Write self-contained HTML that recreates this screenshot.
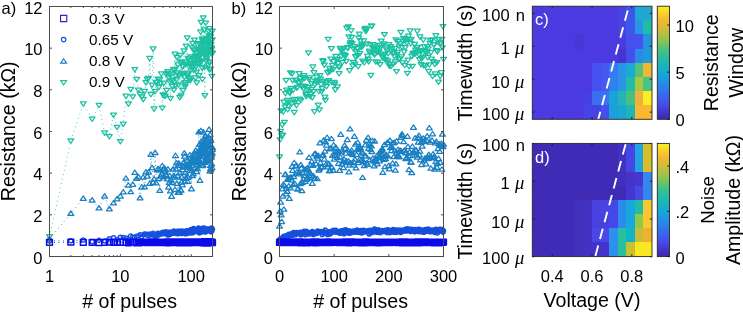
<!DOCTYPE html>
<html><head><meta charset="utf-8"><style>
html,body{margin:0;padding:0;background:#fff;width:743px;height:312px;overflow:hidden}
svg{display:block}
#w{will-change:transform;width:743px;height:312px}
</style></head><body><div id="w">
<svg width="743" height="312" viewBox="0 0 743 312">
<rect width="743" height="312" fill="#fff"/>
<defs><clipPath id="ca"><rect x="40" y="0" width="180" height="260"/></clipPath><clipPath id="cb"><rect x="272" y="0" width="180" height="260"/></clipPath></defs>
<g clip-path="url(#ca)">
<polyline points="49.50,236.71 70.82,140.88 83.30,103.79 92.15,119.00 99.01,105.25 104.62,132.96 109.36,136.50 113.47,115.04 117.10,127.33 120.34,141.50 123.27,124.21 125.95,96.18 128.41,103.90 130.69,89.27 132.81,96.76 134.80,69.52 136.66,79.28 138.42,90.17 140.08,94.28 141.66,96.80 143.16,99.39 144.59,91.43 145.96,82.66 147.27,79.42 148.53,78.36 149.73,58.40 150.89,94.44 152.01,85.01 153.09,48.92 154.14,108.98 155.14,91.45 156.12,82.38 157.07,82.44 157.99,79.03 158.88,87.25 159.75,79.31 160.59,83.23 161.41,73.83 162.21,108.12 162.99,94.95 163.75,83.21 164.49,96.18 165.21,96.03 165.92,74.12 166.61,90.32 167.29,73.42 167.95,71.70 168.60,77.09 169.23,74.20 169.85,81.84 170.46,98.42 171.06,80.35 171.64,73.83 172.22,86.28 172.78,80.48 173.34,69.27 173.88,90.05 174.42,70.21 174.94,54.19 175.46,85.18 175.97,75.90 176.47,79.51 176.96,57.46 177.45,72.80 177.92,64.80 178.39,84.82 178.86,75.64 179.31,75.09 179.76,97.44 180.20,55.43 180.64,61.98 181.07,95.75 181.49,63.10 181.91,73.98 182.33,66.07 182.73,66.71 183.13,90.39 183.53,73.36 183.92,50.94 184.31,77.24 184.69,82.63 185.07,86.60 185.44,84.42 185.81,63.94 186.18,46.03 186.54,61.98 186.89,63.99 187.24,37.95 187.59,73.15 187.93,74.79 188.27,58.91 188.61,58.31 188.94,78.15 189.27,79.82 189.60,60.62 189.92,60.85 190.24,80.59 190.55,66.00 190.87,70.08 191.18,56.81 191.48,63.96 191.78,63.26 192.09,66.42 192.38,47.96 192.68,43.31 192.97,65.73 193.26,49.78 193.54,70.21 193.83,59.22 194.11,50.19 194.39,40.04 194.66,64.27 194.94,60.02 195.21,56.26 195.48,77.89 195.74,58.07 196.01,66.74 196.27,52.96 196.53,72.10 196.78,82.79 197.04,56.51 197.29,53.39 197.54,63.60 197.79,44.78 198.04,59.55 198.29,63.60 198.53,49.37 198.77,75.56 199.01,63.82 199.25,55.11 199.48,43.64 199.72,56.48 199.95,50.16 200.18,62.39 200.41,49.80 200.64,31.99 200.86,62.12 201.08,22.47 201.31,61.13 201.53,52.38 201.75,50.15 201.96,39.04 202.18,68.17 202.39,79.25 202.61,44.21 202.82,41.69 203.03,43.83 203.24,17.83 203.44,49.08 203.65,48.37 203.85,39.58 204.06,46.74 204.26,29.94 204.46,67.35 204.66,56.13 204.86,95.70 205.05,40.64 205.25,55.88 205.44,39.06 205.64,23.10 205.83,50.93 206.02,54.07 206.21,57.17 206.39,61.47 206.58,58.72 206.77,42.25 206.95,49.96 207.14,49.52 207.32,52.54 207.50,38.43 207.68,43.79 207.86,51.94 208.04,41.45 208.22,51.94 208.39,64.80 208.57,31.05 208.74,43.77 208.91,62.08 209.09,35.72 209.26,45.14 209.43,69.74 209.60,28.67 209.77,45.10 209.93,37.83 210.10,46.73 210.27,51.15 210.43,69.16 210.60,36.55 210.76,48.65 210.92,52.68 211.08,44.39 211.24,47.85 211.40,40.08 211.56,53.54 211.72,49.16 211.88,76.26 212.04,54.04 212.19,39.79 212.35,31.19 212.50,53.10" fill="none" stroke="#1CC0A2" stroke-width="1" stroke-dasharray="0.9 3.6" opacity="0.9"/><path d="M49.50,239.11L52.45,234.71L46.55,234.71ZM70.82,143.28L73.77,138.88L67.87,138.88ZM83.30,106.19L86.25,101.79L80.35,101.79ZM92.15,121.40L95.10,117.00L89.20,117.00ZM99.01,107.65L101.96,103.25L96.06,103.25ZM104.62,135.36L107.57,130.96L101.67,130.96ZM109.36,138.90L112.31,134.50L106.41,134.50ZM113.47,117.44L116.42,113.04L110.52,113.04ZM117.10,129.73L120.05,125.33L114.15,125.33ZM120.34,143.90L123.29,139.50L117.39,139.50ZM123.27,126.61L126.22,122.21L120.32,122.21ZM125.95,98.58L128.90,94.18L123.00,94.18ZM128.41,106.30L131.36,101.90L125.46,101.90ZM130.69,91.67L133.64,87.27L127.74,87.27ZM132.81,99.16L135.76,94.76L129.86,94.76ZM134.80,71.92L137.75,67.52L131.85,67.52ZM136.66,81.68L139.61,77.28L133.71,77.28ZM138.42,92.57L141.37,88.17L135.47,88.17ZM140.08,96.68L143.03,92.28L137.13,92.28ZM141.66,99.20L144.61,94.80L138.71,94.80ZM143.16,101.79L146.11,97.39L140.21,97.39ZM144.59,93.83L147.54,89.43L141.64,89.43ZM145.96,85.06L148.91,80.66L143.01,80.66ZM147.27,81.82L150.22,77.42L144.32,77.42ZM148.53,80.76L151.48,76.36L145.58,76.36ZM149.73,60.80L152.68,56.40L146.78,56.40ZM150.89,96.84L153.84,92.44L147.94,92.44ZM152.01,87.41L154.96,83.01L149.06,83.01ZM153.09,51.32L156.04,46.92L150.14,46.92ZM154.14,111.38L157.09,106.98L151.19,106.98ZM155.14,93.85L158.09,89.45L152.19,89.45ZM156.12,84.78L159.07,80.38L153.17,80.38ZM157.07,84.84L160.02,80.44L154.12,80.44ZM157.99,81.43L160.94,77.03L155.04,77.03ZM158.88,89.65L161.83,85.25L155.93,85.25ZM159.75,81.71L162.70,77.31L156.80,77.31ZM160.59,85.63L163.54,81.23L157.64,81.23ZM161.41,76.23L164.36,71.83L158.46,71.83ZM162.21,110.52L165.16,106.12L159.26,106.12ZM162.99,97.35L165.94,92.95L160.04,92.95ZM163.75,85.61L166.70,81.21L160.80,81.21ZM164.49,98.58L167.44,94.18L161.54,94.18ZM165.21,98.43L168.16,94.03L162.26,94.03ZM165.92,76.52L168.87,72.12L162.97,72.12ZM166.61,92.72L169.56,88.32L163.66,88.32ZM167.29,75.82L170.24,71.42L164.34,71.42ZM167.95,74.10L170.90,69.70L165.00,69.70ZM168.60,79.49L171.55,75.09L165.65,75.09ZM169.23,76.60L172.18,72.20L166.28,72.20ZM169.85,84.24L172.80,79.84L166.90,79.84ZM170.46,100.82L173.41,96.42L167.51,96.42ZM171.06,82.75L174.01,78.35L168.11,78.35ZM171.64,76.23L174.59,71.83L168.69,71.83ZM172.22,88.68L175.17,84.28L169.27,84.28ZM172.78,82.88L175.73,78.48L169.83,78.48ZM173.34,71.67L176.29,67.27L170.39,67.27ZM173.88,92.45L176.83,88.05L170.93,88.05ZM174.42,72.61L177.37,68.21L171.47,68.21ZM174.94,56.59L177.89,52.19L171.99,52.19ZM175.46,87.58L178.41,83.18L172.51,83.18ZM175.97,78.30L178.92,73.90L173.02,73.90ZM176.47,81.91L179.42,77.51L173.52,77.51ZM176.96,59.86L179.91,55.46L174.01,55.46ZM177.45,75.20L180.40,70.80L174.50,70.80ZM177.92,67.20L180.87,62.80L174.97,62.80ZM178.39,87.22L181.34,82.82L175.44,82.82ZM178.86,78.04L181.81,73.64L175.91,73.64ZM179.31,77.49L182.26,73.09L176.36,73.09ZM179.76,99.84L182.71,95.44L176.81,95.44ZM180.20,57.83L183.15,53.43L177.25,53.43ZM180.64,64.38L183.59,59.98L177.69,59.98ZM181.07,98.15L184.02,93.75L178.12,93.75ZM181.49,65.50L184.44,61.10L178.54,61.10ZM181.91,76.38L184.86,71.98L178.96,71.98ZM182.33,68.47L185.28,64.07L179.38,64.07ZM182.73,69.11L185.68,64.71L179.78,64.71ZM183.13,92.79L186.08,88.39L180.18,88.39ZM183.53,75.76L186.48,71.36L180.58,71.36ZM183.92,53.34L186.87,48.94L180.97,48.94ZM184.31,79.64L187.26,75.24L181.36,75.24ZM184.69,85.03L187.64,80.63L181.74,80.63ZM185.07,89.00L188.02,84.60L182.12,84.60ZM185.44,86.82L188.39,82.42L182.49,82.42ZM185.81,66.34L188.76,61.94L182.86,61.94ZM186.18,48.43L189.13,44.03L183.23,44.03ZM186.54,64.38L189.49,59.98L183.59,59.98ZM186.89,66.39L189.84,61.99L183.94,61.99ZM187.24,40.35L190.19,35.95L184.29,35.95ZM187.59,75.55L190.54,71.15L184.64,71.15ZM187.93,77.19L190.88,72.79L184.98,72.79ZM188.27,61.31L191.22,56.91L185.32,56.91ZM188.61,60.71L191.56,56.31L185.66,56.31ZM188.94,80.55L191.89,76.15L185.99,76.15ZM189.27,82.22L192.22,77.82L186.32,77.82ZM189.60,63.02L192.55,58.62L186.65,58.62ZM189.92,63.25L192.87,58.85L186.97,58.85ZM190.24,82.99L193.19,78.59L187.29,78.59ZM190.55,68.40L193.50,64.00L187.60,64.00ZM190.87,72.48L193.82,68.08L187.92,68.08ZM191.18,59.21L194.13,54.81L188.23,54.81ZM191.48,66.36L194.43,61.96L188.53,61.96ZM191.78,65.66L194.73,61.26L188.83,61.26ZM192.09,68.82L195.04,64.42L189.14,64.42ZM192.38,50.36L195.33,45.96L189.43,45.96ZM192.68,45.71L195.63,41.31L189.73,41.31ZM192.97,68.13L195.92,63.73L190.02,63.73ZM193.26,52.18L196.21,47.78L190.31,47.78ZM193.54,72.61L196.49,68.21L190.59,68.21ZM193.83,61.62L196.78,57.22L190.88,57.22ZM194.11,52.59L197.06,48.19L191.16,48.19ZM194.39,42.44L197.34,38.04L191.44,38.04ZM194.66,66.67L197.61,62.27L191.71,62.27ZM194.94,62.42L197.89,58.02L191.99,58.02ZM195.21,58.66L198.16,54.26L192.26,54.26ZM195.48,80.29L198.43,75.89L192.53,75.89ZM195.74,60.47L198.69,56.07L192.79,56.07ZM196.01,69.14L198.96,64.74L193.06,64.74ZM196.27,55.36L199.22,50.96L193.32,50.96ZM196.53,74.50L199.48,70.10L193.58,70.10ZM196.78,85.19L199.73,80.79L193.83,80.79ZM197.04,58.91L199.99,54.51L194.09,54.51ZM197.29,55.79L200.24,51.39L194.34,51.39ZM197.54,66.00L200.49,61.60L194.59,61.60ZM197.79,47.18L200.74,42.78L194.84,42.78ZM198.04,61.95L200.99,57.55L195.09,57.55ZM198.29,66.00L201.24,61.60L195.34,61.60ZM198.53,51.77L201.48,47.37L195.58,47.37ZM198.77,77.96L201.72,73.56L195.82,73.56ZM199.01,66.22L201.96,61.82L196.06,61.82ZM199.25,57.51L202.20,53.11L196.30,53.11ZM199.48,46.04L202.43,41.64L196.53,41.64ZM199.72,58.88L202.67,54.48L196.77,54.48ZM199.95,52.56L202.90,48.16L197.00,48.16ZM200.18,64.79L203.13,60.39L197.23,60.39ZM200.41,52.20L203.36,47.80L197.46,47.80ZM200.64,34.39L203.59,29.99L197.69,29.99ZM200.86,64.52L203.81,60.12L197.91,60.12ZM201.08,24.87L204.03,20.47L198.13,20.47ZM201.31,63.53L204.26,59.13L198.36,59.13ZM201.53,54.78L204.48,50.38L198.58,50.38ZM201.75,52.55L204.70,48.15L198.80,48.15ZM201.96,41.44L204.91,37.04L199.01,37.04ZM202.18,70.57L205.13,66.17L199.23,66.17ZM202.39,81.65L205.34,77.25L199.44,77.25ZM202.61,46.61L205.56,42.21L199.66,42.21ZM202.82,44.09L205.77,39.69L199.87,39.69ZM203.03,46.23L205.98,41.83L200.08,41.83ZM203.24,20.23L206.19,15.83L200.29,15.83ZM203.44,51.48L206.39,47.08L200.49,47.08ZM203.65,50.77L206.60,46.37L200.70,46.37ZM203.85,41.98L206.80,37.58L200.90,37.58ZM204.06,49.14L207.01,44.74L201.11,44.74ZM204.26,32.34L207.21,27.94L201.31,27.94ZM204.46,69.75L207.41,65.35L201.51,65.35ZM204.66,58.53L207.61,54.13L201.71,54.13ZM204.86,98.10L207.81,93.70L201.91,93.70ZM205.05,43.04L208.00,38.64L202.10,38.64ZM205.25,58.28L208.20,53.88L202.30,53.88ZM205.44,41.46L208.39,37.06L202.49,37.06ZM205.64,25.50L208.59,21.10L202.69,21.10ZM205.83,53.33L208.78,48.93L202.88,48.93ZM206.02,56.47L208.97,52.07L203.07,52.07ZM206.21,59.57L209.16,55.17L203.26,55.17ZM206.39,63.87L209.34,59.47L203.44,59.47ZM206.58,61.12L209.53,56.72L203.63,56.72ZM206.77,44.65L209.72,40.25L203.82,40.25ZM206.95,52.36L209.90,47.96L204.00,47.96ZM207.14,51.92L210.09,47.52L204.19,47.52ZM207.32,54.94L210.27,50.54L204.37,50.54ZM207.50,40.83L210.45,36.43L204.55,36.43ZM207.68,46.19L210.63,41.79L204.73,41.79ZM207.86,54.34L210.81,49.94L204.91,49.94ZM208.04,43.85L210.99,39.45L205.09,39.45ZM208.22,54.34L211.17,49.94L205.27,49.94ZM208.39,67.20L211.34,62.80L205.44,62.80ZM208.57,33.45L211.52,29.05L205.62,29.05ZM208.74,46.17L211.69,41.77L205.79,41.77ZM208.91,64.48L211.86,60.08L205.96,60.08ZM209.09,38.12L212.04,33.72L206.14,33.72ZM209.26,47.54L212.21,43.14L206.31,43.14ZM209.43,72.14L212.38,67.74L206.48,67.74ZM209.60,31.07L212.55,26.67L206.65,26.67ZM209.77,47.50L212.72,43.10L206.82,43.10ZM209.93,40.23L212.88,35.83L206.98,35.83ZM210.10,49.13L213.05,44.73L207.15,44.73ZM210.27,53.55L213.22,49.15L207.32,49.15ZM210.43,71.56L213.38,67.16L207.48,67.16ZM210.60,38.95L213.55,34.55L207.65,34.55ZM210.76,51.05L213.71,46.65L207.81,46.65ZM210.92,55.08L213.87,50.68L207.97,50.68ZM211.08,46.79L214.03,42.39L208.13,42.39ZM211.24,50.25L214.19,45.85L208.29,45.85ZM211.40,42.48L214.35,38.08L208.45,38.08ZM211.56,55.94L214.51,51.54L208.61,51.54ZM211.72,51.56L214.67,47.16L208.77,47.16ZM211.88,78.66L214.83,74.26L208.93,74.26ZM212.04,56.44L214.99,52.04L209.09,52.04ZM212.19,42.19L215.14,37.79L209.24,37.79ZM212.35,33.59L215.30,29.19L209.40,29.19ZM212.50,55.50L215.45,51.10L209.55,51.10Z" fill="none" stroke="#1CC0A2" stroke-width="1.25" stroke-linejoin="round"/>
<polyline points="49.50,238.79 70.82,213.38 83.30,198.38 92.15,200.04 99.01,207.96 104.62,196.08 109.36,208.79 113.47,202.96 117.10,198.79 120.34,196.08 123.27,191.92 125.95,178.15 128.41,185.16 130.69,191.74 132.81,184.37 134.80,172.43 136.66,178.45 138.42,176.87 140.08,197.83 141.66,187.17 143.16,177.14 144.59,186.99 145.96,171.96 147.27,176.11 148.53,172.12 149.73,183.40 150.89,154.32 152.01,167.60 153.09,182.44 154.14,178.95 155.14,152.56 156.12,182.88 157.07,169.93 157.99,168.55 158.88,178.43 159.75,190.40 160.59,176.04 161.41,174.01 162.21,165.75 162.99,169.15 163.75,176.88 164.49,168.08 165.21,171.19 165.92,174.51 166.61,175.93 167.29,178.89 167.95,169.06 168.60,187.05 169.23,182.47 169.85,175.74 170.46,190.90 171.06,180.06 171.64,196.32 172.22,182.38 172.78,169.22 173.34,169.12 173.88,175.47 174.42,177.20 174.94,189.42 175.46,155.51 175.97,169.06 176.47,162.94 176.96,183.41 177.45,175.82 177.92,192.49 178.39,165.06 178.86,163.11 179.31,192.28 179.76,172.73 180.20,165.29 180.64,189.89 181.07,190.24 181.49,182.00 181.91,177.16 182.33,184.91 182.73,169.67 183.13,167.10 183.53,162.81 183.92,161.81 184.31,153.09 184.69,156.16 185.07,181.51 185.44,172.67 185.81,178.02 186.18,177.76 186.54,166.97 186.89,165.65 187.24,160.19 187.59,181.41 187.93,177.37 188.27,164.32 188.61,165.76 188.94,166.54 189.27,163.56 189.60,170.44 189.92,154.84 190.24,158.08 190.55,162.31 190.87,168.03 191.18,162.48 191.48,188.84 191.78,170.53 192.09,159.74 192.38,175.62 192.68,157.71 192.97,158.08 193.26,173.79 193.54,161.88 193.83,162.38 194.11,154.15 194.39,152.40 194.66,158.99 194.94,167.32 195.21,159.80 195.48,158.82 195.74,150.33 196.01,154.76 196.27,165.20 196.53,171.63 196.78,161.25 197.04,164.93 197.29,168.65 197.54,158.13 197.79,161.89 198.04,155.53 198.29,151.03 198.53,160.64 198.77,131.99 199.01,159.41 199.25,144.44 199.48,154.51 199.72,144.02 199.95,180.26 200.18,163.20 200.41,152.66 200.64,148.83 200.86,130.63 201.08,151.48 201.31,141.38 201.53,146.59 201.75,144.58 201.96,149.07 202.18,155.97 202.39,149.00 202.61,165.50 202.82,141.92 203.03,164.79 203.24,151.56 203.44,132.02 203.65,156.40 203.85,153.84 204.06,141.89 204.26,153.69 204.46,162.34 204.66,151.20 204.86,147.79 205.05,146.42 205.25,161.83 205.44,135.49 205.64,136.35 205.83,153.49 206.02,150.84 206.21,158.07 206.39,138.84 206.58,160.88 206.77,146.48 206.95,158.47 207.14,160.67 207.32,145.92 207.50,139.48 207.68,153.44 207.86,160.36 208.04,144.82 208.22,153.75 208.39,149.97 208.57,137.31 208.74,141.35 208.91,158.52 209.09,129.29 209.26,153.01 209.43,144.83 209.60,159.73 209.77,153.42 209.93,171.15 210.10,134.28 210.27,138.63 210.43,165.49 210.60,168.48 210.76,169.66 210.92,140.49 211.08,157.50 211.24,153.31 211.40,155.91 211.56,153.88 211.72,163.93 211.88,152.31 212.04,167.51 212.19,153.25 212.35,149.26 212.50,147.58" fill="none" stroke="#1A80C4" stroke-width="1" stroke-dasharray="0.9 3.6" opacity="0.9"/><path d="M49.50,236.39L52.45,240.79L46.55,240.79ZM70.82,210.97L73.77,215.38L67.87,215.38ZM83.30,195.97L86.25,200.38L80.35,200.38ZM92.15,197.64L95.10,202.04L89.20,202.04ZM99.01,205.56L101.96,209.96L96.06,209.96ZM104.62,193.68L107.57,198.08L101.67,198.08ZM109.36,206.39L112.31,210.79L106.41,210.79ZM113.47,200.56L116.42,204.96L110.52,204.96ZM117.10,196.39L120.05,200.79L114.15,200.79ZM120.34,193.68L123.29,198.08L117.39,198.08ZM123.27,189.52L126.22,193.92L120.32,193.92ZM125.95,175.75L128.90,180.15L123.00,180.15ZM128.41,182.76L131.36,187.16L125.46,187.16ZM130.69,189.34L133.64,193.74L127.74,193.74ZM132.81,181.97L135.76,186.37L129.86,186.37ZM134.80,170.03L137.75,174.43L131.85,174.43ZM136.66,176.05L139.61,180.45L133.71,180.45ZM138.42,174.47L141.37,178.87L135.47,178.87ZM140.08,195.43L143.03,199.83L137.13,199.83ZM141.66,184.77L144.61,189.17L138.71,189.17ZM143.16,174.74L146.11,179.14L140.21,179.14ZM144.59,184.59L147.54,188.99L141.64,188.99ZM145.96,169.56L148.91,173.96L143.01,173.96ZM147.27,173.71L150.22,178.11L144.32,178.11ZM148.53,169.72L151.48,174.12L145.58,174.12ZM149.73,181.00L152.68,185.40L146.78,185.40ZM150.89,151.92L153.84,156.32L147.94,156.32ZM152.01,165.20L154.96,169.60L149.06,169.60ZM153.09,180.04L156.04,184.44L150.14,184.44ZM154.14,176.55L157.09,180.95L151.19,180.95ZM155.14,150.16L158.09,154.56L152.19,154.56ZM156.12,180.48L159.07,184.88L153.17,184.88ZM157.07,167.53L160.02,171.93L154.12,171.93ZM157.99,166.15L160.94,170.55L155.04,170.55ZM158.88,176.03L161.83,180.43L155.93,180.43ZM159.75,188.00L162.70,192.40L156.80,192.40ZM160.59,173.64L163.54,178.04L157.64,178.04ZM161.41,171.61L164.36,176.01L158.46,176.01ZM162.21,163.35L165.16,167.75L159.26,167.75ZM162.99,166.75L165.94,171.15L160.04,171.15ZM163.75,174.48L166.70,178.88L160.80,178.88ZM164.49,165.68L167.44,170.08L161.54,170.08ZM165.21,168.79L168.16,173.19L162.26,173.19ZM165.92,172.11L168.87,176.51L162.97,176.51ZM166.61,173.53L169.56,177.93L163.66,177.93ZM167.29,176.49L170.24,180.89L164.34,180.89ZM167.95,166.66L170.90,171.06L165.00,171.06ZM168.60,184.65L171.55,189.05L165.65,189.05ZM169.23,180.07L172.18,184.47L166.28,184.47ZM169.85,173.34L172.80,177.74L166.90,177.74ZM170.46,188.50L173.41,192.90L167.51,192.90ZM171.06,177.66L174.01,182.06L168.11,182.06ZM171.64,193.92L174.59,198.32L168.69,198.32ZM172.22,179.98L175.17,184.38L169.27,184.38ZM172.78,166.82L175.73,171.22L169.83,171.22ZM173.34,166.72L176.29,171.12L170.39,171.12ZM173.88,173.07L176.83,177.47L170.93,177.47ZM174.42,174.80L177.37,179.20L171.47,179.20ZM174.94,187.02L177.89,191.42L171.99,191.42ZM175.46,153.11L178.41,157.51L172.51,157.51ZM175.97,166.66L178.92,171.06L173.02,171.06ZM176.47,160.54L179.42,164.94L173.52,164.94ZM176.96,181.01L179.91,185.41L174.01,185.41ZM177.45,173.42L180.40,177.82L174.50,177.82ZM177.92,190.09L180.87,194.49L174.97,194.49ZM178.39,162.66L181.34,167.06L175.44,167.06ZM178.86,160.71L181.81,165.11L175.91,165.11ZM179.31,189.88L182.26,194.28L176.36,194.28ZM179.76,170.33L182.71,174.73L176.81,174.73ZM180.20,162.89L183.15,167.29L177.25,167.29ZM180.64,187.49L183.59,191.89L177.69,191.89ZM181.07,187.84L184.02,192.24L178.12,192.24ZM181.49,179.60L184.44,184.00L178.54,184.00ZM181.91,174.76L184.86,179.16L178.96,179.16ZM182.33,182.51L185.28,186.91L179.38,186.91ZM182.73,167.27L185.68,171.67L179.78,171.67ZM183.13,164.70L186.08,169.10L180.18,169.10ZM183.53,160.41L186.48,164.81L180.58,164.81ZM183.92,159.41L186.87,163.81L180.97,163.81ZM184.31,150.69L187.26,155.09L181.36,155.09ZM184.69,153.76L187.64,158.16L181.74,158.16ZM185.07,179.11L188.02,183.51L182.12,183.51ZM185.44,170.27L188.39,174.67L182.49,174.67ZM185.81,175.62L188.76,180.02L182.86,180.02ZM186.18,175.36L189.13,179.76L183.23,179.76ZM186.54,164.57L189.49,168.97L183.59,168.97ZM186.89,163.25L189.84,167.65L183.94,167.65ZM187.24,157.79L190.19,162.19L184.29,162.19ZM187.59,179.01L190.54,183.41L184.64,183.41ZM187.93,174.97L190.88,179.37L184.98,179.37ZM188.27,161.92L191.22,166.32L185.32,166.32ZM188.61,163.36L191.56,167.76L185.66,167.76ZM188.94,164.14L191.89,168.54L185.99,168.54ZM189.27,161.16L192.22,165.56L186.32,165.56ZM189.60,168.04L192.55,172.44L186.65,172.44ZM189.92,152.44L192.87,156.84L186.97,156.84ZM190.24,155.68L193.19,160.08L187.29,160.08ZM190.55,159.91L193.50,164.31L187.60,164.31ZM190.87,165.63L193.82,170.03L187.92,170.03ZM191.18,160.08L194.13,164.48L188.23,164.48ZM191.48,186.44L194.43,190.84L188.53,190.84ZM191.78,168.13L194.73,172.53L188.83,172.53ZM192.09,157.34L195.04,161.74L189.14,161.74ZM192.38,173.22L195.33,177.62L189.43,177.62ZM192.68,155.31L195.63,159.71L189.73,159.71ZM192.97,155.68L195.92,160.08L190.02,160.08ZM193.26,171.39L196.21,175.79L190.31,175.79ZM193.54,159.48L196.49,163.88L190.59,163.88ZM193.83,159.98L196.78,164.38L190.88,164.38ZM194.11,151.75L197.06,156.15L191.16,156.15ZM194.39,150.00L197.34,154.40L191.44,154.40ZM194.66,156.59L197.61,160.99L191.71,160.99ZM194.94,164.92L197.89,169.32L191.99,169.32ZM195.21,157.40L198.16,161.80L192.26,161.80ZM195.48,156.42L198.43,160.82L192.53,160.82ZM195.74,147.93L198.69,152.33L192.79,152.33ZM196.01,152.36L198.96,156.76L193.06,156.76ZM196.27,162.80L199.22,167.20L193.32,167.20ZM196.53,169.23L199.48,173.63L193.58,173.63ZM196.78,158.85L199.73,163.25L193.83,163.25ZM197.04,162.53L199.99,166.93L194.09,166.93ZM197.29,166.25L200.24,170.65L194.34,170.65ZM197.54,155.73L200.49,160.13L194.59,160.13ZM197.79,159.49L200.74,163.89L194.84,163.89ZM198.04,153.13L200.99,157.53L195.09,157.53ZM198.29,148.63L201.24,153.03L195.34,153.03ZM198.53,158.24L201.48,162.64L195.58,162.64ZM198.77,129.59L201.72,133.99L195.82,133.99ZM199.01,157.01L201.96,161.41L196.06,161.41ZM199.25,142.04L202.20,146.44L196.30,146.44ZM199.48,152.11L202.43,156.51L196.53,156.51ZM199.72,141.62L202.67,146.02L196.77,146.02ZM199.95,177.86L202.90,182.26L197.00,182.26ZM200.18,160.80L203.13,165.20L197.23,165.20ZM200.41,150.26L203.36,154.66L197.46,154.66ZM200.64,146.43L203.59,150.83L197.69,150.83ZM200.86,128.23L203.81,132.63L197.91,132.63ZM201.08,149.08L204.03,153.48L198.13,153.48ZM201.31,138.98L204.26,143.38L198.36,143.38ZM201.53,144.19L204.48,148.59L198.58,148.59ZM201.75,142.18L204.70,146.58L198.80,146.58ZM201.96,146.67L204.91,151.07L199.01,151.07ZM202.18,153.57L205.13,157.97L199.23,157.97ZM202.39,146.60L205.34,151.00L199.44,151.00ZM202.61,163.10L205.56,167.50L199.66,167.50ZM202.82,139.52L205.77,143.92L199.87,143.92ZM203.03,162.39L205.98,166.79L200.08,166.79ZM203.24,149.16L206.19,153.56L200.29,153.56ZM203.44,129.62L206.39,134.02L200.49,134.02ZM203.65,154.00L206.60,158.40L200.70,158.40ZM203.85,151.44L206.80,155.84L200.90,155.84ZM204.06,139.49L207.01,143.89L201.11,143.89ZM204.26,151.29L207.21,155.69L201.31,155.69ZM204.46,159.94L207.41,164.34L201.51,164.34ZM204.66,148.80L207.61,153.20L201.71,153.20ZM204.86,145.39L207.81,149.79L201.91,149.79ZM205.05,144.02L208.00,148.42L202.10,148.42ZM205.25,159.43L208.20,163.83L202.30,163.83ZM205.44,133.09L208.39,137.49L202.49,137.49ZM205.64,133.95L208.59,138.35L202.69,138.35ZM205.83,151.09L208.78,155.49L202.88,155.49ZM206.02,148.44L208.97,152.84L203.07,152.84ZM206.21,155.67L209.16,160.07L203.26,160.07ZM206.39,136.44L209.34,140.84L203.44,140.84ZM206.58,158.48L209.53,162.88L203.63,162.88ZM206.77,144.08L209.72,148.48L203.82,148.48ZM206.95,156.07L209.90,160.47L204.00,160.47ZM207.14,158.27L210.09,162.67L204.19,162.67ZM207.32,143.52L210.27,147.92L204.37,147.92ZM207.50,137.08L210.45,141.48L204.55,141.48ZM207.68,151.04L210.63,155.44L204.73,155.44ZM207.86,157.96L210.81,162.36L204.91,162.36ZM208.04,142.42L210.99,146.82L205.09,146.82ZM208.22,151.35L211.17,155.75L205.27,155.75ZM208.39,147.57L211.34,151.97L205.44,151.97ZM208.57,134.91L211.52,139.31L205.62,139.31ZM208.74,138.95L211.69,143.35L205.79,143.35ZM208.91,156.12L211.86,160.52L205.96,160.52ZM209.09,126.89L212.04,131.29L206.14,131.29ZM209.26,150.61L212.21,155.01L206.31,155.01ZM209.43,142.43L212.38,146.83L206.48,146.83ZM209.60,157.33L212.55,161.73L206.65,161.73ZM209.77,151.02L212.72,155.42L206.82,155.42ZM209.93,168.75L212.88,173.15L206.98,173.15ZM210.10,131.88L213.05,136.28L207.15,136.28ZM210.27,136.23L213.22,140.63L207.32,140.63ZM210.43,163.09L213.38,167.49L207.48,167.49ZM210.60,166.08L213.55,170.48L207.65,170.48ZM210.76,167.26L213.71,171.66L207.81,171.66ZM210.92,138.09L213.87,142.49L207.97,142.49ZM211.08,155.10L214.03,159.50L208.13,159.50ZM211.24,150.91L214.19,155.31L208.29,155.31ZM211.40,153.51L214.35,157.91L208.45,157.91ZM211.56,151.48L214.51,155.88L208.61,155.88ZM211.72,161.53L214.67,165.93L208.77,165.93ZM211.88,149.91L214.83,154.31L208.93,154.31ZM212.04,165.11L214.99,169.51L209.09,169.51ZM212.19,150.85L215.14,155.25L209.24,155.25ZM212.35,146.86L215.30,151.26L209.40,151.26ZM212.50,145.18L215.45,149.58L209.55,149.58Z" fill="none" stroke="#1A80C4" stroke-width="1.25" stroke-linejoin="round"/>
<polyline points="49.50,240.73 70.82,240.84 83.30,239.94 92.15,241.66 99.01,240.30 104.62,240.97 109.36,238.85 113.47,237.79 117.10,239.86 120.34,237.33 123.27,237.43 125.95,238.13 128.41,239.47 130.69,236.01 132.81,237.15 134.80,237.38 136.66,236.20 138.42,235.96 140.08,234.73 141.66,236.89 143.16,234.68 144.59,234.17 145.96,234.03 147.27,235.39 148.53,235.76 149.73,233.98 150.89,234.72 152.01,234.60 153.09,233.27 154.14,234.75 155.14,236.56 156.12,234.67 157.07,235.96 157.99,233.36 158.88,233.74 159.75,234.53 160.59,233.88 161.41,233.01 162.21,233.64 162.99,232.39 163.75,233.62 164.49,232.52 165.21,232.02 165.92,231.84 166.61,233.91 167.29,232.39 167.95,234.91 168.60,234.10 169.23,234.87 169.85,231.96 170.46,234.07 171.06,232.87 171.64,232.99 172.22,232.78 172.78,233.26 173.34,232.44 173.88,230.93 174.42,232.52 174.94,232.02 175.46,231.53 175.97,232.61 176.47,233.56 176.96,232.86 177.45,231.29 177.92,233.80 178.39,232.77 178.86,231.23 179.31,231.39 179.76,232.08 180.20,231.30 180.64,231.86 181.07,233.08 181.49,233.40 181.91,232.50 182.33,231.00 182.73,232.36 183.13,232.64 183.53,232.48 183.92,233.16 184.31,231.80 184.69,232.76 185.07,231.28 185.44,233.80 185.81,231.25 186.18,232.13 186.54,233.31 186.89,230.78 187.24,231.69 187.59,233.49 187.93,232.19 188.27,231.07 188.61,231.74 188.94,230.55 189.27,230.55 189.60,230.60 189.92,230.89 190.24,229.92 190.55,230.52 190.87,230.69 191.18,233.04 191.48,230.22 191.78,229.81 192.09,231.29 192.38,231.43 192.68,229.15 192.97,232.60 193.26,230.49 193.54,228.63 193.83,231.75 194.11,230.21 194.39,229.07 194.66,230.93 194.94,230.27 195.21,229.93 195.48,231.61 195.74,230.82 196.01,230.44 196.27,229.92 196.53,230.71 196.78,230.84 197.04,231.59 197.29,230.96 197.54,229.76 197.79,230.49 198.04,231.36 198.29,231.33 198.53,228.03 198.77,229.44 199.01,229.89 199.25,232.90 199.48,229.87 199.72,229.98 199.95,228.84 200.18,230.00 200.41,230.45 200.64,229.88 200.86,232.17 201.08,229.36 201.31,230.01 201.53,230.96 201.75,229.04 201.96,228.57 202.18,231.56 202.39,230.86 202.61,229.94 202.82,230.03 203.03,230.56 203.24,231.08 203.44,228.16 203.65,229.16 203.85,231.24 204.06,231.37 204.26,228.49 204.46,229.15 204.66,228.35 204.86,229.29 205.05,230.85 205.25,229.77 205.44,232.03 205.64,230.69 205.83,230.03 206.02,229.47 206.21,230.62 206.39,230.04 206.58,229.48 206.77,229.55 206.95,229.29 207.14,229.68 207.32,230.16 207.50,229.10 207.68,229.78 207.86,230.59 208.04,230.39 208.22,229.79 208.39,229.88 208.57,229.62 208.74,229.75 208.91,229.57 209.09,229.85 209.26,230.89 209.43,229.30 209.60,228.70 209.77,229.26 209.93,229.84 210.10,229.23 210.27,230.54 210.43,231.40 210.60,229.55 210.76,230.47 210.92,228.89 211.08,230.59 211.24,232.02 211.40,230.52 211.56,228.06 211.72,229.88 211.88,230.80 212.04,230.22 212.19,229.00 212.35,229.01 212.50,229.30" fill="none" stroke="#1550DC" stroke-width="1" stroke-dasharray="0.9 3.6" opacity="0.9"/><path d="M47.40,240.73a2.1,2.1 0 1,0 4.2,0a2.1,2.1 0 1,0 -4.2,0ZM68.72,240.84a2.1,2.1 0 1,0 4.2,0a2.1,2.1 0 1,0 -4.2,0ZM81.20,239.94a2.1,2.1 0 1,0 4.2,0a2.1,2.1 0 1,0 -4.2,0ZM90.05,241.66a2.1,2.1 0 1,0 4.2,0a2.1,2.1 0 1,0 -4.2,0ZM96.91,240.30a2.1,2.1 0 1,0 4.2,0a2.1,2.1 0 1,0 -4.2,0ZM102.52,240.97a2.1,2.1 0 1,0 4.2,0a2.1,2.1 0 1,0 -4.2,0ZM107.26,238.85a2.1,2.1 0 1,0 4.2,0a2.1,2.1 0 1,0 -4.2,0ZM111.37,237.79a2.1,2.1 0 1,0 4.2,0a2.1,2.1 0 1,0 -4.2,0ZM115.00,239.86a2.1,2.1 0 1,0 4.2,0a2.1,2.1 0 1,0 -4.2,0ZM118.24,237.33a2.1,2.1 0 1,0 4.2,0a2.1,2.1 0 1,0 -4.2,0ZM121.17,237.43a2.1,2.1 0 1,0 4.2,0a2.1,2.1 0 1,0 -4.2,0ZM123.85,238.13a2.1,2.1 0 1,0 4.2,0a2.1,2.1 0 1,0 -4.2,0ZM126.31,239.47a2.1,2.1 0 1,0 4.2,0a2.1,2.1 0 1,0 -4.2,0ZM128.59,236.01a2.1,2.1 0 1,0 4.2,0a2.1,2.1 0 1,0 -4.2,0ZM130.71,237.15a2.1,2.1 0 1,0 4.2,0a2.1,2.1 0 1,0 -4.2,0ZM132.70,237.38a2.1,2.1 0 1,0 4.2,0a2.1,2.1 0 1,0 -4.2,0ZM134.56,236.20a2.1,2.1 0 1,0 4.2,0a2.1,2.1 0 1,0 -4.2,0ZM136.32,235.96a2.1,2.1 0 1,0 4.2,0a2.1,2.1 0 1,0 -4.2,0ZM137.98,234.73a2.1,2.1 0 1,0 4.2,0a2.1,2.1 0 1,0 -4.2,0ZM139.56,236.89a2.1,2.1 0 1,0 4.2,0a2.1,2.1 0 1,0 -4.2,0ZM141.06,234.68a2.1,2.1 0 1,0 4.2,0a2.1,2.1 0 1,0 -4.2,0ZM142.49,234.17a2.1,2.1 0 1,0 4.2,0a2.1,2.1 0 1,0 -4.2,0ZM143.86,234.03a2.1,2.1 0 1,0 4.2,0a2.1,2.1 0 1,0 -4.2,0ZM145.17,235.39a2.1,2.1 0 1,0 4.2,0a2.1,2.1 0 1,0 -4.2,0ZM146.43,235.76a2.1,2.1 0 1,0 4.2,0a2.1,2.1 0 1,0 -4.2,0ZM147.63,233.98a2.1,2.1 0 1,0 4.2,0a2.1,2.1 0 1,0 -4.2,0ZM148.79,234.72a2.1,2.1 0 1,0 4.2,0a2.1,2.1 0 1,0 -4.2,0ZM149.91,234.60a2.1,2.1 0 1,0 4.2,0a2.1,2.1 0 1,0 -4.2,0ZM150.99,233.27a2.1,2.1 0 1,0 4.2,0a2.1,2.1 0 1,0 -4.2,0ZM152.04,234.75a2.1,2.1 0 1,0 4.2,0a2.1,2.1 0 1,0 -4.2,0ZM153.04,236.56a2.1,2.1 0 1,0 4.2,0a2.1,2.1 0 1,0 -4.2,0ZM154.02,234.67a2.1,2.1 0 1,0 4.2,0a2.1,2.1 0 1,0 -4.2,0ZM154.97,235.96a2.1,2.1 0 1,0 4.2,0a2.1,2.1 0 1,0 -4.2,0ZM155.89,233.36a2.1,2.1 0 1,0 4.2,0a2.1,2.1 0 1,0 -4.2,0ZM156.78,233.74a2.1,2.1 0 1,0 4.2,0a2.1,2.1 0 1,0 -4.2,0ZM157.65,234.53a2.1,2.1 0 1,0 4.2,0a2.1,2.1 0 1,0 -4.2,0ZM158.49,233.88a2.1,2.1 0 1,0 4.2,0a2.1,2.1 0 1,0 -4.2,0ZM159.31,233.01a2.1,2.1 0 1,0 4.2,0a2.1,2.1 0 1,0 -4.2,0ZM160.11,233.64a2.1,2.1 0 1,0 4.2,0a2.1,2.1 0 1,0 -4.2,0ZM160.89,232.39a2.1,2.1 0 1,0 4.2,0a2.1,2.1 0 1,0 -4.2,0ZM161.65,233.62a2.1,2.1 0 1,0 4.2,0a2.1,2.1 0 1,0 -4.2,0ZM162.39,232.52a2.1,2.1 0 1,0 4.2,0a2.1,2.1 0 1,0 -4.2,0ZM163.11,232.02a2.1,2.1 0 1,0 4.2,0a2.1,2.1 0 1,0 -4.2,0ZM163.82,231.84a2.1,2.1 0 1,0 4.2,0a2.1,2.1 0 1,0 -4.2,0ZM164.51,233.91a2.1,2.1 0 1,0 4.2,0a2.1,2.1 0 1,0 -4.2,0ZM165.19,232.39a2.1,2.1 0 1,0 4.2,0a2.1,2.1 0 1,0 -4.2,0ZM165.85,234.91a2.1,2.1 0 1,0 4.2,0a2.1,2.1 0 1,0 -4.2,0ZM166.50,234.10a2.1,2.1 0 1,0 4.2,0a2.1,2.1 0 1,0 -4.2,0ZM167.13,234.87a2.1,2.1 0 1,0 4.2,0a2.1,2.1 0 1,0 -4.2,0ZM167.75,231.96a2.1,2.1 0 1,0 4.2,0a2.1,2.1 0 1,0 -4.2,0ZM168.36,234.07a2.1,2.1 0 1,0 4.2,0a2.1,2.1 0 1,0 -4.2,0ZM168.96,232.87a2.1,2.1 0 1,0 4.2,0a2.1,2.1 0 1,0 -4.2,0ZM169.54,232.99a2.1,2.1 0 1,0 4.2,0a2.1,2.1 0 1,0 -4.2,0ZM170.12,232.78a2.1,2.1 0 1,0 4.2,0a2.1,2.1 0 1,0 -4.2,0ZM170.68,233.26a2.1,2.1 0 1,0 4.2,0a2.1,2.1 0 1,0 -4.2,0ZM171.24,232.44a2.1,2.1 0 1,0 4.2,0a2.1,2.1 0 1,0 -4.2,0ZM171.78,230.93a2.1,2.1 0 1,0 4.2,0a2.1,2.1 0 1,0 -4.2,0ZM172.32,232.52a2.1,2.1 0 1,0 4.2,0a2.1,2.1 0 1,0 -4.2,0ZM172.84,232.02a2.1,2.1 0 1,0 4.2,0a2.1,2.1 0 1,0 -4.2,0ZM173.36,231.53a2.1,2.1 0 1,0 4.2,0a2.1,2.1 0 1,0 -4.2,0ZM173.87,232.61a2.1,2.1 0 1,0 4.2,0a2.1,2.1 0 1,0 -4.2,0ZM174.37,233.56a2.1,2.1 0 1,0 4.2,0a2.1,2.1 0 1,0 -4.2,0ZM174.86,232.86a2.1,2.1 0 1,0 4.2,0a2.1,2.1 0 1,0 -4.2,0ZM175.35,231.29a2.1,2.1 0 1,0 4.2,0a2.1,2.1 0 1,0 -4.2,0ZM175.82,233.80a2.1,2.1 0 1,0 4.2,0a2.1,2.1 0 1,0 -4.2,0ZM176.29,232.77a2.1,2.1 0 1,0 4.2,0a2.1,2.1 0 1,0 -4.2,0ZM176.76,231.23a2.1,2.1 0 1,0 4.2,0a2.1,2.1 0 1,0 -4.2,0ZM177.21,231.39a2.1,2.1 0 1,0 4.2,0a2.1,2.1 0 1,0 -4.2,0ZM177.66,232.08a2.1,2.1 0 1,0 4.2,0a2.1,2.1 0 1,0 -4.2,0ZM178.10,231.30a2.1,2.1 0 1,0 4.2,0a2.1,2.1 0 1,0 -4.2,0ZM178.54,231.86a2.1,2.1 0 1,0 4.2,0a2.1,2.1 0 1,0 -4.2,0ZM178.97,233.08a2.1,2.1 0 1,0 4.2,0a2.1,2.1 0 1,0 -4.2,0ZM179.39,233.40a2.1,2.1 0 1,0 4.2,0a2.1,2.1 0 1,0 -4.2,0ZM179.81,232.50a2.1,2.1 0 1,0 4.2,0a2.1,2.1 0 1,0 -4.2,0ZM180.23,231.00a2.1,2.1 0 1,0 4.2,0a2.1,2.1 0 1,0 -4.2,0ZM180.63,232.36a2.1,2.1 0 1,0 4.2,0a2.1,2.1 0 1,0 -4.2,0ZM181.03,232.64a2.1,2.1 0 1,0 4.2,0a2.1,2.1 0 1,0 -4.2,0ZM181.43,232.48a2.1,2.1 0 1,0 4.2,0a2.1,2.1 0 1,0 -4.2,0ZM181.82,233.16a2.1,2.1 0 1,0 4.2,0a2.1,2.1 0 1,0 -4.2,0ZM182.21,231.80a2.1,2.1 0 1,0 4.2,0a2.1,2.1 0 1,0 -4.2,0ZM182.59,232.76a2.1,2.1 0 1,0 4.2,0a2.1,2.1 0 1,0 -4.2,0ZM182.97,231.28a2.1,2.1 0 1,0 4.2,0a2.1,2.1 0 1,0 -4.2,0ZM183.34,233.80a2.1,2.1 0 1,0 4.2,0a2.1,2.1 0 1,0 -4.2,0ZM183.71,231.25a2.1,2.1 0 1,0 4.2,0a2.1,2.1 0 1,0 -4.2,0ZM184.08,232.13a2.1,2.1 0 1,0 4.2,0a2.1,2.1 0 1,0 -4.2,0ZM184.44,233.31a2.1,2.1 0 1,0 4.2,0a2.1,2.1 0 1,0 -4.2,0ZM184.79,230.78a2.1,2.1 0 1,0 4.2,0a2.1,2.1 0 1,0 -4.2,0ZM185.14,231.69a2.1,2.1 0 1,0 4.2,0a2.1,2.1 0 1,0 -4.2,0ZM185.49,233.49a2.1,2.1 0 1,0 4.2,0a2.1,2.1 0 1,0 -4.2,0ZM185.83,232.19a2.1,2.1 0 1,0 4.2,0a2.1,2.1 0 1,0 -4.2,0ZM186.17,231.07a2.1,2.1 0 1,0 4.2,0a2.1,2.1 0 1,0 -4.2,0ZM186.51,231.74a2.1,2.1 0 1,0 4.2,0a2.1,2.1 0 1,0 -4.2,0ZM186.84,230.55a2.1,2.1 0 1,0 4.2,0a2.1,2.1 0 1,0 -4.2,0ZM187.17,230.55a2.1,2.1 0 1,0 4.2,0a2.1,2.1 0 1,0 -4.2,0ZM187.50,230.60a2.1,2.1 0 1,0 4.2,0a2.1,2.1 0 1,0 -4.2,0ZM187.82,230.89a2.1,2.1 0 1,0 4.2,0a2.1,2.1 0 1,0 -4.2,0ZM188.14,229.92a2.1,2.1 0 1,0 4.2,0a2.1,2.1 0 1,0 -4.2,0ZM188.45,230.52a2.1,2.1 0 1,0 4.2,0a2.1,2.1 0 1,0 -4.2,0ZM188.77,230.69a2.1,2.1 0 1,0 4.2,0a2.1,2.1 0 1,0 -4.2,0ZM189.08,233.04a2.1,2.1 0 1,0 4.2,0a2.1,2.1 0 1,0 -4.2,0ZM189.38,230.22a2.1,2.1 0 1,0 4.2,0a2.1,2.1 0 1,0 -4.2,0ZM189.68,229.81a2.1,2.1 0 1,0 4.2,0a2.1,2.1 0 1,0 -4.2,0ZM189.99,231.29a2.1,2.1 0 1,0 4.2,0a2.1,2.1 0 1,0 -4.2,0ZM190.28,231.43a2.1,2.1 0 1,0 4.2,0a2.1,2.1 0 1,0 -4.2,0ZM190.58,229.15a2.1,2.1 0 1,0 4.2,0a2.1,2.1 0 1,0 -4.2,0ZM190.87,232.60a2.1,2.1 0 1,0 4.2,0a2.1,2.1 0 1,0 -4.2,0ZM191.16,230.49a2.1,2.1 0 1,0 4.2,0a2.1,2.1 0 1,0 -4.2,0ZM191.44,228.63a2.1,2.1 0 1,0 4.2,0a2.1,2.1 0 1,0 -4.2,0ZM191.73,231.75a2.1,2.1 0 1,0 4.2,0a2.1,2.1 0 1,0 -4.2,0ZM192.01,230.21a2.1,2.1 0 1,0 4.2,0a2.1,2.1 0 1,0 -4.2,0ZM192.29,229.07a2.1,2.1 0 1,0 4.2,0a2.1,2.1 0 1,0 -4.2,0ZM192.56,230.93a2.1,2.1 0 1,0 4.2,0a2.1,2.1 0 1,0 -4.2,0ZM192.84,230.27a2.1,2.1 0 1,0 4.2,0a2.1,2.1 0 1,0 -4.2,0ZM193.11,229.93a2.1,2.1 0 1,0 4.2,0a2.1,2.1 0 1,0 -4.2,0ZM193.38,231.61a2.1,2.1 0 1,0 4.2,0a2.1,2.1 0 1,0 -4.2,0ZM193.64,230.82a2.1,2.1 0 1,0 4.2,0a2.1,2.1 0 1,0 -4.2,0ZM193.91,230.44a2.1,2.1 0 1,0 4.2,0a2.1,2.1 0 1,0 -4.2,0ZM194.17,229.92a2.1,2.1 0 1,0 4.2,0a2.1,2.1 0 1,0 -4.2,0ZM194.43,230.71a2.1,2.1 0 1,0 4.2,0a2.1,2.1 0 1,0 -4.2,0ZM194.68,230.84a2.1,2.1 0 1,0 4.2,0a2.1,2.1 0 1,0 -4.2,0ZM194.94,231.59a2.1,2.1 0 1,0 4.2,0a2.1,2.1 0 1,0 -4.2,0ZM195.19,230.96a2.1,2.1 0 1,0 4.2,0a2.1,2.1 0 1,0 -4.2,0ZM195.44,229.76a2.1,2.1 0 1,0 4.2,0a2.1,2.1 0 1,0 -4.2,0ZM195.69,230.49a2.1,2.1 0 1,0 4.2,0a2.1,2.1 0 1,0 -4.2,0ZM195.94,231.36a2.1,2.1 0 1,0 4.2,0a2.1,2.1 0 1,0 -4.2,0ZM196.19,231.33a2.1,2.1 0 1,0 4.2,0a2.1,2.1 0 1,0 -4.2,0ZM196.43,228.03a2.1,2.1 0 1,0 4.2,0a2.1,2.1 0 1,0 -4.2,0ZM196.67,229.44a2.1,2.1 0 1,0 4.2,0a2.1,2.1 0 1,0 -4.2,0ZM196.91,229.89a2.1,2.1 0 1,0 4.2,0a2.1,2.1 0 1,0 -4.2,0ZM197.15,232.90a2.1,2.1 0 1,0 4.2,0a2.1,2.1 0 1,0 -4.2,0ZM197.38,229.87a2.1,2.1 0 1,0 4.2,0a2.1,2.1 0 1,0 -4.2,0ZM197.62,229.98a2.1,2.1 0 1,0 4.2,0a2.1,2.1 0 1,0 -4.2,0ZM197.85,228.84a2.1,2.1 0 1,0 4.2,0a2.1,2.1 0 1,0 -4.2,0ZM198.08,230.00a2.1,2.1 0 1,0 4.2,0a2.1,2.1 0 1,0 -4.2,0ZM198.31,230.45a2.1,2.1 0 1,0 4.2,0a2.1,2.1 0 1,0 -4.2,0ZM198.54,229.88a2.1,2.1 0 1,0 4.2,0a2.1,2.1 0 1,0 -4.2,0ZM198.76,232.17a2.1,2.1 0 1,0 4.2,0a2.1,2.1 0 1,0 -4.2,0ZM198.98,229.36a2.1,2.1 0 1,0 4.2,0a2.1,2.1 0 1,0 -4.2,0ZM199.21,230.01a2.1,2.1 0 1,0 4.2,0a2.1,2.1 0 1,0 -4.2,0ZM199.43,230.96a2.1,2.1 0 1,0 4.2,0a2.1,2.1 0 1,0 -4.2,0ZM199.65,229.04a2.1,2.1 0 1,0 4.2,0a2.1,2.1 0 1,0 -4.2,0ZM199.86,228.57a2.1,2.1 0 1,0 4.2,0a2.1,2.1 0 1,0 -4.2,0ZM200.08,231.56a2.1,2.1 0 1,0 4.2,0a2.1,2.1 0 1,0 -4.2,0ZM200.29,230.86a2.1,2.1 0 1,0 4.2,0a2.1,2.1 0 1,0 -4.2,0ZM200.51,229.94a2.1,2.1 0 1,0 4.2,0a2.1,2.1 0 1,0 -4.2,0ZM200.72,230.03a2.1,2.1 0 1,0 4.2,0a2.1,2.1 0 1,0 -4.2,0ZM200.93,230.56a2.1,2.1 0 1,0 4.2,0a2.1,2.1 0 1,0 -4.2,0ZM201.14,231.08a2.1,2.1 0 1,0 4.2,0a2.1,2.1 0 1,0 -4.2,0ZM201.34,228.16a2.1,2.1 0 1,0 4.2,0a2.1,2.1 0 1,0 -4.2,0ZM201.55,229.16a2.1,2.1 0 1,0 4.2,0a2.1,2.1 0 1,0 -4.2,0ZM201.75,231.24a2.1,2.1 0 1,0 4.2,0a2.1,2.1 0 1,0 -4.2,0ZM201.96,231.37a2.1,2.1 0 1,0 4.2,0a2.1,2.1 0 1,0 -4.2,0ZM202.16,228.49a2.1,2.1 0 1,0 4.2,0a2.1,2.1 0 1,0 -4.2,0ZM202.36,229.15a2.1,2.1 0 1,0 4.2,0a2.1,2.1 0 1,0 -4.2,0ZM202.56,228.35a2.1,2.1 0 1,0 4.2,0a2.1,2.1 0 1,0 -4.2,0ZM202.76,229.29a2.1,2.1 0 1,0 4.2,0a2.1,2.1 0 1,0 -4.2,0ZM202.95,230.85a2.1,2.1 0 1,0 4.2,0a2.1,2.1 0 1,0 -4.2,0ZM203.15,229.77a2.1,2.1 0 1,0 4.2,0a2.1,2.1 0 1,0 -4.2,0ZM203.34,232.03a2.1,2.1 0 1,0 4.2,0a2.1,2.1 0 1,0 -4.2,0ZM203.54,230.69a2.1,2.1 0 1,0 4.2,0a2.1,2.1 0 1,0 -4.2,0ZM203.73,230.03a2.1,2.1 0 1,0 4.2,0a2.1,2.1 0 1,0 -4.2,0ZM203.92,229.47a2.1,2.1 0 1,0 4.2,0a2.1,2.1 0 1,0 -4.2,0ZM204.11,230.62a2.1,2.1 0 1,0 4.2,0a2.1,2.1 0 1,0 -4.2,0ZM204.29,230.04a2.1,2.1 0 1,0 4.2,0a2.1,2.1 0 1,0 -4.2,0ZM204.48,229.48a2.1,2.1 0 1,0 4.2,0a2.1,2.1 0 1,0 -4.2,0ZM204.67,229.55a2.1,2.1 0 1,0 4.2,0a2.1,2.1 0 1,0 -4.2,0ZM204.85,229.29a2.1,2.1 0 1,0 4.2,0a2.1,2.1 0 1,0 -4.2,0ZM205.04,229.68a2.1,2.1 0 1,0 4.2,0a2.1,2.1 0 1,0 -4.2,0ZM205.22,230.16a2.1,2.1 0 1,0 4.2,0a2.1,2.1 0 1,0 -4.2,0ZM205.40,229.10a2.1,2.1 0 1,0 4.2,0a2.1,2.1 0 1,0 -4.2,0ZM205.58,229.78a2.1,2.1 0 1,0 4.2,0a2.1,2.1 0 1,0 -4.2,0ZM205.76,230.59a2.1,2.1 0 1,0 4.2,0a2.1,2.1 0 1,0 -4.2,0ZM205.94,230.39a2.1,2.1 0 1,0 4.2,0a2.1,2.1 0 1,0 -4.2,0ZM206.12,229.79a2.1,2.1 0 1,0 4.2,0a2.1,2.1 0 1,0 -4.2,0ZM206.29,229.88a2.1,2.1 0 1,0 4.2,0a2.1,2.1 0 1,0 -4.2,0ZM206.47,229.62a2.1,2.1 0 1,0 4.2,0a2.1,2.1 0 1,0 -4.2,0ZM206.64,229.75a2.1,2.1 0 1,0 4.2,0a2.1,2.1 0 1,0 -4.2,0ZM206.81,229.57a2.1,2.1 0 1,0 4.2,0a2.1,2.1 0 1,0 -4.2,0ZM206.99,229.85a2.1,2.1 0 1,0 4.2,0a2.1,2.1 0 1,0 -4.2,0ZM207.16,230.89a2.1,2.1 0 1,0 4.2,0a2.1,2.1 0 1,0 -4.2,0ZM207.33,229.30a2.1,2.1 0 1,0 4.2,0a2.1,2.1 0 1,0 -4.2,0ZM207.50,228.70a2.1,2.1 0 1,0 4.2,0a2.1,2.1 0 1,0 -4.2,0ZM207.67,229.26a2.1,2.1 0 1,0 4.2,0a2.1,2.1 0 1,0 -4.2,0ZM207.83,229.84a2.1,2.1 0 1,0 4.2,0a2.1,2.1 0 1,0 -4.2,0ZM208.00,229.23a2.1,2.1 0 1,0 4.2,0a2.1,2.1 0 1,0 -4.2,0ZM208.17,230.54a2.1,2.1 0 1,0 4.2,0a2.1,2.1 0 1,0 -4.2,0ZM208.33,231.40a2.1,2.1 0 1,0 4.2,0a2.1,2.1 0 1,0 -4.2,0ZM208.50,229.55a2.1,2.1 0 1,0 4.2,0a2.1,2.1 0 1,0 -4.2,0ZM208.66,230.47a2.1,2.1 0 1,0 4.2,0a2.1,2.1 0 1,0 -4.2,0ZM208.82,228.89a2.1,2.1 0 1,0 4.2,0a2.1,2.1 0 1,0 -4.2,0ZM208.98,230.59a2.1,2.1 0 1,0 4.2,0a2.1,2.1 0 1,0 -4.2,0ZM209.14,232.02a2.1,2.1 0 1,0 4.2,0a2.1,2.1 0 1,0 -4.2,0ZM209.30,230.52a2.1,2.1 0 1,0 4.2,0a2.1,2.1 0 1,0 -4.2,0ZM209.46,228.06a2.1,2.1 0 1,0 4.2,0a2.1,2.1 0 1,0 -4.2,0ZM209.62,229.88a2.1,2.1 0 1,0 4.2,0a2.1,2.1 0 1,0 -4.2,0ZM209.78,230.80a2.1,2.1 0 1,0 4.2,0a2.1,2.1 0 1,0 -4.2,0ZM209.94,230.22a2.1,2.1 0 1,0 4.2,0a2.1,2.1 0 1,0 -4.2,0ZM210.09,229.00a2.1,2.1 0 1,0 4.2,0a2.1,2.1 0 1,0 -4.2,0ZM210.25,229.01a2.1,2.1 0 1,0 4.2,0a2.1,2.1 0 1,0 -4.2,0ZM210.40,229.30a2.1,2.1 0 1,0 4.2,0a2.1,2.1 0 1,0 -4.2,0Z" fill="none" stroke="#1550DC" stroke-width="1.4" stroke-linejoin="round"/>
<polyline points="49.50,242.40 70.82,242.21 83.30,242.39 92.15,242.41 99.01,242.57 104.62,242.39 109.36,242.06 113.47,242.23 117.10,242.07 120.34,242.27 123.27,242.23 125.95,242.29 128.41,242.75 130.69,242.12 132.81,242.21 134.80,242.21 136.66,242.76 138.42,242.77 140.08,242.56 141.66,242.45 143.16,242.26 144.59,242.34 145.96,242.20 147.27,242.49 148.53,242.26 149.73,242.23 150.89,242.50 152.01,241.90 153.09,242.19 154.14,242.03 155.14,242.49 156.12,242.52 157.07,242.42 157.99,242.36 158.88,242.18 159.75,242.27 160.59,242.45 161.41,242.57 162.21,242.46 162.99,242.03 163.75,242.54 164.49,242.27 165.21,242.23 165.92,242.71 166.61,242.32 167.29,242.01 167.95,242.84 168.60,242.41 169.23,242.36 169.85,242.54 170.46,242.21 171.06,242.35 171.64,242.70 172.22,242.13 172.78,242.17 173.34,242.10 173.88,241.97 174.42,242.24 174.94,242.30 175.46,242.66 175.97,242.18 176.47,242.49 176.96,242.45 177.45,242.65 177.92,242.58 178.39,242.47 178.86,242.01 179.31,242.84 179.76,242.70 180.20,242.27 180.64,241.97 181.07,242.19 181.49,242.81 181.91,242.96 182.33,242.24 182.73,242.52 183.13,242.61 183.53,242.09 183.92,242.06 184.31,242.29 184.69,242.27 185.07,242.22 185.44,241.93 185.81,242.18 186.18,242.20 186.54,242.20 186.89,242.73 187.24,242.01 187.59,242.09 187.93,242.20 188.27,242.83 188.61,242.49 188.94,242.12 189.27,242.79 189.60,242.38 189.92,242.08 190.24,242.66 190.55,241.93 190.87,242.20 191.18,242.37 191.48,242.25 191.78,242.17 192.09,242.30 192.38,242.05 192.68,242.50 192.97,242.44 193.26,242.07 193.54,242.33 193.83,242.55 194.11,242.10 194.39,241.97 194.66,242.44 194.94,242.68 195.21,242.37 195.48,242.37 195.74,242.41 196.01,241.98 196.27,242.59 196.53,242.02 196.78,242.65 197.04,242.53 197.29,242.18 197.54,242.05 197.79,242.12 198.04,242.25 198.29,242.30 198.53,242.30 198.77,242.19 199.01,242.38 199.25,242.26 199.48,242.19 199.72,242.33 199.95,242.14 200.18,242.19 200.41,241.83 200.64,242.25 200.86,242.44 201.08,242.43 201.31,242.34 201.53,242.10 201.75,242.42 201.96,242.24 202.18,241.87 202.39,242.97 202.61,242.61 202.82,242.27 203.03,242.23 203.24,242.27 203.44,242.44 203.65,242.17 203.85,242.26 204.06,242.46 204.26,241.73 204.46,242.24 204.66,242.47 204.86,242.36 205.05,242.39 205.25,242.35 205.44,243.02 205.64,242.46 205.83,242.08 206.02,242.63 206.21,242.35 206.39,242.09 206.58,242.12 206.77,241.96 206.95,242.76 207.14,242.42 207.32,242.42 207.50,242.18 207.68,242.06 207.86,243.00 208.04,242.06 208.22,242.70 208.39,242.16 208.57,242.71 208.74,242.29 208.91,242.03 209.09,242.37 209.26,242.29 209.43,242.13 209.60,242.30 209.77,242.36 209.93,241.95 210.10,242.07 210.27,242.41 210.43,241.65 210.60,242.62 210.76,242.10 210.92,242.40 211.08,242.30 211.24,242.16 211.40,242.28 211.56,242.17 211.72,242.72 211.88,242.71 212.04,242.18 212.19,242.57 212.35,242.59 212.50,242.70" fill="none" stroke="#0A0AEB" stroke-width="1" stroke-dasharray="0.9 3.6" opacity="0.9"/><path d="M46.60,239.50h5.80v5.80h-5.80ZM67.92,239.31h5.80v5.80h-5.80ZM80.40,239.49h5.80v5.80h-5.80ZM89.25,239.51h5.80v5.80h-5.80ZM96.11,239.67h5.80v5.80h-5.80ZM101.72,239.49h5.80v5.80h-5.80ZM106.46,239.16h5.80v5.80h-5.80ZM110.57,239.33h5.80v5.80h-5.80ZM114.20,239.17h5.80v5.80h-5.80ZM117.44,239.37h5.80v5.80h-5.80ZM120.37,239.33h5.80v5.80h-5.80ZM123.05,239.39h5.80v5.80h-5.80ZM125.51,239.85h5.80v5.80h-5.80ZM127.79,239.22h5.80v5.80h-5.80ZM129.91,239.31h5.80v5.80h-5.80ZM131.90,239.31h5.80v5.80h-5.80ZM133.76,239.86h5.80v5.80h-5.80ZM135.52,239.87h5.80v5.80h-5.80ZM137.18,239.66h5.80v5.80h-5.80ZM138.76,239.55h5.80v5.80h-5.80ZM140.26,239.36h5.80v5.80h-5.80ZM141.69,239.44h5.80v5.80h-5.80ZM143.06,239.30h5.80v5.80h-5.80ZM144.37,239.59h5.80v5.80h-5.80ZM145.63,239.36h5.80v5.80h-5.80ZM146.83,239.33h5.80v5.80h-5.80ZM147.99,239.60h5.80v5.80h-5.80ZM149.11,239.00h5.80v5.80h-5.80ZM150.19,239.29h5.80v5.80h-5.80ZM151.24,239.13h5.80v5.80h-5.80ZM152.24,239.59h5.80v5.80h-5.80ZM153.22,239.62h5.80v5.80h-5.80ZM154.17,239.52h5.80v5.80h-5.80ZM155.09,239.46h5.80v5.80h-5.80ZM155.98,239.28h5.80v5.80h-5.80ZM156.85,239.37h5.80v5.80h-5.80ZM157.69,239.55h5.80v5.80h-5.80ZM158.51,239.67h5.80v5.80h-5.80ZM159.31,239.56h5.80v5.80h-5.80ZM160.09,239.13h5.80v5.80h-5.80ZM160.85,239.64h5.80v5.80h-5.80ZM161.59,239.37h5.80v5.80h-5.80ZM162.31,239.33h5.80v5.80h-5.80ZM163.02,239.81h5.80v5.80h-5.80ZM163.71,239.42h5.80v5.80h-5.80ZM164.39,239.11h5.80v5.80h-5.80ZM165.05,239.94h5.80v5.80h-5.80ZM165.70,239.51h5.80v5.80h-5.80ZM166.33,239.46h5.80v5.80h-5.80ZM166.95,239.64h5.80v5.80h-5.80ZM167.56,239.31h5.80v5.80h-5.80ZM168.16,239.45h5.80v5.80h-5.80ZM168.74,239.80h5.80v5.80h-5.80ZM169.32,239.23h5.80v5.80h-5.80ZM169.88,239.27h5.80v5.80h-5.80ZM170.44,239.20h5.80v5.80h-5.80ZM170.98,239.07h5.80v5.80h-5.80ZM171.52,239.34h5.80v5.80h-5.80ZM172.04,239.40h5.80v5.80h-5.80ZM172.56,239.76h5.80v5.80h-5.80ZM173.07,239.28h5.80v5.80h-5.80ZM173.57,239.59h5.80v5.80h-5.80ZM174.06,239.55h5.80v5.80h-5.80ZM174.55,239.75h5.80v5.80h-5.80ZM175.02,239.68h5.80v5.80h-5.80ZM175.49,239.57h5.80v5.80h-5.80ZM175.96,239.11h5.80v5.80h-5.80ZM176.41,239.94h5.80v5.80h-5.80ZM176.86,239.80h5.80v5.80h-5.80ZM177.30,239.37h5.80v5.80h-5.80ZM177.74,239.07h5.80v5.80h-5.80ZM178.17,239.29h5.80v5.80h-5.80ZM178.59,239.91h5.80v5.80h-5.80ZM179.01,240.06h5.80v5.80h-5.80ZM179.43,239.34h5.80v5.80h-5.80ZM179.83,239.62h5.80v5.80h-5.80ZM180.23,239.71h5.80v5.80h-5.80ZM180.63,239.19h5.80v5.80h-5.80ZM181.02,239.16h5.80v5.80h-5.80ZM181.41,239.39h5.80v5.80h-5.80ZM181.79,239.37h5.80v5.80h-5.80ZM182.17,239.32h5.80v5.80h-5.80ZM182.54,239.03h5.80v5.80h-5.80ZM182.91,239.28h5.80v5.80h-5.80ZM183.28,239.30h5.80v5.80h-5.80ZM183.64,239.30h5.80v5.80h-5.80ZM183.99,239.83h5.80v5.80h-5.80ZM184.34,239.11h5.80v5.80h-5.80ZM184.69,239.19h5.80v5.80h-5.80ZM185.03,239.30h5.80v5.80h-5.80ZM185.37,239.93h5.80v5.80h-5.80ZM185.71,239.59h5.80v5.80h-5.80ZM186.04,239.22h5.80v5.80h-5.80ZM186.37,239.89h5.80v5.80h-5.80ZM186.70,239.48h5.80v5.80h-5.80ZM187.02,239.18h5.80v5.80h-5.80ZM187.34,239.76h5.80v5.80h-5.80ZM187.65,239.03h5.80v5.80h-5.80ZM187.97,239.30h5.80v5.80h-5.80ZM188.28,239.47h5.80v5.80h-5.80ZM188.58,239.35h5.80v5.80h-5.80ZM188.88,239.27h5.80v5.80h-5.80ZM189.19,239.40h5.80v5.80h-5.80ZM189.48,239.15h5.80v5.80h-5.80ZM189.78,239.60h5.80v5.80h-5.80ZM190.07,239.54h5.80v5.80h-5.80ZM190.36,239.17h5.80v5.80h-5.80ZM190.64,239.43h5.80v5.80h-5.80ZM190.93,239.65h5.80v5.80h-5.80ZM191.21,239.20h5.80v5.80h-5.80ZM191.49,239.07h5.80v5.80h-5.80ZM191.76,239.54h5.80v5.80h-5.80ZM192.04,239.78h5.80v5.80h-5.80ZM192.31,239.47h5.80v5.80h-5.80ZM192.58,239.47h5.80v5.80h-5.80ZM192.84,239.51h5.80v5.80h-5.80ZM193.11,239.08h5.80v5.80h-5.80ZM193.37,239.69h5.80v5.80h-5.80ZM193.63,239.12h5.80v5.80h-5.80ZM193.88,239.75h5.80v5.80h-5.80ZM194.14,239.63h5.80v5.80h-5.80ZM194.39,239.28h5.80v5.80h-5.80ZM194.64,239.15h5.80v5.80h-5.80ZM194.89,239.22h5.80v5.80h-5.80ZM195.14,239.35h5.80v5.80h-5.80ZM195.39,239.40h5.80v5.80h-5.80ZM195.63,239.40h5.80v5.80h-5.80ZM195.87,239.29h5.80v5.80h-5.80ZM196.11,239.48h5.80v5.80h-5.80ZM196.35,239.36h5.80v5.80h-5.80ZM196.58,239.29h5.80v5.80h-5.80ZM196.82,239.43h5.80v5.80h-5.80ZM197.05,239.24h5.80v5.80h-5.80ZM197.28,239.29h5.80v5.80h-5.80ZM197.51,238.93h5.80v5.80h-5.80ZM197.74,239.35h5.80v5.80h-5.80ZM197.96,239.54h5.80v5.80h-5.80ZM198.18,239.53h5.80v5.80h-5.80ZM198.41,239.44h5.80v5.80h-5.80ZM198.63,239.20h5.80v5.80h-5.80ZM198.85,239.52h5.80v5.80h-5.80ZM199.06,239.34h5.80v5.80h-5.80ZM199.28,238.97h5.80v5.80h-5.80ZM199.49,240.07h5.80v5.80h-5.80ZM199.71,239.71h5.80v5.80h-5.80ZM199.92,239.37h5.80v5.80h-5.80ZM200.13,239.33h5.80v5.80h-5.80ZM200.34,239.37h5.80v5.80h-5.80ZM200.54,239.54h5.80v5.80h-5.80ZM200.75,239.27h5.80v5.80h-5.80ZM200.95,239.36h5.80v5.80h-5.80ZM201.16,239.56h5.80v5.80h-5.80ZM201.36,238.83h5.80v5.80h-5.80ZM201.56,239.34h5.80v5.80h-5.80ZM201.76,239.57h5.80v5.80h-5.80ZM201.96,239.46h5.80v5.80h-5.80ZM202.15,239.49h5.80v5.80h-5.80ZM202.35,239.45h5.80v5.80h-5.80ZM202.54,240.12h5.80v5.80h-5.80ZM202.74,239.56h5.80v5.80h-5.80ZM202.93,239.18h5.80v5.80h-5.80ZM203.12,239.73h5.80v5.80h-5.80ZM203.31,239.45h5.80v5.80h-5.80ZM203.49,239.19h5.80v5.80h-5.80ZM203.68,239.22h5.80v5.80h-5.80ZM203.87,239.06h5.80v5.80h-5.80ZM204.05,239.86h5.80v5.80h-5.80ZM204.24,239.52h5.80v5.80h-5.80ZM204.42,239.52h5.80v5.80h-5.80ZM204.60,239.28h5.80v5.80h-5.80ZM204.78,239.16h5.80v5.80h-5.80ZM204.96,240.10h5.80v5.80h-5.80ZM205.14,239.16h5.80v5.80h-5.80ZM205.32,239.80h5.80v5.80h-5.80ZM205.49,239.26h5.80v5.80h-5.80ZM205.67,239.81h5.80v5.80h-5.80ZM205.84,239.39h5.80v5.80h-5.80ZM206.01,239.13h5.80v5.80h-5.80ZM206.19,239.47h5.80v5.80h-5.80ZM206.36,239.39h5.80v5.80h-5.80ZM206.53,239.23h5.80v5.80h-5.80ZM206.70,239.40h5.80v5.80h-5.80ZM206.87,239.46h5.80v5.80h-5.80ZM207.03,239.05h5.80v5.80h-5.80ZM207.20,239.17h5.80v5.80h-5.80ZM207.37,239.51h5.80v5.80h-5.80ZM207.53,238.75h5.80v5.80h-5.80ZM207.70,239.72h5.80v5.80h-5.80ZM207.86,239.20h5.80v5.80h-5.80ZM208.02,239.50h5.80v5.80h-5.80ZM208.18,239.40h5.80v5.80h-5.80ZM208.34,239.26h5.80v5.80h-5.80ZM208.50,239.38h5.80v5.80h-5.80ZM208.66,239.27h5.80v5.80h-5.80ZM208.82,239.82h5.80v5.80h-5.80ZM208.98,239.81h5.80v5.80h-5.80ZM209.14,239.28h5.80v5.80h-5.80ZM209.29,239.67h5.80v5.80h-5.80ZM209.45,239.69h5.80v5.80h-5.80ZM209.60,239.80h5.80v5.80h-5.80Z" fill="none" stroke="#0A0AEB" stroke-width="1.5" stroke-linejoin="round"/>
</g>
<g clip-path="url(#cb)">
<path d="M279.50,159.38L282.45,154.98L276.55,154.98ZM280.05,142.15L283.00,137.75L277.10,137.75ZM280.59,133.74L283.54,129.34L277.64,129.34ZM281.14,113.22L284.09,108.82L278.19,108.82ZM281.69,138.12L284.64,133.72L278.74,133.72ZM282.23,127.36L285.18,122.96L279.28,122.96ZM282.78,137.57L285.73,133.17L279.83,133.17ZM283.33,114.16L286.28,109.76L280.38,109.76ZM283.87,104.52L286.82,100.12L280.92,100.12ZM284.42,124.89L287.37,120.49L281.47,120.49ZM284.97,109.42L287.92,105.02L282.02,105.02ZM285.51,95.97L288.46,91.57L282.56,91.57ZM286.06,82.82L289.01,78.42L283.11,78.42ZM286.61,92.54L289.56,88.14L283.66,88.14ZM287.15,102.80L290.10,98.40L284.20,98.40ZM287.70,111.98L290.65,107.58L284.75,107.58ZM288.25,108.38L291.20,103.98L285.30,103.98ZM288.79,104.43L291.74,100.03L285.84,100.03ZM289.34,94.30L292.29,89.90L286.39,89.90ZM289.89,95.72L292.84,91.32L286.94,91.32ZM290.43,75.21L293.38,70.81L287.48,70.81ZM290.98,90.89L293.93,86.49L288.03,86.49ZM291.53,106.32L294.48,101.92L288.58,101.92ZM292.07,76.20L295.02,71.80L289.12,71.80ZM292.62,82.89L295.57,78.49L289.67,78.49ZM293.17,92.46L296.12,88.06L290.22,88.06ZM293.71,101.75L296.66,97.35L290.76,97.35ZM294.26,114.78L297.21,110.38L291.31,110.38ZM294.81,104.92L297.76,100.52L291.86,100.52ZM295.35,82.62L298.30,78.22L292.40,78.22ZM295.90,102.13L298.85,97.73L292.95,97.73ZM296.45,107.91L299.40,103.51L293.50,103.51ZM296.99,90.41L299.94,86.01L294.04,86.01ZM297.54,89.72L300.49,85.32L294.59,85.32ZM298.09,85.42L301.04,81.02L295.14,81.02ZM298.63,84.72L301.58,80.32L295.68,80.32ZM299.18,75.95L302.13,71.55L296.23,71.55ZM299.73,101.57L302.68,97.17L296.78,97.17ZM300.27,80.60L303.22,76.20L297.32,76.20ZM300.82,102.99L303.77,98.59L297.87,98.59ZM301.37,83.59L304.32,79.19L298.42,79.19ZM301.91,89.35L304.86,84.95L298.96,84.95ZM302.46,88.47L305.41,84.07L299.51,84.07ZM303.01,80.03L305.96,75.63L300.06,75.63ZM303.55,91.18L306.50,86.78L300.60,86.78ZM304.10,78.10L307.05,73.70L301.15,73.70ZM304.65,80.68L307.60,76.28L301.70,76.28ZM305.19,89.01L308.14,84.61L302.24,84.61ZM305.74,96.92L308.69,92.52L302.79,92.52ZM306.29,98.92L309.24,94.52L303.34,94.52ZM306.83,96.19L309.78,91.79L303.88,91.79ZM307.38,92.26L310.33,87.86L304.43,87.86ZM307.93,90.02L310.88,85.62L304.98,85.62ZM308.47,55.37L311.42,50.97L305.52,50.97ZM309.02,82.00L311.97,77.60L306.07,77.60ZM309.57,80.29L312.52,75.89L306.62,75.89ZM310.11,98.76L313.06,94.36L307.16,94.36ZM310.66,96.83L313.61,92.43L307.71,92.43ZM311.21,92.14L314.16,87.74L308.26,87.74ZM311.75,86.07L314.70,81.67L308.80,81.67ZM312.30,99.94L315.25,95.54L309.35,95.54ZM312.85,69.39L315.80,64.99L309.90,64.99ZM313.39,94.10L316.34,89.70L310.44,89.70ZM313.94,75.09L316.89,70.69L310.99,70.69ZM314.49,114.00L317.44,109.60L311.54,109.60ZM315.03,87.10L317.98,82.70L312.08,82.70ZM315.58,83.63L318.53,79.23L312.63,79.23ZM316.13,84.42L319.08,80.02L313.18,80.02ZM316.67,79.51L319.62,75.11L313.72,75.11ZM317.22,82.98L320.17,78.58L314.27,78.58ZM317.77,84.12L320.72,79.72L314.82,79.72ZM318.31,107.46L321.26,103.06L315.36,103.06ZM318.86,93.74L321.81,89.34L315.91,89.34ZM319.41,112.20L322.36,107.80L316.46,107.80ZM319.95,77.95L322.90,73.55L317.00,73.55ZM320.50,81.42L323.45,77.02L317.55,77.02ZM321.05,86.97L324.00,82.57L318.10,82.57ZM321.59,93.94L324.54,89.54L318.64,89.54ZM322.14,90.98L325.09,86.58L319.19,86.58ZM322.69,62.96L325.64,58.56L319.74,58.56ZM323.23,64.06L326.18,59.66L320.28,59.66ZM323.78,83.73L326.73,79.33L320.83,79.33ZM324.33,67.47L327.28,63.07L321.38,63.07ZM324.87,99.60L327.82,95.20L321.92,95.20ZM325.42,102.74L328.37,98.34L322.47,98.34ZM325.97,85.27L328.92,80.87L323.02,80.87ZM326.51,88.93L329.46,84.53L323.56,84.53ZM327.06,84.47L330.01,80.07L324.11,80.07ZM327.61,75.08L330.56,70.68L324.66,70.68ZM328.15,41.74L331.10,37.34L325.20,37.34ZM328.70,83.14L331.65,78.74L325.75,78.74ZM329.25,74.16L332.20,69.76L326.30,69.76ZM329.79,70.73L332.74,66.33L326.84,66.33ZM330.34,73.46L333.29,69.06L327.39,69.06ZM330.89,61.57L333.84,57.17L327.94,57.17ZM331.43,51.06L334.38,46.66L328.48,46.66ZM331.98,84.82L334.93,80.42L329.03,80.42ZM332.53,67.88L335.48,63.48L329.58,63.48ZM333.07,71.94L336.02,67.54L330.12,67.54ZM333.62,63.98L336.57,59.58L330.67,59.58ZM334.17,84.78L337.12,80.38L331.22,80.38ZM334.71,86.54L337.66,82.14L331.76,82.14ZM335.26,92.11L338.21,87.71L332.31,87.71ZM335.81,58.71L338.76,54.31L332.86,54.31ZM336.35,61.70L339.30,57.30L333.40,57.30ZM336.90,62.22L339.85,57.82L333.95,57.82ZM337.45,89.35L340.40,84.95L334.50,84.95ZM337.99,65.68L340.94,61.28L335.04,61.28ZM338.54,69.22L341.49,64.82L335.59,64.82ZM339.09,75.93L342.04,71.53L336.14,71.53ZM339.63,69.39L342.58,64.99L336.68,64.99ZM340.18,50.70L343.13,46.30L337.23,46.30ZM340.73,52.25L343.68,47.85L337.78,47.85ZM341.27,58.53L344.22,54.13L338.32,54.13ZM341.82,52.17L344.77,47.77L338.87,47.77ZM342.37,64.77L345.32,60.37L339.42,60.37ZM342.91,56.83L345.86,52.43L339.96,52.43ZM343.46,56.98L346.41,52.58L340.51,52.58ZM344.01,50.88L346.96,46.48L341.06,46.48ZM344.55,57.83L347.50,53.43L341.60,53.43ZM345.10,58.46L348.05,54.06L342.15,54.06ZM345.65,58.15L348.60,53.75L342.70,53.75ZM346.19,63.79L349.14,59.39L343.24,59.39ZM346.74,30.60L349.69,26.20L343.79,26.20ZM347.29,50.09L350.24,45.69L344.34,45.69ZM347.83,50.86L350.78,46.46L344.88,46.46ZM348.38,29.31L351.33,24.91L345.43,24.91ZM348.93,39.28L351.88,34.88L345.98,34.88ZM349.47,72.99L352.42,68.59L346.52,68.59ZM350.02,46.97L352.97,42.57L347.07,42.57ZM350.57,45.13L353.52,40.73L347.62,40.73ZM351.11,33.14L354.06,28.74L348.16,28.74ZM351.66,39.66L354.61,35.26L348.71,35.26ZM352.21,45.90L355.16,41.50L349.26,41.50ZM352.75,68.22L355.70,63.82L349.80,63.82ZM353.30,64.71L356.25,60.31L350.35,60.31ZM353.85,51.65L356.80,47.25L350.90,47.25ZM354.39,48.95L357.34,44.55L351.44,44.55ZM354.94,66.44L357.89,62.04L351.99,62.04ZM355.49,59.14L358.44,54.74L352.54,54.74ZM356.03,59.32L358.98,54.92L353.08,54.92ZM356.58,54.04L359.53,49.64L353.63,49.64ZM357.13,50.88L360.08,46.48L354.18,46.48ZM357.67,58.02L360.62,53.62L354.72,53.62ZM358.22,68.91L361.17,64.51L355.27,64.51ZM358.77,40.49L361.72,36.09L355.82,36.09ZM359.31,36.45L362.26,32.05L356.36,32.05ZM359.86,55.95L362.81,51.55L356.91,51.55ZM360.41,42.99L363.36,38.59L357.46,38.59ZM360.95,49.64L363.90,45.24L358.00,45.24ZM361.50,47.17L364.45,42.77L358.55,42.77ZM362.05,49.22L365.00,44.82L359.10,44.82ZM362.59,63.48L365.54,59.08L359.64,59.08ZM363.14,48.16L366.09,43.76L360.19,43.76ZM363.69,43.15L366.64,38.75L360.74,38.75ZM364.23,65.00L367.18,60.60L361.28,60.60ZM364.78,32.20L367.73,27.80L361.83,27.80ZM365.33,30.79L368.28,26.39L362.38,26.39ZM365.87,33.84L368.82,29.44L362.92,29.44ZM366.42,31.94L369.37,27.54L363.47,27.54ZM366.97,46.23L369.92,41.83L364.02,41.83ZM367.51,58.61L370.46,54.21L364.56,54.21ZM368.06,61.61L371.01,57.21L365.11,57.21ZM368.61,64.05L371.56,59.65L365.66,59.65ZM369.15,53.40L372.10,49.00L366.20,49.00ZM369.70,55.11L372.65,50.71L366.75,50.71ZM370.25,47.05L373.20,42.65L367.30,42.65ZM370.79,77.88L373.74,73.48L367.84,73.48ZM371.34,28.24L374.29,23.84L368.39,23.84ZM371.89,28.65L374.84,24.25L368.94,24.25ZM372.43,55.05L375.38,50.65L369.48,50.65ZM372.98,46.99L375.93,42.59L370.03,42.59ZM373.53,49.28L376.48,44.88L370.58,44.88ZM374.07,51.60L377.02,47.20L371.12,47.20ZM374.62,57.13L377.57,52.73L371.67,52.73ZM375.17,56.14L378.12,51.74L372.22,51.74ZM375.71,64.18L378.66,59.78L372.76,59.78ZM376.26,52.69L379.21,48.29L373.31,48.29ZM376.81,55.01L379.76,50.61L373.86,50.61ZM377.35,51.06L380.30,46.66L374.40,46.66ZM377.90,64.53L380.85,60.13L374.95,60.13ZM378.45,54.28L381.40,49.88L375.50,49.88ZM378.99,54.19L381.94,49.79L376.04,49.79ZM379.54,47.81L382.49,43.41L376.59,43.41ZM380.09,66.92L383.04,62.52L377.14,62.52ZM380.63,49.93L383.58,45.53L377.68,45.53ZM381.18,43.47L384.13,39.07L378.23,39.07ZM381.73,47.89L384.68,43.49L378.78,43.49ZM382.27,58.96L385.22,54.56L379.32,54.56ZM382.82,60.36L385.77,55.96L379.87,55.96ZM383.37,57.44L386.32,53.04L380.42,53.04ZM383.91,46.38L386.86,41.98L380.96,41.98ZM384.46,36.94L387.41,32.54L381.51,32.54ZM385.01,56.54L387.96,52.14L382.06,52.14ZM385.55,62.10L388.50,57.70L382.60,57.70ZM386.10,50.43L389.05,46.03L383.15,46.03ZM386.65,52.39L389.60,47.99L383.70,47.99ZM387.19,65.14L390.14,60.74L384.24,60.74ZM387.74,63.18L390.69,58.78L384.79,58.78ZM388.29,55.90L391.24,51.50L385.34,51.50ZM388.83,47.04L391.78,42.64L385.88,42.64ZM389.38,68.40L392.33,64.00L386.43,64.00ZM389.93,66.40L392.88,62.00L386.98,62.00ZM390.47,49.01L393.42,44.61L387.52,44.61ZM391.02,68.77L393.97,64.37L388.07,64.37ZM391.57,53.49L394.52,49.09L388.62,49.09ZM392.11,50.70L395.06,46.30L389.16,46.30ZM392.66,56.01L395.61,51.61L389.71,51.61ZM393.21,66.40L396.16,62.00L390.26,62.00ZM393.75,55.42L396.70,51.02L390.80,51.02ZM394.30,58.54L397.25,54.14L391.35,54.14ZM394.85,50.88L397.80,46.48L391.90,46.48ZM395.39,64.35L398.34,59.95L392.44,59.95ZM395.94,42.23L398.89,37.83L392.99,37.83ZM396.49,73.93L399.44,69.53L393.54,69.53ZM397.03,56.75L399.98,52.35L394.08,52.35ZM397.58,54.64L400.53,50.24L394.63,50.24ZM398.13,43.71L401.08,39.31L395.18,39.31ZM398.67,61.70L401.62,57.30L395.72,57.30ZM399.22,48.48L402.17,44.08L396.27,44.08ZM399.77,61.23L402.72,56.83L396.82,56.83ZM400.31,46.27L403.26,41.87L397.36,41.87ZM400.86,34.83L403.81,30.43L397.91,30.43ZM401.41,59.33L404.36,54.93L398.46,54.93ZM401.95,49.66L404.90,45.26L399.00,45.26ZM402.50,65.36L405.45,60.96L399.55,60.96ZM403.05,43.58L406.00,39.18L400.10,39.18ZM403.59,40.86L406.54,36.46L400.64,36.46ZM404.14,54.33L407.09,49.93L401.19,49.93ZM404.69,67.74L407.64,63.34L401.74,63.34ZM405.23,50.12L408.18,45.72L402.28,45.72ZM405.78,41.57L408.73,37.17L402.83,37.17ZM406.33,42.25L409.28,37.85L403.38,37.85ZM406.87,45.42L409.82,41.02L403.92,41.02ZM407.42,75.71L410.37,71.31L404.47,71.31ZM407.97,62.52L410.92,58.12L405.02,58.12ZM408.51,38.44L411.46,34.04L405.56,34.04ZM409.06,68.78L412.01,64.38L406.11,64.38ZM409.61,41.77L412.56,37.37L406.66,37.37ZM410.15,33.16L413.10,28.76L407.20,28.76ZM410.70,46.00L413.65,41.60L407.75,41.60ZM411.25,41.90L414.20,37.50L408.30,37.50ZM411.79,58.55L414.74,54.15L408.84,54.15ZM412.34,68.77L415.29,64.37L409.39,64.37ZM412.89,55.91L415.84,51.51L409.94,51.51ZM413.43,57.01L416.38,52.61L410.48,52.61ZM413.98,55.28L416.93,50.88L411.03,50.88ZM414.53,46.75L417.48,42.35L411.58,42.35ZM415.07,56.39L418.02,51.99L412.12,51.99ZM415.62,52.54L418.57,48.14L412.67,48.14ZM416.17,49.87L419.12,45.47L413.22,45.47ZM416.71,54.79L419.66,50.39L413.76,50.39ZM417.26,33.61L420.21,29.21L414.31,29.21ZM417.81,49.66L420.76,45.26L414.86,45.26ZM418.35,53.76L421.30,49.36L415.40,49.36ZM418.90,57.11L421.85,52.71L415.95,52.71ZM419.45,61.90L422.40,57.50L416.50,57.50ZM419.99,39.33L422.94,34.93L417.04,34.93ZM420.54,53.01L423.49,48.61L417.59,48.61ZM421.09,67.09L424.04,62.69L418.14,62.69ZM421.63,61.18L424.58,56.78L418.68,56.78ZM422.18,56.30L425.13,51.90L419.23,51.90ZM422.73,59.84L425.68,55.44L419.78,55.44ZM423.27,42.31L426.22,37.91L420.32,37.91ZM423.82,68.04L426.77,63.64L420.87,63.64ZM424.37,49.10L427.32,44.70L421.42,44.70ZM424.91,53.09L427.86,48.69L421.96,48.69ZM425.46,68.23L428.41,63.83L422.51,63.83ZM426.01,54.19L428.96,49.79L423.06,49.79ZM426.55,55.82L429.50,51.42L423.60,51.42ZM427.10,48.99L430.05,44.59L424.15,44.59ZM427.65,59.89L430.60,55.49L424.70,55.49ZM428.19,51.26L431.14,46.86L425.24,46.86ZM428.74,73.82L431.69,69.42L425.79,69.42ZM429.29,67.15L432.24,62.75L426.34,62.75ZM429.83,45.74L432.78,41.34L426.88,41.34ZM430.38,42.80L433.33,38.40L427.43,38.40ZM430.93,54.88L433.88,50.48L427.98,50.48ZM431.47,61.60L434.42,57.20L428.52,57.20ZM432.02,42.33L434.97,37.93L429.07,37.93ZM432.57,78.70L435.52,74.30L429.62,74.30ZM433.11,63.90L436.06,59.50L430.16,59.50ZM433.66,47.03L436.61,42.63L430.71,42.63ZM434.21,47.26L437.16,42.86L431.26,42.86ZM434.75,66.56L437.70,62.16L431.80,62.16ZM435.30,76.36L438.25,71.96L432.35,71.96ZM435.85,38.10L438.80,33.70L432.90,33.70ZM436.39,52.98L439.34,48.58L433.44,48.58ZM436.94,65.00L439.89,60.60L433.99,60.60ZM437.49,54.11L440.44,49.71L434.54,49.71ZM438.03,44.40L440.98,40.00L435.08,40.00ZM438.58,84.43L441.53,80.03L435.63,80.03ZM439.13,42.01L442.08,37.61L436.18,37.61ZM439.67,46.25L442.62,41.85L436.72,41.85ZM440.22,78.58L443.17,74.18L437.27,74.18ZM440.77,45.90L443.72,41.50L437.82,41.50ZM441.31,75.13L444.26,70.73L438.36,70.73ZM441.86,41.68L444.81,37.28L438.91,37.28ZM442.41,50.17L445.36,45.77L439.46,45.77ZM442.95,28.92L445.90,24.52L440.00,24.52ZM443.50,61.73L446.45,57.33L440.55,57.33Z" fill="none" stroke="#1CC0A2" stroke-width="1.25" stroke-linejoin="round"/>
<path d="M279.50,223.70L282.45,228.10L276.55,228.10ZM280.05,208.77L283.00,213.17L277.10,213.17ZM280.59,199.72L283.54,204.12L277.64,204.12ZM281.14,212.55L284.09,216.95L278.19,216.95ZM281.69,219.21L284.64,223.61L278.74,223.61ZM282.23,186.37L285.18,190.77L279.28,190.77ZM282.78,193.62L285.73,198.02L279.83,198.02ZM283.33,181.97L286.28,186.37L280.38,186.37ZM283.87,206.79L286.82,211.19L280.92,211.19ZM284.42,183.05L287.37,187.45L281.47,187.45ZM284.97,172.16L287.92,176.56L282.02,176.56ZM285.51,171.74L288.46,176.14L282.56,176.14ZM286.06,191.49L289.01,195.89L283.11,195.89ZM286.61,185.95L289.56,190.35L283.66,190.35ZM287.15,188.88L290.10,193.28L284.20,193.28ZM287.70,177.03L290.65,181.43L284.75,181.43ZM288.25,175.62L291.20,180.02L285.30,180.02ZM288.79,183.49L291.74,187.89L285.84,187.89ZM289.34,196.01L292.29,200.41L286.39,200.41ZM289.89,175.28L292.84,179.68L286.94,179.68ZM290.43,185.59L293.38,189.99L287.48,189.99ZM290.98,174.66L293.93,179.06L288.03,179.06ZM291.53,177.47L294.48,181.87L288.58,181.87ZM292.07,164.09L295.02,168.49L289.12,168.49ZM292.62,168.02L295.57,172.42L289.67,172.42ZM293.17,182.29L296.12,186.69L290.22,186.69ZM293.71,174.16L296.66,178.56L290.76,178.56ZM294.26,160.27L297.21,164.67L291.31,164.67ZM294.81,181.22L297.76,185.62L291.86,185.62ZM295.35,171.49L298.30,175.89L292.40,175.89ZM295.90,163.77L298.85,168.17L292.95,168.17ZM296.45,162.94L299.40,167.34L293.50,167.34ZM296.99,169.65L299.94,174.05L294.04,174.05ZM297.54,186.69L300.49,191.09L294.59,191.09ZM298.09,185.92L301.04,190.32L295.14,190.32ZM298.63,171.57L301.58,175.97L295.68,175.97ZM299.18,170.05L302.13,174.45L296.23,174.45ZM299.73,149.59L302.68,153.99L296.78,153.99ZM300.27,181.34L303.22,185.74L297.32,185.74ZM300.82,162.39L303.77,166.79L297.87,166.79ZM301.37,165.63L304.32,170.03L298.42,170.03ZM301.91,188.31L304.86,192.71L298.96,192.71ZM302.46,180.10L305.41,184.50L299.51,184.50ZM303.01,170.67L305.96,175.07L300.06,175.07ZM303.55,176.64L306.50,181.04L300.60,181.04ZM304.10,173.26L307.05,177.66L301.15,177.66ZM304.65,167.19L307.60,171.59L301.70,171.59ZM305.19,178.98L308.14,183.38L302.24,183.38ZM305.74,166.81L308.69,171.21L302.79,171.21ZM306.29,176.94L309.24,181.34L303.34,181.34ZM306.83,175.87L309.78,180.27L303.88,180.27ZM307.38,165.54L310.33,169.94L304.43,169.94ZM307.93,175.76L310.88,180.16L304.98,180.16ZM308.47,167.51L311.42,171.91L305.52,171.91ZM309.02,155.01L311.97,159.41L306.07,159.41ZM309.57,169.57L312.52,173.97L306.62,173.97ZM310.11,171.00L313.06,175.40L307.16,175.40ZM310.66,162.55L313.61,166.95L307.71,166.95ZM311.21,172.68L314.16,177.08L308.26,177.08ZM311.75,158.91L314.70,163.31L308.80,163.31ZM312.30,180.90L315.25,185.30L309.35,185.30ZM312.85,162.88L315.80,167.28L309.90,167.28ZM313.39,173.29L316.34,177.69L310.44,177.69ZM313.94,175.79L316.89,180.19L310.99,180.19ZM314.49,151.52L317.44,155.92L311.54,155.92ZM315.03,175.90L317.98,180.30L312.08,180.30ZM315.58,151.27L318.53,155.67L312.63,155.67ZM316.13,161.38L319.08,165.78L313.18,165.78ZM316.67,153.74L319.62,158.14L313.72,158.14ZM317.22,176.33L320.17,180.73L314.27,180.73ZM317.77,155.74L320.72,160.14L314.82,160.14ZM318.31,153.13L321.26,157.53L315.36,157.53ZM318.86,167.69L321.81,172.09L315.91,172.09ZM319.41,166.25L322.36,170.65L316.46,170.65ZM319.95,140.45L322.90,144.85L317.00,144.85ZM320.50,160.25L323.45,164.65L317.55,164.65ZM321.05,164.31L324.00,168.71L318.10,168.71ZM321.59,164.69L324.54,169.09L318.64,169.09ZM322.14,153.04L325.09,157.44L319.19,157.44ZM322.69,152.56L325.64,156.96L319.74,156.96ZM323.23,152.44L326.18,156.84L320.28,156.84ZM323.78,137.68L326.73,142.08L320.83,142.08ZM324.33,156.62L327.28,161.02L321.38,161.02ZM324.87,148.83L327.82,153.23L321.92,153.23ZM325.42,139.31L328.37,143.71L322.47,143.71ZM325.97,162.12L328.92,166.52L323.02,166.52ZM326.51,142.70L329.46,147.10L323.56,147.10ZM327.06,134.98L330.01,139.38L324.11,139.38ZM327.61,164.58L330.56,168.98L324.66,168.98ZM328.15,161.89L331.10,166.29L325.20,166.29ZM328.70,161.06L331.65,165.46L325.75,165.46ZM329.25,168.35L332.20,172.75L326.30,172.75ZM329.79,146.52L332.74,150.92L326.84,150.92ZM330.34,167.89L333.29,172.29L327.39,172.29ZM330.89,145.53L333.84,149.93L327.94,149.93ZM331.43,136.31L334.38,140.71L328.48,140.71ZM331.98,165.07L334.93,169.47L329.03,169.47ZM332.53,152.89L335.48,157.29L329.58,157.29ZM333.07,167.90L336.02,172.30L330.12,172.30ZM333.62,142.61L336.57,147.01L330.67,147.01ZM334.17,156.82L337.12,161.22L331.22,161.22ZM334.71,152.39L337.66,156.79L331.76,156.79ZM335.26,149.39L338.21,153.79L332.31,153.79ZM335.81,144.78L338.76,149.18L332.86,149.18ZM336.35,153.14L339.30,157.54L333.40,157.54ZM336.90,149.74L339.85,154.14L333.95,154.14ZM337.45,155.00L340.40,159.40L334.50,159.40ZM337.99,148.80L340.94,153.20L335.04,153.20ZM338.54,160.86L341.49,165.26L335.59,165.26ZM339.09,149.27L342.04,153.67L336.14,153.67ZM339.63,167.97L342.58,172.37L336.68,172.37ZM340.18,154.45L343.13,158.85L337.23,158.85ZM340.73,131.89L343.68,136.29L337.78,136.29ZM341.27,149.10L344.22,153.50L338.32,153.50ZM341.82,161.65L344.77,166.05L338.87,166.05ZM342.37,147.42L345.32,151.82L339.42,151.82ZM342.91,158.94L345.86,163.34L339.96,163.34ZM343.46,165.30L346.41,169.70L340.51,169.70ZM344.01,156.72L346.96,161.12L341.06,161.12ZM344.55,142.90L347.50,147.30L341.60,147.30ZM345.10,146.21L348.05,150.61L342.15,150.61ZM345.65,150.71L348.60,155.11L342.70,155.11ZM346.19,158.48L349.14,162.88L343.24,162.88ZM346.74,159.90L349.69,164.30L343.79,164.30ZM347.29,137.13L350.24,141.53L344.34,141.53ZM347.83,147.49L350.78,151.89L344.88,151.89ZM348.38,158.70L351.33,163.10L345.43,163.10ZM348.93,169.56L351.88,173.96L345.98,173.96ZM349.47,162.61L352.42,167.01L346.52,167.01ZM350.02,126.56L352.97,130.96L347.07,130.96ZM350.57,160.53L353.52,164.93L347.62,164.93ZM351.11,150.47L354.06,154.87L348.16,154.87ZM351.66,147.78L354.61,152.18L348.71,152.18ZM352.21,151.22L355.16,155.62L349.26,155.62ZM352.75,152.34L355.70,156.74L349.80,156.74ZM353.30,162.60L356.25,167.00L350.35,167.00ZM353.85,159.58L356.80,163.98L350.90,163.98ZM354.39,133.89L357.34,138.29L351.44,138.29ZM354.94,156.81L357.89,161.21L351.99,161.21ZM355.49,141.78L358.44,146.18L352.54,146.18ZM356.03,165.58L358.98,169.98L353.08,169.98ZM356.58,152.27L359.53,156.67L353.63,156.67ZM357.13,147.25L360.08,151.65L354.18,151.65ZM357.67,139.97L360.62,144.37L354.72,144.37ZM358.22,160.21L361.17,164.61L355.27,164.61ZM358.77,144.10L361.72,148.50L355.82,148.50ZM359.31,146.06L362.26,150.46L356.36,150.46ZM359.86,156.58L362.81,160.98L356.91,160.98ZM360.41,145.19L363.36,149.59L357.46,149.59ZM360.95,158.08L363.90,162.48L358.00,162.48ZM361.50,157.12L364.45,161.52L358.55,161.52ZM362.05,149.82L365.00,154.22L359.10,154.22ZM362.59,175.09L365.54,179.49L359.64,179.49ZM363.14,150.67L366.09,155.07L360.19,155.07ZM363.69,159.01L366.64,163.41L360.74,163.41ZM364.23,163.34L367.18,167.74L361.28,167.74ZM364.78,153.61L367.73,158.01L361.83,158.01ZM365.33,142.47L368.28,146.87L362.38,146.87ZM365.87,153.40L368.82,157.80L362.92,157.80ZM366.42,137.74L369.37,142.14L363.47,142.14ZM366.97,160.47L369.92,164.87L364.02,164.87ZM367.51,161.90L370.46,166.30L364.56,166.30ZM368.06,135.05L371.01,139.45L365.11,139.45ZM368.61,145.85L371.56,150.25L365.66,150.25ZM369.15,140.72L372.10,145.12L366.20,145.12ZM369.70,157.33L372.65,161.73L366.75,161.73ZM370.25,142.03L373.20,146.43L367.30,146.43ZM370.79,147.13L373.74,151.53L367.84,151.53ZM371.34,143.48L374.29,147.88L368.39,147.88ZM371.89,149.32L374.84,153.72L368.94,153.72ZM372.43,138.24L375.38,142.64L369.48,142.64ZM372.98,155.63L375.93,160.03L370.03,160.03ZM373.53,158.58L376.48,162.98L370.58,162.98ZM374.07,163.39L377.02,167.79L371.12,167.79ZM374.62,138.65L377.57,143.05L371.67,143.05ZM375.17,156.45L378.12,160.85L372.22,160.85ZM375.71,159.30L378.66,163.70L372.76,163.70ZM376.26,158.33L379.21,162.73L373.31,162.73ZM376.81,153.68L379.76,158.08L373.86,158.08ZM377.35,161.42L380.30,165.82L374.40,165.82ZM377.90,152.22L380.85,156.62L374.95,156.62ZM378.45,155.38L381.40,159.78L375.50,159.78ZM378.99,154.66L381.94,159.06L376.04,159.06ZM379.54,158.48L382.49,162.88L376.59,162.88ZM380.09,149.14L383.04,153.54L377.14,153.54ZM380.63,153.80L383.58,158.20L377.68,158.20ZM381.18,148.39L384.13,152.79L378.23,152.79ZM381.73,147.13L384.68,151.53L378.78,151.53ZM382.27,146.27L385.22,150.67L379.32,150.67ZM382.82,169.98L385.77,174.38L379.87,174.38ZM383.37,154.47L386.32,158.87L380.42,158.87ZM383.91,156.91L386.86,161.31L380.96,161.31ZM384.46,142.18L387.41,146.58L381.51,146.58ZM385.01,164.23L387.96,168.63L382.06,168.63ZM385.55,156.13L388.50,160.53L382.60,160.53ZM386.10,152.18L389.05,156.58L383.15,156.58ZM386.65,152.57L389.60,156.97L383.70,156.97ZM387.19,140.12L390.14,144.52L384.24,144.52ZM387.74,153.56L390.69,157.96L384.79,157.96ZM388.29,140.36L391.24,144.76L385.34,144.76ZM388.83,163.14L391.78,167.54L385.88,167.54ZM389.38,166.38L392.33,170.78L386.43,170.78ZM389.93,137.96L392.88,142.36L386.98,142.36ZM390.47,145.30L393.42,149.70L387.52,149.70ZM391.02,144.81L393.97,149.21L388.07,149.21ZM391.57,148.22L394.52,152.62L388.62,152.62ZM392.11,144.83L395.06,149.23L389.16,149.23ZM392.66,160.76L395.61,165.16L389.71,165.16ZM393.21,140.47L396.16,144.87L390.26,144.87ZM393.75,154.34L396.70,158.74L390.80,158.74ZM394.30,140.11L397.25,144.51L391.35,144.51ZM394.85,148.52L397.80,152.92L391.90,152.92ZM395.39,167.84L398.34,172.24L392.44,172.24ZM395.94,161.40L398.89,165.80L392.99,165.80ZM396.49,138.76L399.44,143.16L393.54,143.16ZM397.03,150.61L399.98,155.01L394.08,155.01ZM397.58,153.03L400.53,157.43L394.63,157.43ZM398.13,147.04L401.08,151.44L395.18,151.44ZM398.67,153.29L401.62,157.69L395.72,157.69ZM399.22,154.41L402.17,158.81L396.27,158.81ZM399.77,148.34L402.72,152.74L396.82,152.74ZM400.31,147.94L403.26,152.34L397.36,152.34ZM400.86,135.07L403.81,139.47L397.91,139.47ZM401.41,148.86L404.36,153.26L398.46,153.26ZM401.95,131.65L404.90,136.05L399.00,136.05ZM402.50,132.37L405.45,136.77L399.55,136.77ZM403.05,133.17L406.00,137.57L400.10,137.57ZM403.59,139.31L406.54,143.71L400.64,143.71ZM404.14,148.03L407.09,152.43L401.19,152.43ZM404.69,147.97L407.64,152.37L401.74,152.37ZM405.23,150.58L408.18,154.98L402.28,154.98ZM405.78,156.10L408.73,160.50L402.83,160.50ZM406.33,149.86L409.28,154.26L403.38,154.26ZM406.87,155.24L409.82,159.64L403.92,159.64ZM407.42,133.85L410.37,138.25L404.47,138.25ZM407.97,144.21L410.92,148.61L405.02,148.61ZM408.51,153.40L411.46,157.80L405.56,157.80ZM409.06,167.17L412.01,171.57L406.11,171.57ZM409.61,149.71L412.56,154.11L406.66,154.11ZM410.15,153.10L413.10,157.50L407.20,157.50ZM410.70,159.38L413.65,163.78L407.75,163.78ZM411.25,159.85L414.20,164.25L408.30,164.25ZM411.79,170.28L414.74,174.68L408.84,174.68ZM412.34,143.85L415.29,148.25L409.39,148.25ZM412.89,149.79L415.84,154.19L409.94,154.19ZM413.43,124.97L416.38,129.37L410.48,129.37ZM413.98,149.46L416.93,153.86L411.03,153.86ZM414.53,150.55L417.48,154.95L411.58,154.95ZM415.07,135.62L418.02,140.02L412.12,140.02ZM415.62,147.89L418.57,152.29L412.67,152.29ZM416.17,147.58L419.12,151.98L413.22,151.98ZM416.71,152.62L419.66,157.02L413.76,157.02ZM417.26,154.81L420.21,159.21L414.31,159.21ZM417.81,135.07L420.76,139.47L414.86,139.47ZM418.35,139.75L421.30,144.15L415.40,144.15ZM418.90,133.03L421.85,137.43L415.95,137.43ZM419.45,152.39L422.40,156.79L416.50,156.79ZM419.99,148.83L422.94,153.23L417.04,153.23ZM420.54,157.36L423.49,161.76L417.59,161.76ZM421.09,140.03L424.04,144.43L418.14,144.43ZM421.63,162.16L424.58,166.56L418.68,166.56ZM422.18,143.80L425.13,148.20L419.23,148.20ZM422.73,138.81L425.68,143.21L419.78,143.21ZM423.27,135.85L426.22,140.25L420.32,140.25ZM423.82,157.89L426.77,162.29L420.87,162.29ZM424.37,138.85L427.32,143.25L421.42,143.25ZM424.91,155.75L427.86,160.15L421.96,160.15ZM425.46,156.16L428.41,160.56L422.51,160.56ZM426.01,161.46L428.96,165.86L423.06,165.86ZM426.55,138.22L429.50,142.62L423.60,142.62ZM427.10,133.59L430.05,137.99L424.15,137.99ZM427.65,154.61L430.60,159.01L424.70,159.01ZM428.19,156.15L431.14,160.55L425.24,160.55ZM428.74,152.21L431.69,156.61L425.79,156.61ZM429.29,125.52L432.24,129.92L426.34,129.92ZM429.83,139.60L432.78,144.00L426.88,144.00ZM430.38,154.10L433.33,158.50L427.43,158.50ZM430.93,165.83L433.88,170.23L427.98,170.23ZM431.47,155.31L434.42,159.71L428.52,159.71ZM432.02,137.87L434.97,142.27L429.07,142.27ZM432.57,131.48L435.52,135.88L429.62,135.88ZM433.11,151.49L436.06,155.89L430.16,155.89ZM433.66,155.47L436.61,159.87L430.71,159.87ZM434.21,153.76L437.16,158.16L431.26,158.16ZM434.75,166.65L437.70,171.05L431.80,171.05ZM435.30,140.45L438.25,144.85L432.35,144.85ZM435.85,159.14L438.80,163.54L432.90,163.54ZM436.39,138.99L439.34,143.39L433.44,143.39ZM436.94,164.96L439.89,169.36L433.99,169.36ZM437.49,160.85L440.44,165.25L434.54,165.25ZM438.03,146.24L440.98,150.64L435.08,150.64ZM438.58,156.10L441.53,160.50L435.63,160.50ZM439.13,141.61L442.08,146.01L436.18,146.01ZM439.67,148.85L442.62,153.25L436.72,153.25ZM440.22,159.94L443.17,164.34L437.27,164.34ZM440.77,143.09L443.72,147.49L437.82,147.49ZM441.31,141.02L444.26,145.42L438.36,145.42ZM441.86,166.84L444.81,171.24L438.91,171.24ZM442.41,131.78L445.36,136.18L439.46,136.18ZM442.95,144.24L445.90,148.64L440.00,148.64ZM443.50,141.76L446.45,146.16L440.55,146.16Z" fill="none" stroke="#1A80C4" stroke-width="1.25" stroke-linejoin="round"/>
<path d="M277.40,240.33a2.1,2.1 0 1,0 4.2,0a2.1,2.1 0 1,0 -4.2,0ZM277.95,240.26a2.1,2.1 0 1,0 4.2,0a2.1,2.1 0 1,0 -4.2,0ZM278.49,238.82a2.1,2.1 0 1,0 4.2,0a2.1,2.1 0 1,0 -4.2,0ZM279.04,240.16a2.1,2.1 0 1,0 4.2,0a2.1,2.1 0 1,0 -4.2,0ZM279.59,239.54a2.1,2.1 0 1,0 4.2,0a2.1,2.1 0 1,0 -4.2,0ZM280.13,239.55a2.1,2.1 0 1,0 4.2,0a2.1,2.1 0 1,0 -4.2,0ZM280.68,239.27a2.1,2.1 0 1,0 4.2,0a2.1,2.1 0 1,0 -4.2,0ZM281.23,236.79a2.1,2.1 0 1,0 4.2,0a2.1,2.1 0 1,0 -4.2,0ZM281.77,236.33a2.1,2.1 0 1,0 4.2,0a2.1,2.1 0 1,0 -4.2,0ZM282.32,237.68a2.1,2.1 0 1,0 4.2,0a2.1,2.1 0 1,0 -4.2,0ZM282.87,236.90a2.1,2.1 0 1,0 4.2,0a2.1,2.1 0 1,0 -4.2,0ZM283.41,236.06a2.1,2.1 0 1,0 4.2,0a2.1,2.1 0 1,0 -4.2,0ZM283.96,236.13a2.1,2.1 0 1,0 4.2,0a2.1,2.1 0 1,0 -4.2,0ZM284.51,235.48a2.1,2.1 0 1,0 4.2,0a2.1,2.1 0 1,0 -4.2,0ZM285.05,237.52a2.1,2.1 0 1,0 4.2,0a2.1,2.1 0 1,0 -4.2,0ZM285.60,236.67a2.1,2.1 0 1,0 4.2,0a2.1,2.1 0 1,0 -4.2,0ZM286.15,235.37a2.1,2.1 0 1,0 4.2,0a2.1,2.1 0 1,0 -4.2,0ZM286.69,234.18a2.1,2.1 0 1,0 4.2,0a2.1,2.1 0 1,0 -4.2,0ZM287.24,235.15a2.1,2.1 0 1,0 4.2,0a2.1,2.1 0 1,0 -4.2,0ZM287.79,235.96a2.1,2.1 0 1,0 4.2,0a2.1,2.1 0 1,0 -4.2,0ZM288.33,235.40a2.1,2.1 0 1,0 4.2,0a2.1,2.1 0 1,0 -4.2,0ZM288.88,235.59a2.1,2.1 0 1,0 4.2,0a2.1,2.1 0 1,0 -4.2,0ZM289.43,235.68a2.1,2.1 0 1,0 4.2,0a2.1,2.1 0 1,0 -4.2,0ZM289.97,233.38a2.1,2.1 0 1,0 4.2,0a2.1,2.1 0 1,0 -4.2,0ZM290.52,235.28a2.1,2.1 0 1,0 4.2,0a2.1,2.1 0 1,0 -4.2,0ZM291.07,234.58a2.1,2.1 0 1,0 4.2,0a2.1,2.1 0 1,0 -4.2,0ZM291.61,232.48a2.1,2.1 0 1,0 4.2,0a2.1,2.1 0 1,0 -4.2,0ZM292.16,233.31a2.1,2.1 0 1,0 4.2,0a2.1,2.1 0 1,0 -4.2,0ZM292.71,234.01a2.1,2.1 0 1,0 4.2,0a2.1,2.1 0 1,0 -4.2,0ZM293.25,234.81a2.1,2.1 0 1,0 4.2,0a2.1,2.1 0 1,0 -4.2,0ZM293.80,233.75a2.1,2.1 0 1,0 4.2,0a2.1,2.1 0 1,0 -4.2,0ZM294.35,232.53a2.1,2.1 0 1,0 4.2,0a2.1,2.1 0 1,0 -4.2,0ZM294.89,233.37a2.1,2.1 0 1,0 4.2,0a2.1,2.1 0 1,0 -4.2,0ZM295.44,232.68a2.1,2.1 0 1,0 4.2,0a2.1,2.1 0 1,0 -4.2,0ZM295.99,233.68a2.1,2.1 0 1,0 4.2,0a2.1,2.1 0 1,0 -4.2,0ZM296.53,233.19a2.1,2.1 0 1,0 4.2,0a2.1,2.1 0 1,0 -4.2,0ZM297.08,233.77a2.1,2.1 0 1,0 4.2,0a2.1,2.1 0 1,0 -4.2,0ZM297.63,233.15a2.1,2.1 0 1,0 4.2,0a2.1,2.1 0 1,0 -4.2,0ZM298.17,232.30a2.1,2.1 0 1,0 4.2,0a2.1,2.1 0 1,0 -4.2,0ZM298.72,234.82a2.1,2.1 0 1,0 4.2,0a2.1,2.1 0 1,0 -4.2,0ZM299.27,233.51a2.1,2.1 0 1,0 4.2,0a2.1,2.1 0 1,0 -4.2,0ZM299.81,233.19a2.1,2.1 0 1,0 4.2,0a2.1,2.1 0 1,0 -4.2,0ZM300.36,233.92a2.1,2.1 0 1,0 4.2,0a2.1,2.1 0 1,0 -4.2,0ZM300.91,233.64a2.1,2.1 0 1,0 4.2,0a2.1,2.1 0 1,0 -4.2,0ZM301.45,232.58a2.1,2.1 0 1,0 4.2,0a2.1,2.1 0 1,0 -4.2,0ZM302.00,231.40a2.1,2.1 0 1,0 4.2,0a2.1,2.1 0 1,0 -4.2,0ZM302.55,232.66a2.1,2.1 0 1,0 4.2,0a2.1,2.1 0 1,0 -4.2,0ZM303.09,232.91a2.1,2.1 0 1,0 4.2,0a2.1,2.1 0 1,0 -4.2,0ZM303.64,234.63a2.1,2.1 0 1,0 4.2,0a2.1,2.1 0 1,0 -4.2,0ZM304.19,231.34a2.1,2.1 0 1,0 4.2,0a2.1,2.1 0 1,0 -4.2,0ZM304.73,233.04a2.1,2.1 0 1,0 4.2,0a2.1,2.1 0 1,0 -4.2,0ZM305.28,233.11a2.1,2.1 0 1,0 4.2,0a2.1,2.1 0 1,0 -4.2,0ZM305.83,234.09a2.1,2.1 0 1,0 4.2,0a2.1,2.1 0 1,0 -4.2,0ZM306.37,233.06a2.1,2.1 0 1,0 4.2,0a2.1,2.1 0 1,0 -4.2,0ZM306.92,234.00a2.1,2.1 0 1,0 4.2,0a2.1,2.1 0 1,0 -4.2,0ZM307.47,232.87a2.1,2.1 0 1,0 4.2,0a2.1,2.1 0 1,0 -4.2,0ZM308.01,232.47a2.1,2.1 0 1,0 4.2,0a2.1,2.1 0 1,0 -4.2,0ZM308.56,232.84a2.1,2.1 0 1,0 4.2,0a2.1,2.1 0 1,0 -4.2,0ZM309.11,232.58a2.1,2.1 0 1,0 4.2,0a2.1,2.1 0 1,0 -4.2,0ZM309.65,233.60a2.1,2.1 0 1,0 4.2,0a2.1,2.1 0 1,0 -4.2,0ZM310.20,231.43a2.1,2.1 0 1,0 4.2,0a2.1,2.1 0 1,0 -4.2,0ZM310.75,233.35a2.1,2.1 0 1,0 4.2,0a2.1,2.1 0 1,0 -4.2,0ZM311.29,234.41a2.1,2.1 0 1,0 4.2,0a2.1,2.1 0 1,0 -4.2,0ZM311.84,232.85a2.1,2.1 0 1,0 4.2,0a2.1,2.1 0 1,0 -4.2,0ZM312.39,233.35a2.1,2.1 0 1,0 4.2,0a2.1,2.1 0 1,0 -4.2,0ZM312.93,233.55a2.1,2.1 0 1,0 4.2,0a2.1,2.1 0 1,0 -4.2,0ZM313.48,232.90a2.1,2.1 0 1,0 4.2,0a2.1,2.1 0 1,0 -4.2,0ZM314.03,232.26a2.1,2.1 0 1,0 4.2,0a2.1,2.1 0 1,0 -4.2,0ZM314.57,233.61a2.1,2.1 0 1,0 4.2,0a2.1,2.1 0 1,0 -4.2,0ZM315.12,232.60a2.1,2.1 0 1,0 4.2,0a2.1,2.1 0 1,0 -4.2,0ZM315.67,231.10a2.1,2.1 0 1,0 4.2,0a2.1,2.1 0 1,0 -4.2,0ZM316.21,231.76a2.1,2.1 0 1,0 4.2,0a2.1,2.1 0 1,0 -4.2,0ZM316.76,232.51a2.1,2.1 0 1,0 4.2,0a2.1,2.1 0 1,0 -4.2,0ZM317.31,232.21a2.1,2.1 0 1,0 4.2,0a2.1,2.1 0 1,0 -4.2,0ZM317.85,232.43a2.1,2.1 0 1,0 4.2,0a2.1,2.1 0 1,0 -4.2,0ZM318.40,232.36a2.1,2.1 0 1,0 4.2,0a2.1,2.1 0 1,0 -4.2,0ZM318.95,231.61a2.1,2.1 0 1,0 4.2,0a2.1,2.1 0 1,0 -4.2,0ZM319.49,232.38a2.1,2.1 0 1,0 4.2,0a2.1,2.1 0 1,0 -4.2,0ZM320.04,234.53a2.1,2.1 0 1,0 4.2,0a2.1,2.1 0 1,0 -4.2,0ZM320.59,232.29a2.1,2.1 0 1,0 4.2,0a2.1,2.1 0 1,0 -4.2,0ZM321.13,233.09a2.1,2.1 0 1,0 4.2,0a2.1,2.1 0 1,0 -4.2,0ZM321.68,231.64a2.1,2.1 0 1,0 4.2,0a2.1,2.1 0 1,0 -4.2,0ZM322.23,232.81a2.1,2.1 0 1,0 4.2,0a2.1,2.1 0 1,0 -4.2,0ZM322.77,232.09a2.1,2.1 0 1,0 4.2,0a2.1,2.1 0 1,0 -4.2,0ZM323.32,230.17a2.1,2.1 0 1,0 4.2,0a2.1,2.1 0 1,0 -4.2,0ZM323.87,233.18a2.1,2.1 0 1,0 4.2,0a2.1,2.1 0 1,0 -4.2,0ZM324.41,233.25a2.1,2.1 0 1,0 4.2,0a2.1,2.1 0 1,0 -4.2,0ZM324.96,233.51a2.1,2.1 0 1,0 4.2,0a2.1,2.1 0 1,0 -4.2,0ZM325.51,234.42a2.1,2.1 0 1,0 4.2,0a2.1,2.1 0 1,0 -4.2,0ZM326.05,233.92a2.1,2.1 0 1,0 4.2,0a2.1,2.1 0 1,0 -4.2,0ZM326.60,231.81a2.1,2.1 0 1,0 4.2,0a2.1,2.1 0 1,0 -4.2,0ZM327.15,232.74a2.1,2.1 0 1,0 4.2,0a2.1,2.1 0 1,0 -4.2,0ZM327.69,233.88a2.1,2.1 0 1,0 4.2,0a2.1,2.1 0 1,0 -4.2,0ZM328.24,233.51a2.1,2.1 0 1,0 4.2,0a2.1,2.1 0 1,0 -4.2,0ZM328.79,231.53a2.1,2.1 0 1,0 4.2,0a2.1,2.1 0 1,0 -4.2,0ZM329.33,232.82a2.1,2.1 0 1,0 4.2,0a2.1,2.1 0 1,0 -4.2,0ZM329.88,232.43a2.1,2.1 0 1,0 4.2,0a2.1,2.1 0 1,0 -4.2,0ZM330.43,231.76a2.1,2.1 0 1,0 4.2,0a2.1,2.1 0 1,0 -4.2,0ZM330.97,230.79a2.1,2.1 0 1,0 4.2,0a2.1,2.1 0 1,0 -4.2,0ZM331.52,230.23a2.1,2.1 0 1,0 4.2,0a2.1,2.1 0 1,0 -4.2,0ZM332.07,231.07a2.1,2.1 0 1,0 4.2,0a2.1,2.1 0 1,0 -4.2,0ZM332.61,231.90a2.1,2.1 0 1,0 4.2,0a2.1,2.1 0 1,0 -4.2,0ZM333.16,231.85a2.1,2.1 0 1,0 4.2,0a2.1,2.1 0 1,0 -4.2,0ZM333.71,230.32a2.1,2.1 0 1,0 4.2,0a2.1,2.1 0 1,0 -4.2,0ZM334.25,230.66a2.1,2.1 0 1,0 4.2,0a2.1,2.1 0 1,0 -4.2,0ZM334.80,232.28a2.1,2.1 0 1,0 4.2,0a2.1,2.1 0 1,0 -4.2,0ZM335.35,231.55a2.1,2.1 0 1,0 4.2,0a2.1,2.1 0 1,0 -4.2,0ZM335.89,231.70a2.1,2.1 0 1,0 4.2,0a2.1,2.1 0 1,0 -4.2,0ZM336.44,231.91a2.1,2.1 0 1,0 4.2,0a2.1,2.1 0 1,0 -4.2,0ZM336.99,232.41a2.1,2.1 0 1,0 4.2,0a2.1,2.1 0 1,0 -4.2,0ZM337.53,233.18a2.1,2.1 0 1,0 4.2,0a2.1,2.1 0 1,0 -4.2,0ZM338.08,232.42a2.1,2.1 0 1,0 4.2,0a2.1,2.1 0 1,0 -4.2,0ZM338.63,233.36a2.1,2.1 0 1,0 4.2,0a2.1,2.1 0 1,0 -4.2,0ZM339.17,230.75a2.1,2.1 0 1,0 4.2,0a2.1,2.1 0 1,0 -4.2,0ZM339.72,231.39a2.1,2.1 0 1,0 4.2,0a2.1,2.1 0 1,0 -4.2,0ZM340.27,233.01a2.1,2.1 0 1,0 4.2,0a2.1,2.1 0 1,0 -4.2,0ZM340.81,230.56a2.1,2.1 0 1,0 4.2,0a2.1,2.1 0 1,0 -4.2,0ZM341.36,231.02a2.1,2.1 0 1,0 4.2,0a2.1,2.1 0 1,0 -4.2,0ZM341.91,233.64a2.1,2.1 0 1,0 4.2,0a2.1,2.1 0 1,0 -4.2,0ZM342.45,230.11a2.1,2.1 0 1,0 4.2,0a2.1,2.1 0 1,0 -4.2,0ZM343.00,231.07a2.1,2.1 0 1,0 4.2,0a2.1,2.1 0 1,0 -4.2,0ZM343.55,229.88a2.1,2.1 0 1,0 4.2,0a2.1,2.1 0 1,0 -4.2,0ZM344.09,232.96a2.1,2.1 0 1,0 4.2,0a2.1,2.1 0 1,0 -4.2,0ZM344.64,231.29a2.1,2.1 0 1,0 4.2,0a2.1,2.1 0 1,0 -4.2,0ZM345.19,231.38a2.1,2.1 0 1,0 4.2,0a2.1,2.1 0 1,0 -4.2,0ZM345.73,231.58a2.1,2.1 0 1,0 4.2,0a2.1,2.1 0 1,0 -4.2,0ZM346.28,231.60a2.1,2.1 0 1,0 4.2,0a2.1,2.1 0 1,0 -4.2,0ZM346.83,230.76a2.1,2.1 0 1,0 4.2,0a2.1,2.1 0 1,0 -4.2,0ZM347.37,233.14a2.1,2.1 0 1,0 4.2,0a2.1,2.1 0 1,0 -4.2,0ZM347.92,232.89a2.1,2.1 0 1,0 4.2,0a2.1,2.1 0 1,0 -4.2,0ZM348.47,233.02a2.1,2.1 0 1,0 4.2,0a2.1,2.1 0 1,0 -4.2,0ZM349.01,232.23a2.1,2.1 0 1,0 4.2,0a2.1,2.1 0 1,0 -4.2,0ZM349.56,232.26a2.1,2.1 0 1,0 4.2,0a2.1,2.1 0 1,0 -4.2,0ZM350.11,231.34a2.1,2.1 0 1,0 4.2,0a2.1,2.1 0 1,0 -4.2,0ZM350.65,231.42a2.1,2.1 0 1,0 4.2,0a2.1,2.1 0 1,0 -4.2,0ZM351.20,231.63a2.1,2.1 0 1,0 4.2,0a2.1,2.1 0 1,0 -4.2,0ZM351.75,232.29a2.1,2.1 0 1,0 4.2,0a2.1,2.1 0 1,0 -4.2,0ZM352.29,232.05a2.1,2.1 0 1,0 4.2,0a2.1,2.1 0 1,0 -4.2,0ZM352.84,230.74a2.1,2.1 0 1,0 4.2,0a2.1,2.1 0 1,0 -4.2,0ZM353.39,230.90a2.1,2.1 0 1,0 4.2,0a2.1,2.1 0 1,0 -4.2,0ZM353.93,231.51a2.1,2.1 0 1,0 4.2,0a2.1,2.1 0 1,0 -4.2,0ZM354.48,231.90a2.1,2.1 0 1,0 4.2,0a2.1,2.1 0 1,0 -4.2,0ZM355.03,230.13a2.1,2.1 0 1,0 4.2,0a2.1,2.1 0 1,0 -4.2,0ZM355.57,232.13a2.1,2.1 0 1,0 4.2,0a2.1,2.1 0 1,0 -4.2,0ZM356.12,230.96a2.1,2.1 0 1,0 4.2,0a2.1,2.1 0 1,0 -4.2,0ZM356.67,230.47a2.1,2.1 0 1,0 4.2,0a2.1,2.1 0 1,0 -4.2,0ZM357.21,231.79a2.1,2.1 0 1,0 4.2,0a2.1,2.1 0 1,0 -4.2,0ZM357.76,230.76a2.1,2.1 0 1,0 4.2,0a2.1,2.1 0 1,0 -4.2,0ZM358.31,232.57a2.1,2.1 0 1,0 4.2,0a2.1,2.1 0 1,0 -4.2,0ZM358.85,230.56a2.1,2.1 0 1,0 4.2,0a2.1,2.1 0 1,0 -4.2,0ZM359.40,231.31a2.1,2.1 0 1,0 4.2,0a2.1,2.1 0 1,0 -4.2,0ZM359.95,232.98a2.1,2.1 0 1,0 4.2,0a2.1,2.1 0 1,0 -4.2,0ZM360.49,230.85a2.1,2.1 0 1,0 4.2,0a2.1,2.1 0 1,0 -4.2,0ZM361.04,232.31a2.1,2.1 0 1,0 4.2,0a2.1,2.1 0 1,0 -4.2,0ZM361.59,230.26a2.1,2.1 0 1,0 4.2,0a2.1,2.1 0 1,0 -4.2,0ZM362.13,232.09a2.1,2.1 0 1,0 4.2,0a2.1,2.1 0 1,0 -4.2,0ZM362.68,231.60a2.1,2.1 0 1,0 4.2,0a2.1,2.1 0 1,0 -4.2,0ZM363.23,231.17a2.1,2.1 0 1,0 4.2,0a2.1,2.1 0 1,0 -4.2,0ZM363.77,231.74a2.1,2.1 0 1,0 4.2,0a2.1,2.1 0 1,0 -4.2,0ZM364.32,231.18a2.1,2.1 0 1,0 4.2,0a2.1,2.1 0 1,0 -4.2,0ZM364.87,231.93a2.1,2.1 0 1,0 4.2,0a2.1,2.1 0 1,0 -4.2,0ZM365.41,230.77a2.1,2.1 0 1,0 4.2,0a2.1,2.1 0 1,0 -4.2,0ZM365.96,231.39a2.1,2.1 0 1,0 4.2,0a2.1,2.1 0 1,0 -4.2,0ZM366.51,231.19a2.1,2.1 0 1,0 4.2,0a2.1,2.1 0 1,0 -4.2,0ZM367.05,233.96a2.1,2.1 0 1,0 4.2,0a2.1,2.1 0 1,0 -4.2,0ZM367.60,230.28a2.1,2.1 0 1,0 4.2,0a2.1,2.1 0 1,0 -4.2,0ZM368.15,231.33a2.1,2.1 0 1,0 4.2,0a2.1,2.1 0 1,0 -4.2,0ZM368.69,233.02a2.1,2.1 0 1,0 4.2,0a2.1,2.1 0 1,0 -4.2,0ZM369.24,231.25a2.1,2.1 0 1,0 4.2,0a2.1,2.1 0 1,0 -4.2,0ZM369.79,230.89a2.1,2.1 0 1,0 4.2,0a2.1,2.1 0 1,0 -4.2,0ZM370.33,230.32a2.1,2.1 0 1,0 4.2,0a2.1,2.1 0 1,0 -4.2,0ZM370.88,232.33a2.1,2.1 0 1,0 4.2,0a2.1,2.1 0 1,0 -4.2,0ZM371.43,229.85a2.1,2.1 0 1,0 4.2,0a2.1,2.1 0 1,0 -4.2,0ZM371.97,231.44a2.1,2.1 0 1,0 4.2,0a2.1,2.1 0 1,0 -4.2,0ZM372.52,229.04a2.1,2.1 0 1,0 4.2,0a2.1,2.1 0 1,0 -4.2,0ZM373.07,231.41a2.1,2.1 0 1,0 4.2,0a2.1,2.1 0 1,0 -4.2,0ZM373.61,230.63a2.1,2.1 0 1,0 4.2,0a2.1,2.1 0 1,0 -4.2,0ZM374.16,231.60a2.1,2.1 0 1,0 4.2,0a2.1,2.1 0 1,0 -4.2,0ZM374.71,232.30a2.1,2.1 0 1,0 4.2,0a2.1,2.1 0 1,0 -4.2,0ZM375.25,230.21a2.1,2.1 0 1,0 4.2,0a2.1,2.1 0 1,0 -4.2,0ZM375.80,230.38a2.1,2.1 0 1,0 4.2,0a2.1,2.1 0 1,0 -4.2,0ZM376.35,229.78a2.1,2.1 0 1,0 4.2,0a2.1,2.1 0 1,0 -4.2,0ZM376.89,230.41a2.1,2.1 0 1,0 4.2,0a2.1,2.1 0 1,0 -4.2,0ZM377.44,231.74a2.1,2.1 0 1,0 4.2,0a2.1,2.1 0 1,0 -4.2,0ZM377.99,232.75a2.1,2.1 0 1,0 4.2,0a2.1,2.1 0 1,0 -4.2,0ZM378.53,231.80a2.1,2.1 0 1,0 4.2,0a2.1,2.1 0 1,0 -4.2,0ZM379.08,231.81a2.1,2.1 0 1,0 4.2,0a2.1,2.1 0 1,0 -4.2,0ZM379.63,231.93a2.1,2.1 0 1,0 4.2,0a2.1,2.1 0 1,0 -4.2,0ZM380.17,230.61a2.1,2.1 0 1,0 4.2,0a2.1,2.1 0 1,0 -4.2,0ZM380.72,230.84a2.1,2.1 0 1,0 4.2,0a2.1,2.1 0 1,0 -4.2,0ZM381.27,231.40a2.1,2.1 0 1,0 4.2,0a2.1,2.1 0 1,0 -4.2,0ZM381.81,230.97a2.1,2.1 0 1,0 4.2,0a2.1,2.1 0 1,0 -4.2,0ZM382.36,231.26a2.1,2.1 0 1,0 4.2,0a2.1,2.1 0 1,0 -4.2,0ZM382.91,230.92a2.1,2.1 0 1,0 4.2,0a2.1,2.1 0 1,0 -4.2,0ZM383.45,230.40a2.1,2.1 0 1,0 4.2,0a2.1,2.1 0 1,0 -4.2,0ZM384.00,230.20a2.1,2.1 0 1,0 4.2,0a2.1,2.1 0 1,0 -4.2,0ZM384.55,231.73a2.1,2.1 0 1,0 4.2,0a2.1,2.1 0 1,0 -4.2,0ZM385.09,232.49a2.1,2.1 0 1,0 4.2,0a2.1,2.1 0 1,0 -4.2,0ZM385.64,229.73a2.1,2.1 0 1,0 4.2,0a2.1,2.1 0 1,0 -4.2,0ZM386.19,230.96a2.1,2.1 0 1,0 4.2,0a2.1,2.1 0 1,0 -4.2,0ZM386.73,230.02a2.1,2.1 0 1,0 4.2,0a2.1,2.1 0 1,0 -4.2,0ZM387.28,232.59a2.1,2.1 0 1,0 4.2,0a2.1,2.1 0 1,0 -4.2,0ZM387.83,231.35a2.1,2.1 0 1,0 4.2,0a2.1,2.1 0 1,0 -4.2,0ZM388.37,231.00a2.1,2.1 0 1,0 4.2,0a2.1,2.1 0 1,0 -4.2,0ZM388.92,232.37a2.1,2.1 0 1,0 4.2,0a2.1,2.1 0 1,0 -4.2,0ZM389.47,231.49a2.1,2.1 0 1,0 4.2,0a2.1,2.1 0 1,0 -4.2,0ZM390.01,230.32a2.1,2.1 0 1,0 4.2,0a2.1,2.1 0 1,0 -4.2,0ZM390.56,229.98a2.1,2.1 0 1,0 4.2,0a2.1,2.1 0 1,0 -4.2,0ZM391.11,229.49a2.1,2.1 0 1,0 4.2,0a2.1,2.1 0 1,0 -4.2,0ZM391.65,231.78a2.1,2.1 0 1,0 4.2,0a2.1,2.1 0 1,0 -4.2,0ZM392.20,232.28a2.1,2.1 0 1,0 4.2,0a2.1,2.1 0 1,0 -4.2,0ZM392.75,230.47a2.1,2.1 0 1,0 4.2,0a2.1,2.1 0 1,0 -4.2,0ZM393.29,230.06a2.1,2.1 0 1,0 4.2,0a2.1,2.1 0 1,0 -4.2,0ZM393.84,230.76a2.1,2.1 0 1,0 4.2,0a2.1,2.1 0 1,0 -4.2,0ZM394.39,232.15a2.1,2.1 0 1,0 4.2,0a2.1,2.1 0 1,0 -4.2,0ZM394.93,230.19a2.1,2.1 0 1,0 4.2,0a2.1,2.1 0 1,0 -4.2,0ZM395.48,230.17a2.1,2.1 0 1,0 4.2,0a2.1,2.1 0 1,0 -4.2,0ZM396.03,230.38a2.1,2.1 0 1,0 4.2,0a2.1,2.1 0 1,0 -4.2,0ZM396.57,231.35a2.1,2.1 0 1,0 4.2,0a2.1,2.1 0 1,0 -4.2,0ZM397.12,230.60a2.1,2.1 0 1,0 4.2,0a2.1,2.1 0 1,0 -4.2,0ZM397.67,230.13a2.1,2.1 0 1,0 4.2,0a2.1,2.1 0 1,0 -4.2,0ZM398.21,231.38a2.1,2.1 0 1,0 4.2,0a2.1,2.1 0 1,0 -4.2,0ZM398.76,232.57a2.1,2.1 0 1,0 4.2,0a2.1,2.1 0 1,0 -4.2,0ZM399.31,230.52a2.1,2.1 0 1,0 4.2,0a2.1,2.1 0 1,0 -4.2,0ZM399.85,230.36a2.1,2.1 0 1,0 4.2,0a2.1,2.1 0 1,0 -4.2,0ZM400.40,230.78a2.1,2.1 0 1,0 4.2,0a2.1,2.1 0 1,0 -4.2,0ZM400.95,229.95a2.1,2.1 0 1,0 4.2,0a2.1,2.1 0 1,0 -4.2,0ZM401.49,231.32a2.1,2.1 0 1,0 4.2,0a2.1,2.1 0 1,0 -4.2,0ZM402.04,230.83a2.1,2.1 0 1,0 4.2,0a2.1,2.1 0 1,0 -4.2,0ZM402.59,231.02a2.1,2.1 0 1,0 4.2,0a2.1,2.1 0 1,0 -4.2,0ZM403.13,230.18a2.1,2.1 0 1,0 4.2,0a2.1,2.1 0 1,0 -4.2,0ZM403.68,229.21a2.1,2.1 0 1,0 4.2,0a2.1,2.1 0 1,0 -4.2,0ZM404.23,230.92a2.1,2.1 0 1,0 4.2,0a2.1,2.1 0 1,0 -4.2,0ZM404.77,228.75a2.1,2.1 0 1,0 4.2,0a2.1,2.1 0 1,0 -4.2,0ZM405.32,229.22a2.1,2.1 0 1,0 4.2,0a2.1,2.1 0 1,0 -4.2,0ZM405.87,229.90a2.1,2.1 0 1,0 4.2,0a2.1,2.1 0 1,0 -4.2,0ZM406.41,230.07a2.1,2.1 0 1,0 4.2,0a2.1,2.1 0 1,0 -4.2,0ZM406.96,228.95a2.1,2.1 0 1,0 4.2,0a2.1,2.1 0 1,0 -4.2,0ZM407.51,230.76a2.1,2.1 0 1,0 4.2,0a2.1,2.1 0 1,0 -4.2,0ZM408.05,230.68a2.1,2.1 0 1,0 4.2,0a2.1,2.1 0 1,0 -4.2,0ZM408.60,231.56a2.1,2.1 0 1,0 4.2,0a2.1,2.1 0 1,0 -4.2,0ZM409.15,230.10a2.1,2.1 0 1,0 4.2,0a2.1,2.1 0 1,0 -4.2,0ZM409.69,229.27a2.1,2.1 0 1,0 4.2,0a2.1,2.1 0 1,0 -4.2,0ZM410.24,230.02a2.1,2.1 0 1,0 4.2,0a2.1,2.1 0 1,0 -4.2,0ZM410.79,230.10a2.1,2.1 0 1,0 4.2,0a2.1,2.1 0 1,0 -4.2,0ZM411.33,230.67a2.1,2.1 0 1,0 4.2,0a2.1,2.1 0 1,0 -4.2,0ZM411.88,230.31a2.1,2.1 0 1,0 4.2,0a2.1,2.1 0 1,0 -4.2,0ZM412.43,231.79a2.1,2.1 0 1,0 4.2,0a2.1,2.1 0 1,0 -4.2,0ZM412.97,229.45a2.1,2.1 0 1,0 4.2,0a2.1,2.1 0 1,0 -4.2,0ZM413.52,230.81a2.1,2.1 0 1,0 4.2,0a2.1,2.1 0 1,0 -4.2,0ZM414.07,231.44a2.1,2.1 0 1,0 4.2,0a2.1,2.1 0 1,0 -4.2,0ZM414.61,231.10a2.1,2.1 0 1,0 4.2,0a2.1,2.1 0 1,0 -4.2,0ZM415.16,231.15a2.1,2.1 0 1,0 4.2,0a2.1,2.1 0 1,0 -4.2,0ZM415.71,229.56a2.1,2.1 0 1,0 4.2,0a2.1,2.1 0 1,0 -4.2,0ZM416.25,229.35a2.1,2.1 0 1,0 4.2,0a2.1,2.1 0 1,0 -4.2,0ZM416.80,231.60a2.1,2.1 0 1,0 4.2,0a2.1,2.1 0 1,0 -4.2,0ZM417.35,229.44a2.1,2.1 0 1,0 4.2,0a2.1,2.1 0 1,0 -4.2,0ZM417.89,229.46a2.1,2.1 0 1,0 4.2,0a2.1,2.1 0 1,0 -4.2,0ZM418.44,230.82a2.1,2.1 0 1,0 4.2,0a2.1,2.1 0 1,0 -4.2,0ZM418.99,231.66a2.1,2.1 0 1,0 4.2,0a2.1,2.1 0 1,0 -4.2,0ZM419.53,230.95a2.1,2.1 0 1,0 4.2,0a2.1,2.1 0 1,0 -4.2,0ZM420.08,230.85a2.1,2.1 0 1,0 4.2,0a2.1,2.1 0 1,0 -4.2,0ZM420.63,229.95a2.1,2.1 0 1,0 4.2,0a2.1,2.1 0 1,0 -4.2,0ZM421.17,230.62a2.1,2.1 0 1,0 4.2,0a2.1,2.1 0 1,0 -4.2,0ZM421.72,232.19a2.1,2.1 0 1,0 4.2,0a2.1,2.1 0 1,0 -4.2,0ZM422.27,230.08a2.1,2.1 0 1,0 4.2,0a2.1,2.1 0 1,0 -4.2,0ZM422.81,231.75a2.1,2.1 0 1,0 4.2,0a2.1,2.1 0 1,0 -4.2,0ZM423.36,229.47a2.1,2.1 0 1,0 4.2,0a2.1,2.1 0 1,0 -4.2,0ZM423.91,231.46a2.1,2.1 0 1,0 4.2,0a2.1,2.1 0 1,0 -4.2,0ZM424.45,230.99a2.1,2.1 0 1,0 4.2,0a2.1,2.1 0 1,0 -4.2,0ZM425.00,231.16a2.1,2.1 0 1,0 4.2,0a2.1,2.1 0 1,0 -4.2,0ZM425.55,230.87a2.1,2.1 0 1,0 4.2,0a2.1,2.1 0 1,0 -4.2,0ZM426.09,229.16a2.1,2.1 0 1,0 4.2,0a2.1,2.1 0 1,0 -4.2,0ZM426.64,229.59a2.1,2.1 0 1,0 4.2,0a2.1,2.1 0 1,0 -4.2,0ZM427.19,229.83a2.1,2.1 0 1,0 4.2,0a2.1,2.1 0 1,0 -4.2,0ZM427.73,230.11a2.1,2.1 0 1,0 4.2,0a2.1,2.1 0 1,0 -4.2,0ZM428.28,231.87a2.1,2.1 0 1,0 4.2,0a2.1,2.1 0 1,0 -4.2,0ZM428.83,230.92a2.1,2.1 0 1,0 4.2,0a2.1,2.1 0 1,0 -4.2,0ZM429.37,230.95a2.1,2.1 0 1,0 4.2,0a2.1,2.1 0 1,0 -4.2,0ZM429.92,231.36a2.1,2.1 0 1,0 4.2,0a2.1,2.1 0 1,0 -4.2,0ZM430.47,229.98a2.1,2.1 0 1,0 4.2,0a2.1,2.1 0 1,0 -4.2,0ZM431.01,231.16a2.1,2.1 0 1,0 4.2,0a2.1,2.1 0 1,0 -4.2,0ZM431.56,231.14a2.1,2.1 0 1,0 4.2,0a2.1,2.1 0 1,0 -4.2,0ZM432.11,231.47a2.1,2.1 0 1,0 4.2,0a2.1,2.1 0 1,0 -4.2,0ZM432.65,232.43a2.1,2.1 0 1,0 4.2,0a2.1,2.1 0 1,0 -4.2,0ZM433.20,229.95a2.1,2.1 0 1,0 4.2,0a2.1,2.1 0 1,0 -4.2,0ZM433.75,229.27a2.1,2.1 0 1,0 4.2,0a2.1,2.1 0 1,0 -4.2,0ZM434.29,230.37a2.1,2.1 0 1,0 4.2,0a2.1,2.1 0 1,0 -4.2,0ZM434.84,231.46a2.1,2.1 0 1,0 4.2,0a2.1,2.1 0 1,0 -4.2,0ZM435.39,233.09a2.1,2.1 0 1,0 4.2,0a2.1,2.1 0 1,0 -4.2,0ZM435.93,230.40a2.1,2.1 0 1,0 4.2,0a2.1,2.1 0 1,0 -4.2,0ZM436.48,229.43a2.1,2.1 0 1,0 4.2,0a2.1,2.1 0 1,0 -4.2,0ZM437.03,230.30a2.1,2.1 0 1,0 4.2,0a2.1,2.1 0 1,0 -4.2,0ZM437.57,229.72a2.1,2.1 0 1,0 4.2,0a2.1,2.1 0 1,0 -4.2,0ZM438.12,229.22a2.1,2.1 0 1,0 4.2,0a2.1,2.1 0 1,0 -4.2,0ZM438.67,229.56a2.1,2.1 0 1,0 4.2,0a2.1,2.1 0 1,0 -4.2,0ZM439.21,231.04a2.1,2.1 0 1,0 4.2,0a2.1,2.1 0 1,0 -4.2,0ZM439.76,229.65a2.1,2.1 0 1,0 4.2,0a2.1,2.1 0 1,0 -4.2,0ZM440.31,229.92a2.1,2.1 0 1,0 4.2,0a2.1,2.1 0 1,0 -4.2,0ZM440.85,232.10a2.1,2.1 0 1,0 4.2,0a2.1,2.1 0 1,0 -4.2,0ZM441.40,231.05a2.1,2.1 0 1,0 4.2,0a2.1,2.1 0 1,0 -4.2,0Z" fill="none" stroke="#1550DC" stroke-width="1.4" stroke-linejoin="round"/>
<path d="M276.60,239.46h5.80v5.80h-5.80ZM277.15,239.10h5.80v5.80h-5.80ZM277.69,239.50h5.80v5.80h-5.80ZM278.24,239.28h5.80v5.80h-5.80ZM278.79,239.08h5.80v5.80h-5.80ZM279.33,239.43h5.80v5.80h-5.80ZM279.88,239.18h5.80v5.80h-5.80ZM280.43,239.58h5.80v5.80h-5.80ZM280.97,239.39h5.80v5.80h-5.80ZM281.52,239.45h5.80v5.80h-5.80ZM282.07,239.41h5.80v5.80h-5.80ZM282.61,239.20h5.80v5.80h-5.80ZM283.16,238.94h5.80v5.80h-5.80ZM283.71,239.57h5.80v5.80h-5.80ZM284.25,239.55h5.80v5.80h-5.80ZM284.80,239.33h5.80v5.80h-5.80ZM285.35,239.65h5.80v5.80h-5.80ZM285.89,239.33h5.80v5.80h-5.80ZM286.44,239.31h5.80v5.80h-5.80ZM286.99,239.49h5.80v5.80h-5.80ZM287.53,239.32h5.80v5.80h-5.80ZM288.08,239.76h5.80v5.80h-5.80ZM288.63,239.28h5.80v5.80h-5.80ZM289.17,239.76h5.80v5.80h-5.80ZM289.72,239.58h5.80v5.80h-5.80ZM290.27,239.55h5.80v5.80h-5.80ZM290.81,239.52h5.80v5.80h-5.80ZM291.36,239.25h5.80v5.80h-5.80ZM291.91,239.42h5.80v5.80h-5.80ZM292.45,239.52h5.80v5.80h-5.80ZM293.00,239.32h5.80v5.80h-5.80ZM293.55,239.10h5.80v5.80h-5.80ZM294.09,239.43h5.80v5.80h-5.80ZM294.64,239.36h5.80v5.80h-5.80ZM295.19,239.18h5.80v5.80h-5.80ZM295.73,239.38h5.80v5.80h-5.80ZM296.28,239.70h5.80v5.80h-5.80ZM296.83,238.91h5.80v5.80h-5.80ZM297.37,238.97h5.80v5.80h-5.80ZM297.92,239.85h5.80v5.80h-5.80ZM298.47,239.44h5.80v5.80h-5.80ZM299.01,239.35h5.80v5.80h-5.80ZM299.56,239.23h5.80v5.80h-5.80ZM300.11,239.29h5.80v5.80h-5.80ZM300.65,239.49h5.80v5.80h-5.80ZM301.20,239.65h5.80v5.80h-5.80ZM301.75,239.41h5.80v5.80h-5.80ZM302.29,239.22h5.80v5.80h-5.80ZM302.84,239.66h5.80v5.80h-5.80ZM303.39,239.65h5.80v5.80h-5.80ZM303.93,239.44h5.80v5.80h-5.80ZM304.48,239.84h5.80v5.80h-5.80ZM305.03,239.49h5.80v5.80h-5.80ZM305.57,239.52h5.80v5.80h-5.80ZM306.12,239.34h5.80v5.80h-5.80ZM306.67,239.58h5.80v5.80h-5.80ZM307.21,239.62h5.80v5.80h-5.80ZM307.76,239.52h5.80v5.80h-5.80ZM308.31,239.44h5.80v5.80h-5.80ZM308.85,239.57h5.80v5.80h-5.80ZM309.40,239.43h5.80v5.80h-5.80ZM309.95,239.28h5.80v5.80h-5.80ZM310.49,239.19h5.80v5.80h-5.80ZM311.04,239.08h5.80v5.80h-5.80ZM311.59,239.60h5.80v5.80h-5.80ZM312.13,239.52h5.80v5.80h-5.80ZM312.68,239.95h5.80v5.80h-5.80ZM313.23,239.04h5.80v5.80h-5.80ZM313.77,239.58h5.80v5.80h-5.80ZM314.32,239.44h5.80v5.80h-5.80ZM314.87,239.32h5.80v5.80h-5.80ZM315.41,239.72h5.80v5.80h-5.80ZM315.96,239.34h5.80v5.80h-5.80ZM316.51,239.44h5.80v5.80h-5.80ZM317.05,239.81h5.80v5.80h-5.80ZM317.60,239.37h5.80v5.80h-5.80ZM318.15,239.18h5.80v5.80h-5.80ZM318.69,239.82h5.80v5.80h-5.80ZM319.24,239.27h5.80v5.80h-5.80ZM319.79,239.39h5.80v5.80h-5.80ZM320.33,239.33h5.80v5.80h-5.80ZM320.88,239.34h5.80v5.80h-5.80ZM321.43,239.16h5.80v5.80h-5.80ZM321.97,239.48h5.80v5.80h-5.80ZM322.52,239.25h5.80v5.80h-5.80ZM323.07,239.52h5.80v5.80h-5.80ZM323.61,239.28h5.80v5.80h-5.80ZM324.16,239.60h5.80v5.80h-5.80ZM324.71,239.46h5.80v5.80h-5.80ZM325.25,239.07h5.80v5.80h-5.80ZM325.80,239.34h5.80v5.80h-5.80ZM326.35,239.47h5.80v5.80h-5.80ZM326.89,239.67h5.80v5.80h-5.80ZM327.44,239.60h5.80v5.80h-5.80ZM327.99,239.39h5.80v5.80h-5.80ZM328.53,239.24h5.80v5.80h-5.80ZM329.08,239.34h5.80v5.80h-5.80ZM329.63,239.32h5.80v5.80h-5.80ZM330.17,239.44h5.80v5.80h-5.80ZM330.72,239.15h5.80v5.80h-5.80ZM331.27,239.51h5.80v5.80h-5.80ZM331.81,239.55h5.80v5.80h-5.80ZM332.36,239.25h5.80v5.80h-5.80ZM332.91,239.42h5.80v5.80h-5.80ZM333.45,239.49h5.80v5.80h-5.80ZM334.00,239.55h5.80v5.80h-5.80ZM334.55,239.49h5.80v5.80h-5.80ZM335.09,239.30h5.80v5.80h-5.80ZM335.64,239.36h5.80v5.80h-5.80ZM336.19,239.69h5.80v5.80h-5.80ZM336.73,239.34h5.80v5.80h-5.80ZM337.28,239.40h5.80v5.80h-5.80ZM337.83,239.64h5.80v5.80h-5.80ZM338.37,239.27h5.80v5.80h-5.80ZM338.92,239.49h5.80v5.80h-5.80ZM339.47,239.50h5.80v5.80h-5.80ZM340.01,239.27h5.80v5.80h-5.80ZM340.56,239.16h5.80v5.80h-5.80ZM341.11,239.58h5.80v5.80h-5.80ZM341.65,239.34h5.80v5.80h-5.80ZM342.20,239.62h5.80v5.80h-5.80ZM342.75,238.95h5.80v5.80h-5.80ZM343.29,239.54h5.80v5.80h-5.80ZM343.84,239.18h5.80v5.80h-5.80ZM344.39,239.57h5.80v5.80h-5.80ZM344.93,239.26h5.80v5.80h-5.80ZM345.48,238.97h5.80v5.80h-5.80ZM346.03,239.96h5.80v5.80h-5.80ZM346.57,239.52h5.80v5.80h-5.80ZM347.12,239.33h5.80v5.80h-5.80ZM347.67,239.45h5.80v5.80h-5.80ZM348.21,239.57h5.80v5.80h-5.80ZM348.76,238.98h5.80v5.80h-5.80ZM349.31,239.42h5.80v5.80h-5.80ZM349.85,239.78h5.80v5.80h-5.80ZM350.40,239.26h5.80v5.80h-5.80ZM350.95,239.79h5.80v5.80h-5.80ZM351.49,239.19h5.80v5.80h-5.80ZM352.04,239.55h5.80v5.80h-5.80ZM352.59,239.40h5.80v5.80h-5.80ZM353.13,239.17h5.80v5.80h-5.80ZM353.68,239.41h5.80v5.80h-5.80ZM354.23,239.72h5.80v5.80h-5.80ZM354.77,239.79h5.80v5.80h-5.80ZM355.32,239.19h5.80v5.80h-5.80ZM355.87,239.28h5.80v5.80h-5.80ZM356.41,239.60h5.80v5.80h-5.80ZM356.96,239.25h5.80v5.80h-5.80ZM357.51,239.33h5.80v5.80h-5.80ZM358.05,239.30h5.80v5.80h-5.80ZM358.60,239.90h5.80v5.80h-5.80ZM359.15,239.50h5.80v5.80h-5.80ZM359.69,239.25h5.80v5.80h-5.80ZM360.24,239.28h5.80v5.80h-5.80ZM360.79,239.25h5.80v5.80h-5.80ZM361.33,239.95h5.80v5.80h-5.80ZM361.88,239.40h5.80v5.80h-5.80ZM362.43,239.33h5.80v5.80h-5.80ZM362.97,238.90h5.80v5.80h-5.80ZM363.52,239.63h5.80v5.80h-5.80ZM364.07,239.50h5.80v5.80h-5.80ZM364.61,239.43h5.80v5.80h-5.80ZM365.16,239.25h5.80v5.80h-5.80ZM365.71,239.53h5.80v5.80h-5.80ZM366.25,239.19h5.80v5.80h-5.80ZM366.80,239.60h5.80v5.80h-5.80ZM367.35,239.38h5.80v5.80h-5.80ZM367.89,239.54h5.80v5.80h-5.80ZM368.44,239.40h5.80v5.80h-5.80ZM368.99,239.58h5.80v5.80h-5.80ZM369.53,239.77h5.80v5.80h-5.80ZM370.08,239.21h5.80v5.80h-5.80ZM370.63,239.37h5.80v5.80h-5.80ZM371.17,239.55h5.80v5.80h-5.80ZM371.72,239.39h5.80v5.80h-5.80ZM372.27,239.23h5.80v5.80h-5.80ZM372.81,239.64h5.80v5.80h-5.80ZM373.36,239.46h5.80v5.80h-5.80ZM373.91,239.32h5.80v5.80h-5.80ZM374.45,239.32h5.80v5.80h-5.80ZM375.00,239.50h5.80v5.80h-5.80ZM375.55,239.87h5.80v5.80h-5.80ZM376.09,239.17h5.80v5.80h-5.80ZM376.64,239.36h5.80v5.80h-5.80ZM377.19,239.43h5.80v5.80h-5.80ZM377.73,239.49h5.80v5.80h-5.80ZM378.28,239.38h5.80v5.80h-5.80ZM378.83,239.52h5.80v5.80h-5.80ZM379.37,239.65h5.80v5.80h-5.80ZM379.92,239.59h5.80v5.80h-5.80ZM380.47,239.56h5.80v5.80h-5.80ZM381.01,239.56h5.80v5.80h-5.80ZM381.56,239.67h5.80v5.80h-5.80ZM382.11,239.30h5.80v5.80h-5.80ZM382.65,239.71h5.80v5.80h-5.80ZM383.20,239.30h5.80v5.80h-5.80ZM383.75,239.64h5.80v5.80h-5.80ZM384.29,239.36h5.80v5.80h-5.80ZM384.84,239.15h5.80v5.80h-5.80ZM385.39,239.39h5.80v5.80h-5.80ZM385.93,239.59h5.80v5.80h-5.80ZM386.48,239.42h5.80v5.80h-5.80ZM387.03,239.40h5.80v5.80h-5.80ZM387.57,239.79h5.80v5.80h-5.80ZM388.12,239.56h5.80v5.80h-5.80ZM388.67,239.40h5.80v5.80h-5.80ZM389.21,239.53h5.80v5.80h-5.80ZM389.76,239.42h5.80v5.80h-5.80ZM390.31,239.28h5.80v5.80h-5.80ZM390.85,239.27h5.80v5.80h-5.80ZM391.40,239.24h5.80v5.80h-5.80ZM391.95,239.31h5.80v5.80h-5.80ZM392.49,239.49h5.80v5.80h-5.80ZM393.04,239.44h5.80v5.80h-5.80ZM393.59,239.49h5.80v5.80h-5.80ZM394.13,239.50h5.80v5.80h-5.80ZM394.68,239.47h5.80v5.80h-5.80ZM395.23,239.79h5.80v5.80h-5.80ZM395.77,239.50h5.80v5.80h-5.80ZM396.32,239.44h5.80v5.80h-5.80ZM396.87,239.64h5.80v5.80h-5.80ZM397.41,239.44h5.80v5.80h-5.80ZM397.96,239.33h5.80v5.80h-5.80ZM398.51,239.47h5.80v5.80h-5.80ZM399.05,239.00h5.80v5.80h-5.80ZM399.60,239.98h5.80v5.80h-5.80ZM400.15,239.48h5.80v5.80h-5.80ZM400.69,239.81h5.80v5.80h-5.80ZM401.24,239.23h5.80v5.80h-5.80ZM401.79,238.88h5.80v5.80h-5.80ZM402.33,239.95h5.80v5.80h-5.80ZM402.88,239.41h5.80v5.80h-5.80ZM403.43,239.33h5.80v5.80h-5.80ZM403.97,239.50h5.80v5.80h-5.80ZM404.52,239.32h5.80v5.80h-5.80ZM405.07,239.90h5.80v5.80h-5.80ZM405.61,239.26h5.80v5.80h-5.80ZM406.16,239.36h5.80v5.80h-5.80ZM406.71,239.43h5.80v5.80h-5.80ZM407.25,239.56h5.80v5.80h-5.80ZM407.80,239.30h5.80v5.80h-5.80ZM408.35,239.53h5.80v5.80h-5.80ZM408.89,239.39h5.80v5.80h-5.80ZM409.44,239.54h5.80v5.80h-5.80ZM409.99,239.90h5.80v5.80h-5.80ZM410.53,239.44h5.80v5.80h-5.80ZM411.08,239.39h5.80v5.80h-5.80ZM411.63,239.28h5.80v5.80h-5.80ZM412.17,239.62h5.80v5.80h-5.80ZM412.72,239.44h5.80v5.80h-5.80ZM413.27,239.30h5.80v5.80h-5.80ZM413.81,239.40h5.80v5.80h-5.80ZM414.36,239.17h5.80v5.80h-5.80ZM414.91,239.02h5.80v5.80h-5.80ZM415.45,239.62h5.80v5.80h-5.80ZM416.00,239.83h5.80v5.80h-5.80ZM416.55,239.25h5.80v5.80h-5.80ZM417.09,239.11h5.80v5.80h-5.80ZM417.64,239.24h5.80v5.80h-5.80ZM418.19,239.26h5.80v5.80h-5.80ZM418.73,239.56h5.80v5.80h-5.80ZM419.28,239.58h5.80v5.80h-5.80ZM419.83,239.25h5.80v5.80h-5.80ZM420.37,239.62h5.80v5.80h-5.80ZM420.92,239.81h5.80v5.80h-5.80ZM421.47,239.64h5.80v5.80h-5.80ZM422.01,238.91h5.80v5.80h-5.80ZM422.56,239.03h5.80v5.80h-5.80ZM423.11,239.58h5.80v5.80h-5.80ZM423.65,239.59h5.80v5.80h-5.80ZM424.20,239.39h5.80v5.80h-5.80ZM424.75,239.59h5.80v5.80h-5.80ZM425.29,239.16h5.80v5.80h-5.80ZM425.84,239.45h5.80v5.80h-5.80ZM426.39,239.66h5.80v5.80h-5.80ZM426.93,239.16h5.80v5.80h-5.80ZM427.48,239.55h5.80v5.80h-5.80ZM428.03,239.39h5.80v5.80h-5.80ZM428.57,239.44h5.80v5.80h-5.80ZM429.12,239.50h5.80v5.80h-5.80ZM429.67,239.37h5.80v5.80h-5.80ZM430.21,239.58h5.80v5.80h-5.80ZM430.76,239.82h5.80v5.80h-5.80ZM431.31,239.89h5.80v5.80h-5.80ZM431.85,239.70h5.80v5.80h-5.80ZM432.40,239.59h5.80v5.80h-5.80ZM432.95,239.44h5.80v5.80h-5.80ZM433.49,239.42h5.80v5.80h-5.80ZM434.04,239.32h5.80v5.80h-5.80ZM434.59,239.41h5.80v5.80h-5.80ZM435.13,239.60h5.80v5.80h-5.80ZM435.68,239.58h5.80v5.80h-5.80ZM436.23,239.87h5.80v5.80h-5.80ZM436.77,239.47h5.80v5.80h-5.80ZM437.32,239.33h5.80v5.80h-5.80ZM437.87,239.32h5.80v5.80h-5.80ZM438.41,239.46h5.80v5.80h-5.80ZM438.96,239.47h5.80v5.80h-5.80ZM439.51,239.24h5.80v5.80h-5.80ZM440.05,239.43h5.80v5.80h-5.80ZM440.60,239.28h5.80v5.80h-5.80Z" fill="none" stroke="#0A0AEB" stroke-width="1.5" stroke-linejoin="round"/>
</g>
<rect x="49.5" y="6.5" width="163.0" height="250.0" fill="none" stroke="#4d4d4d" stroke-width="1"/>
<rect x="279.5" y="6.5" width="164.0" height="250.0" fill="none" stroke="#4d4d4d" stroke-width="1"/>
<path d="M49.5,256.50h2.5M212.5,256.50h-2.5M279.5,256.50h2.5M443.5,256.50h-2.5M49.5,214.83h2.5M212.5,214.83h-2.5M279.5,214.83h2.5M443.5,214.83h-2.5M49.5,173.17h2.5M212.5,173.17h-2.5M279.5,173.17h2.5M443.5,173.17h-2.5M49.5,131.50h2.5M212.5,131.50h-2.5M279.5,131.50h2.5M443.5,131.50h-2.5M49.5,89.83h2.5M212.5,89.83h-2.5M279.5,89.83h2.5M443.5,89.83h-2.5M49.5,48.17h2.5M212.5,48.17h-2.5M279.5,48.17h2.5M443.5,48.17h-2.5M49.5,6.50h2.5M212.5,6.50h-2.5M279.5,6.50h2.5M443.5,6.50h-2.5M49.50,256.5v-2.5M49.50,6.5v2.5M70.82,256.5v-1.5M70.82,6.5v1.5M83.30,256.5v-1.5M83.30,6.5v1.5M92.15,256.5v-1.5M92.15,6.5v1.5M99.01,256.5v-1.5M99.01,6.5v1.5M104.62,256.5v-1.5M104.62,6.5v1.5M109.36,256.5v-1.5M109.36,6.5v1.5M113.47,256.5v-1.5M113.47,6.5v1.5M117.10,256.5v-1.5M117.10,6.5v1.5M120.34,256.5v-2.5M120.34,6.5v2.5M141.66,256.5v-1.5M141.66,6.5v1.5M154.14,256.5v-1.5M154.14,6.5v1.5M162.99,256.5v-1.5M162.99,6.5v1.5M169.85,256.5v-1.5M169.85,6.5v1.5M175.46,256.5v-1.5M175.46,6.5v1.5M180.20,256.5v-1.5M180.20,6.5v1.5M184.31,256.5v-1.5M184.31,6.5v1.5M187.93,256.5v-1.5M187.93,6.5v1.5M191.18,256.5v-2.5M191.18,6.5v2.5M212.50,256.5v-1.5M212.50,6.5v1.5M279.50,256.5v-2.5M279.50,6.5v2.5M334.17,256.5v-2.5M334.17,6.5v2.5M388.83,256.5v-2.5M388.83,6.5v2.5M443.50,256.5v-2.5M443.50,6.5v2.5" stroke="#4d4d4d" stroke-width="1" fill="none"/>
<text x="42.50" y="263.71" font-size="16.5" text-anchor="end" fill="#000" font-family="Liberation Sans, sans-serif" >0</text>
<text x="273.00" y="263.71" font-size="16.5" text-anchor="end" fill="#000" font-family="Liberation Sans, sans-serif" >0</text>
<text x="42.50" y="222.04" font-size="16.5" text-anchor="end" fill="#000" font-family="Liberation Sans, sans-serif" >2</text>
<text x="273.00" y="222.04" font-size="16.5" text-anchor="end" fill="#000" font-family="Liberation Sans, sans-serif" >2</text>
<text x="42.50" y="180.37" font-size="16.5" text-anchor="end" fill="#000" font-family="Liberation Sans, sans-serif" >4</text>
<text x="273.00" y="180.37" font-size="16.5" text-anchor="end" fill="#000" font-family="Liberation Sans, sans-serif" >4</text>
<text x="42.50" y="138.71" font-size="16.5" text-anchor="end" fill="#000" font-family="Liberation Sans, sans-serif" >6</text>
<text x="273.00" y="138.71" font-size="16.5" text-anchor="end" fill="#000" font-family="Liberation Sans, sans-serif" >6</text>
<text x="42.50" y="97.04" font-size="16.5" text-anchor="end" fill="#000" font-family="Liberation Sans, sans-serif" >8</text>
<text x="273.00" y="97.04" font-size="16.5" text-anchor="end" fill="#000" font-family="Liberation Sans, sans-serif" >8</text>
<text x="42.50" y="55.37" font-size="16.5" text-anchor="end" fill="#000" font-family="Liberation Sans, sans-serif" >10</text>
<text x="273.00" y="55.37" font-size="16.5" text-anchor="end" fill="#000" font-family="Liberation Sans, sans-serif" >10</text>
<text x="42.50" y="13.71" font-size="16.5" text-anchor="end" fill="#000" font-family="Liberation Sans, sans-serif" >12</text>
<text x="273.00" y="13.71" font-size="16.5" text-anchor="end" fill="#000" font-family="Liberation Sans, sans-serif" >12</text>
<text x="49.50" y="282.00" font-size="16.5" text-anchor="middle" fill="#000" font-family="Liberation Sans, sans-serif" >1</text>
<text x="120.34" y="282.00" font-size="16.5" text-anchor="middle" fill="#000" font-family="Liberation Sans, sans-serif" >10</text>
<text x="191.18" y="282.00" font-size="16.5" text-anchor="middle" fill="#000" font-family="Liberation Sans, sans-serif" >100</text>
<text x="279.50" y="282.00" font-size="16.5" text-anchor="middle" fill="#000" font-family="Liberation Sans, sans-serif" >0</text>
<text x="334.17" y="282.00" font-size="16.5" text-anchor="middle" fill="#000" font-family="Liberation Sans, sans-serif" >100</text>
<text x="388.83" y="282.00" font-size="16.5" text-anchor="middle" fill="#000" font-family="Liberation Sans, sans-serif" >200</text>
<text x="443.50" y="282.00" font-size="16.5" text-anchor="middle" fill="#000" font-family="Liberation Sans, sans-serif" >300</text>
<text x="129.60" y="307.50" font-size="19.6" text-anchor="middle" fill="#000" font-family="Liberation Sans, sans-serif" ># of pulses</text>
<text x="360.60" y="307.50" font-size="19.6" text-anchor="middle" fill="#000" font-family="Liberation Sans, sans-serif" ># of pulses</text>
<text x="0.00" y="0.00" font-size="19.6" text-anchor="middle" fill="#000" font-family="Liberation Sans, sans-serif" transform="translate(14.5,131.3) rotate(-90)">Resistance (kΩ)</text>
<text x="0.00" y="0.00" font-size="19.6" text-anchor="middle" fill="#000" font-family="Liberation Sans, sans-serif" transform="translate(245.5,131.3) rotate(-90)">Resistance (kΩ)</text>
<text x="1.50" y="13.50" font-size="16.5" text-anchor="start" fill="#000" font-family="Liberation Sans, sans-serif" >a)</text>
<text x="231.50" y="13.50" font-size="16.5" text-anchor="start" fill="#000" font-family="Liberation Sans, sans-serif" >b)</text>
<path d="M60.55,15.40h6.20v6.20h-6.20Z" fill="none" stroke="#2a22d0" stroke-width="1.15"/>
<text x="89.00" y="23.98" font-size="15.3" text-anchor="start" fill="#000" font-family="Liberation Sans, sans-serif" >0.3 V</text>
<path d="M61.40,39.60a2.25,2.25 0 1,0 4.5,0a2.25,2.25 0 1,0 -4.5,0Z" fill="none" stroke="#1550DC" stroke-width="1.15"/>
<text x="89.00" y="44.98" font-size="15.3" text-anchor="start" fill="#000" font-family="Liberation Sans, sans-serif" >0.65 V</text>
<path d="M63.60,58.70L66.55,63.10L60.65,63.10Z" fill="none" stroke="#1A80C4" stroke-width="1.15"/>
<text x="89.00" y="65.98" font-size="15.3" text-anchor="start" fill="#000" font-family="Liberation Sans, sans-serif" >0.8 V</text>
<path d="M63.60,85.00L66.55,80.60L60.65,80.60Z" fill="none" stroke="#1CC0A2" stroke-width="1.15"/>
<text x="89.00" y="87.48" font-size="15.3" text-anchor="start" fill="#000" font-family="Liberation Sans, sans-serif" >0.9 V</text>
<defs><clipPath id="hc1"><rect x="532.3" y="6.2" width="119.70" height="113.10"/></clipPath></defs>
<g clip-path="url(#hc1)" shape-rendering="crispEdges">
<rect x="532.30" y="6.20" width="9.55" height="15.14" fill="#4A3ADF"/>
<rect x="540.85" y="6.20" width="9.55" height="15.14" fill="#4A3ADF"/>
<rect x="549.40" y="6.20" width="9.55" height="15.14" fill="#4A3ADF"/>
<rect x="557.95" y="6.20" width="9.55" height="15.14" fill="#4A3ADF"/>
<rect x="566.50" y="6.20" width="9.55" height="15.14" fill="#4A3ADF"/>
<rect x="575.05" y="6.20" width="9.55" height="15.14" fill="#4A3ADF"/>
<rect x="583.60" y="6.20" width="9.55" height="15.14" fill="#4A3ADF"/>
<rect x="592.15" y="6.20" width="9.55" height="15.14" fill="#4A3ADF"/>
<rect x="600.70" y="6.20" width="9.55" height="15.14" fill="#4A3ADF"/>
<rect x="609.25" y="6.20" width="9.55" height="15.14" fill="#4A3ADF"/>
<rect x="617.80" y="6.20" width="9.55" height="15.14" fill="#4844E4"/>
<rect x="626.35" y="6.20" width="9.55" height="15.14" fill="#3F56EE"/>
<rect x="634.90" y="6.20" width="9.55" height="15.14" fill="#20A8D4"/>
<rect x="643.45" y="6.20" width="9.55" height="15.14" fill="#22A8D0"/>
<rect x="532.30" y="20.34" width="9.55" height="15.14" fill="#4A3ADF"/>
<rect x="540.85" y="20.34" width="9.55" height="15.14" fill="#4A3ADF"/>
<rect x="549.40" y="20.34" width="9.55" height="15.14" fill="#4A3ADF"/>
<rect x="557.95" y="20.34" width="9.55" height="15.14" fill="#4A3ADF"/>
<rect x="566.50" y="20.34" width="9.55" height="15.14" fill="#4A3ADF"/>
<rect x="575.05" y="20.34" width="9.55" height="15.14" fill="#4A3ADF"/>
<rect x="583.60" y="20.34" width="9.55" height="15.14" fill="#4A3ADF"/>
<rect x="592.15" y="20.34" width="9.55" height="15.14" fill="#4A3ADF"/>
<rect x="600.70" y="20.34" width="9.55" height="15.14" fill="#4A3ADF"/>
<rect x="609.25" y="20.34" width="9.55" height="15.14" fill="#4A3ADF"/>
<rect x="617.80" y="20.34" width="9.55" height="15.14" fill="#4545E2"/>
<rect x="626.35" y="20.34" width="9.55" height="15.14" fill="#3F55EC"/>
<rect x="634.90" y="20.34" width="9.55" height="15.14" fill="#2796E4"/>
<rect x="643.45" y="20.34" width="9.55" height="15.14" fill="#20BCA8"/>
<rect x="532.30" y="34.48" width="9.55" height="15.14" fill="#4A3ADF"/>
<rect x="540.85" y="34.48" width="9.55" height="15.14" fill="#4A3ADF"/>
<rect x="549.40" y="34.48" width="9.55" height="15.14" fill="#4A3ADF"/>
<rect x="557.95" y="34.48" width="9.55" height="15.14" fill="#4A3ADF"/>
<rect x="566.50" y="34.48" width="9.55" height="15.14" fill="#4A3ADF"/>
<rect x="575.05" y="34.48" width="9.55" height="15.14" fill="#4737D6"/>
<rect x="583.60" y="34.48" width="9.55" height="15.14" fill="#4A3ADF"/>
<rect x="592.15" y="34.48" width="9.55" height="15.14" fill="#4A3ADF"/>
<rect x="600.70" y="34.48" width="9.55" height="15.14" fill="#4A3ADF"/>
<rect x="609.25" y="34.48" width="9.55" height="15.14" fill="#4A3ADF"/>
<rect x="617.80" y="34.48" width="9.55" height="15.14" fill="#4A3ADF"/>
<rect x="626.35" y="34.48" width="9.55" height="15.14" fill="#4650EC"/>
<rect x="634.90" y="34.48" width="9.55" height="15.14" fill="#4652F0"/>
<rect x="643.45" y="34.48" width="9.55" height="15.14" fill="#2196DC"/>
<rect x="532.30" y="48.61" width="9.55" height="15.14" fill="#4A3ADF"/>
<rect x="540.85" y="48.61" width="9.55" height="15.14" fill="#4A3ADF"/>
<rect x="549.40" y="48.61" width="9.55" height="15.14" fill="#4A3ADF"/>
<rect x="557.95" y="48.61" width="9.55" height="15.14" fill="#4A3ADF"/>
<rect x="566.50" y="48.61" width="9.55" height="15.14" fill="#4A3ADF"/>
<rect x="575.05" y="48.61" width="9.55" height="15.14" fill="#4A3ADF"/>
<rect x="583.60" y="48.61" width="9.55" height="15.14" fill="#4A3ADF"/>
<rect x="592.15" y="48.61" width="9.55" height="15.14" fill="#4A3ADF"/>
<rect x="600.70" y="48.61" width="9.55" height="15.14" fill="#4A3ADF"/>
<rect x="609.25" y="48.61" width="9.55" height="15.14" fill="#4A3ADF"/>
<rect x="617.80" y="48.61" width="9.55" height="15.14" fill="#4634CE"/>
<rect x="626.35" y="48.61" width="9.55" height="15.14" fill="#4550EC"/>
<rect x="634.90" y="48.61" width="9.55" height="15.14" fill="#2A8AE8"/>
<rect x="643.45" y="48.61" width="9.55" height="15.14" fill="#1E9CD8"/>
<rect x="532.30" y="62.75" width="9.55" height="15.14" fill="#4A3ADF"/>
<rect x="540.85" y="62.75" width="9.55" height="15.14" fill="#4A3ADF"/>
<rect x="549.40" y="62.75" width="9.55" height="15.14" fill="#4A3ADF"/>
<rect x="557.95" y="62.75" width="9.55" height="15.14" fill="#4A3ADF"/>
<rect x="566.50" y="62.75" width="9.55" height="15.14" fill="#4A3ADF"/>
<rect x="575.05" y="62.75" width="9.55" height="15.14" fill="#4A3ADF"/>
<rect x="583.60" y="62.75" width="9.55" height="15.14" fill="#4A3ADF"/>
<rect x="592.15" y="62.75" width="9.55" height="15.14" fill="#4650F0"/>
<rect x="600.70" y="62.75" width="9.55" height="15.14" fill="#4658F0"/>
<rect x="609.25" y="62.75" width="9.55" height="15.14" fill="#3878F2"/>
<rect x="617.80" y="62.75" width="9.55" height="15.14" fill="#2896E4"/>
<rect x="626.35" y="62.75" width="9.55" height="15.14" fill="#1AACD0"/>
<rect x="634.90" y="62.75" width="9.55" height="15.14" fill="#54C278"/>
<rect x="643.45" y="62.75" width="9.55" height="15.14" fill="#F0B830"/>
<rect x="532.30" y="76.89" width="9.55" height="15.14" fill="#4A3ADF"/>
<rect x="540.85" y="76.89" width="9.55" height="15.14" fill="#4A3ADF"/>
<rect x="549.40" y="76.89" width="9.55" height="15.14" fill="#4A3ADF"/>
<rect x="557.95" y="76.89" width="9.55" height="15.14" fill="#4A3ADF"/>
<rect x="566.50" y="76.89" width="9.55" height="15.14" fill="#4A3ADF"/>
<rect x="575.05" y="76.89" width="9.55" height="15.14" fill="#4A3ADF"/>
<rect x="583.60" y="76.89" width="9.55" height="15.14" fill="#4A3ADF"/>
<rect x="592.15" y="76.89" width="9.55" height="15.14" fill="#4650F0"/>
<rect x="600.70" y="76.89" width="9.55" height="15.14" fill="#4658F0"/>
<rect x="609.25" y="76.89" width="9.55" height="15.14" fill="#3080F0"/>
<rect x="617.80" y="76.89" width="9.55" height="15.14" fill="#2896E4"/>
<rect x="626.35" y="76.89" width="9.55" height="15.14" fill="#20BCA8"/>
<rect x="634.90" y="76.89" width="9.55" height="15.14" fill="#A8C840"/>
<rect x="643.45" y="76.89" width="9.55" height="15.14" fill="#48C488"/>
<rect x="532.30" y="91.02" width="9.55" height="15.14" fill="#4A3ADF"/>
<rect x="540.85" y="91.02" width="9.55" height="15.14" fill="#4A3ADF"/>
<rect x="549.40" y="91.02" width="9.55" height="15.14" fill="#4A3ADF"/>
<rect x="557.95" y="91.02" width="9.55" height="15.14" fill="#4A3ADF"/>
<rect x="566.50" y="91.02" width="9.55" height="15.14" fill="#4A3ADF"/>
<rect x="575.05" y="91.02" width="9.55" height="15.14" fill="#4A3ADF"/>
<rect x="583.60" y="91.02" width="9.55" height="15.14" fill="#4640E2"/>
<rect x="592.15" y="91.02" width="9.55" height="15.14" fill="#3A70F0"/>
<rect x="600.70" y="91.02" width="9.55" height="15.14" fill="#3A72F2"/>
<rect x="609.25" y="91.02" width="9.55" height="15.14" fill="#18A4D8"/>
<rect x="617.80" y="91.02" width="9.55" height="15.14" fill="#24B4B8"/>
<rect x="626.35" y="91.02" width="9.55" height="15.14" fill="#48C080"/>
<rect x="634.90" y="91.02" width="9.55" height="15.14" fill="#F0B040"/>
<rect x="643.45" y="91.02" width="9.55" height="15.14" fill="#F8F020"/>
<rect x="532.30" y="105.16" width="9.55" height="15.14" fill="#4A3ADF"/>
<rect x="540.85" y="105.16" width="9.55" height="15.14" fill="#4A3ADF"/>
<rect x="549.40" y="105.16" width="9.55" height="15.14" fill="#4A3ADF"/>
<rect x="557.95" y="105.16" width="9.55" height="15.14" fill="#4A3ADF"/>
<rect x="566.50" y="105.16" width="9.55" height="15.14" fill="#4A3ADF"/>
<rect x="575.05" y="105.16" width="9.55" height="15.14" fill="#4A3ADF"/>
<rect x="583.60" y="105.16" width="9.55" height="15.14" fill="#4644E2"/>
<rect x="592.15" y="105.16" width="9.55" height="15.14" fill="#4444E4"/>
<rect x="600.70" y="105.16" width="9.55" height="15.14" fill="#4450EE"/>
<rect x="609.25" y="105.16" width="9.55" height="15.14" fill="#1CA0DC"/>
<rect x="617.80" y="105.16" width="9.55" height="15.14" fill="#18A8D0"/>
<rect x="626.35" y="105.16" width="9.55" height="15.14" fill="#20B4B4"/>
<rect x="634.90" y="105.16" width="9.55" height="15.14" fill="#F8B830"/>
<rect x="643.45" y="105.16" width="9.55" height="15.14" fill="#F8B830"/>
</g>
<defs><clipPath id="hc2"><rect x="532.3" y="143.4" width="119.70" height="113.20"/></clipPath></defs>
<g clip-path="url(#hc2)" shape-rendering="crispEdges">
<rect x="532.30" y="143.40" width="9.55" height="15.15" fill="#3F2BB6"/>
<rect x="540.85" y="143.40" width="9.55" height="15.15" fill="#3F2BB6"/>
<rect x="549.40" y="143.40" width="9.55" height="15.15" fill="#3F2BB6"/>
<rect x="557.95" y="143.40" width="9.55" height="15.15" fill="#3F2BB6"/>
<rect x="566.50" y="143.40" width="9.55" height="15.15" fill="#3F2BB6"/>
<rect x="575.05" y="143.40" width="9.55" height="15.15" fill="#3F2BB6"/>
<rect x="583.60" y="143.40" width="9.55" height="15.15" fill="#3F2BB6"/>
<rect x="592.15" y="143.40" width="9.55" height="15.15" fill="#3F2BB6"/>
<rect x="600.70" y="143.40" width="9.55" height="15.15" fill="#3F2BB6"/>
<rect x="609.25" y="143.40" width="9.55" height="15.15" fill="#3F2BB6"/>
<rect x="617.80" y="143.40" width="9.55" height="15.15" fill="#4232C4"/>
<rect x="626.35" y="143.40" width="9.55" height="15.15" fill="#4646E4"/>
<rect x="634.90" y="143.40" width="9.55" height="15.15" fill="#20A4E0"/>
<rect x="643.45" y="143.40" width="9.55" height="15.15" fill="#D8BC28"/>
<rect x="532.30" y="157.55" width="9.55" height="15.15" fill="#3F2BB6"/>
<rect x="540.85" y="157.55" width="9.55" height="15.15" fill="#3F2BB6"/>
<rect x="549.40" y="157.55" width="9.55" height="15.15" fill="#3F2BB6"/>
<rect x="557.95" y="157.55" width="9.55" height="15.15" fill="#3F2BB6"/>
<rect x="566.50" y="157.55" width="9.55" height="15.15" fill="#3F2BB6"/>
<rect x="575.05" y="157.55" width="9.55" height="15.15" fill="#3F2BB6"/>
<rect x="583.60" y="157.55" width="9.55" height="15.15" fill="#3F2BB6"/>
<rect x="592.15" y="157.55" width="9.55" height="15.15" fill="#3F2BB6"/>
<rect x="600.70" y="157.55" width="9.55" height="15.15" fill="#3F2BB6"/>
<rect x="609.25" y="157.55" width="9.55" height="15.15" fill="#3F2BB6"/>
<rect x="617.80" y="157.55" width="9.55" height="15.15" fill="#4232C4"/>
<rect x="626.35" y="157.55" width="9.55" height="15.15" fill="#4646E4"/>
<rect x="634.90" y="157.55" width="9.55" height="15.15" fill="#20A4E0"/>
<rect x="643.45" y="157.55" width="9.55" height="15.15" fill="#D8BC28"/>
<rect x="532.30" y="171.70" width="9.55" height="15.15" fill="#3F2BB6"/>
<rect x="540.85" y="171.70" width="9.55" height="15.15" fill="#3F2BB6"/>
<rect x="549.40" y="171.70" width="9.55" height="15.15" fill="#3F2BB6"/>
<rect x="557.95" y="171.70" width="9.55" height="15.15" fill="#3F2BB6"/>
<rect x="566.50" y="171.70" width="9.55" height="15.15" fill="#3F2BB6"/>
<rect x="575.05" y="171.70" width="9.55" height="15.15" fill="#3F2BB6"/>
<rect x="583.60" y="171.70" width="9.55" height="15.15" fill="#3F2BB6"/>
<rect x="592.15" y="171.70" width="9.55" height="15.15" fill="#3F2BB6"/>
<rect x="600.70" y="171.70" width="9.55" height="15.15" fill="#3F2BB6"/>
<rect x="609.25" y="171.70" width="9.55" height="15.15" fill="#3F2BB6"/>
<rect x="617.80" y="171.70" width="9.55" height="15.15" fill="#4030BE"/>
<rect x="626.35" y="171.70" width="9.55" height="15.15" fill="#4434C8"/>
<rect x="634.90" y="171.70" width="9.55" height="15.15" fill="#4636D0"/>
<rect x="643.45" y="171.70" width="9.55" height="15.15" fill="#3388F0"/>
<rect x="532.30" y="185.85" width="9.55" height="15.15" fill="#3F2BB6"/>
<rect x="540.85" y="185.85" width="9.55" height="15.15" fill="#3F2BB6"/>
<rect x="549.40" y="185.85" width="9.55" height="15.15" fill="#3F2BB6"/>
<rect x="557.95" y="185.85" width="9.55" height="15.15" fill="#3F2BB6"/>
<rect x="566.50" y="185.85" width="9.55" height="15.15" fill="#3F2BB6"/>
<rect x="575.05" y="185.85" width="9.55" height="15.15" fill="#3F2BB6"/>
<rect x="583.60" y="185.85" width="9.55" height="15.15" fill="#3F2BB6"/>
<rect x="592.15" y="185.85" width="9.55" height="15.15" fill="#3F2BB6"/>
<rect x="600.70" y="185.85" width="9.55" height="15.15" fill="#3F2BB6"/>
<rect x="609.25" y="185.85" width="9.55" height="15.15" fill="#3F2BB6"/>
<rect x="617.80" y="185.85" width="9.55" height="15.15" fill="#3F2BB6"/>
<rect x="626.35" y="185.85" width="9.55" height="15.15" fill="#4436D0"/>
<rect x="634.90" y="185.85" width="9.55" height="15.15" fill="#4848E4"/>
<rect x="643.45" y="185.85" width="9.55" height="15.15" fill="#3388F0"/>
<rect x="532.30" y="200.00" width="9.55" height="15.15" fill="#3F2BB6"/>
<rect x="540.85" y="200.00" width="9.55" height="15.15" fill="#3F2BB6"/>
<rect x="549.40" y="200.00" width="9.55" height="15.15" fill="#3F2BB6"/>
<rect x="557.95" y="200.00" width="9.55" height="15.15" fill="#3F2BB6"/>
<rect x="566.50" y="200.00" width="9.55" height="15.15" fill="#3F2BB6"/>
<rect x="575.05" y="200.00" width="9.55" height="15.15" fill="#4030BC"/>
<rect x="583.60" y="200.00" width="9.55" height="15.15" fill="#4232C4"/>
<rect x="592.15" y="200.00" width="9.55" height="15.15" fill="#4840E0"/>
<rect x="600.70" y="200.00" width="9.55" height="15.15" fill="#4844E2"/>
<rect x="609.25" y="200.00" width="9.55" height="15.15" fill="#4548E8"/>
<rect x="617.80" y="200.00" width="9.55" height="15.15" fill="#2C8CEC"/>
<rect x="626.35" y="200.00" width="9.55" height="15.15" fill="#18A8DC"/>
<rect x="634.90" y="200.00" width="9.55" height="15.15" fill="#20BCA8"/>
<rect x="643.45" y="200.00" width="9.55" height="15.15" fill="#F8C830"/>
<rect x="532.30" y="214.15" width="9.55" height="15.15" fill="#3F2BB6"/>
<rect x="540.85" y="214.15" width="9.55" height="15.15" fill="#3F2BB6"/>
<rect x="549.40" y="214.15" width="9.55" height="15.15" fill="#3F2BB6"/>
<rect x="557.95" y="214.15" width="9.55" height="15.15" fill="#3F2BB6"/>
<rect x="566.50" y="214.15" width="9.55" height="15.15" fill="#3F2BB6"/>
<rect x="575.05" y="214.15" width="9.55" height="15.15" fill="#4030BC"/>
<rect x="583.60" y="214.15" width="9.55" height="15.15" fill="#4232C4"/>
<rect x="592.15" y="214.15" width="9.55" height="15.15" fill="#4840E0"/>
<rect x="600.70" y="214.15" width="9.55" height="15.15" fill="#4640E0"/>
<rect x="609.25" y="214.15" width="9.55" height="15.15" fill="#4448E8"/>
<rect x="617.80" y="214.15" width="9.55" height="15.15" fill="#2C8CEC"/>
<rect x="626.35" y="214.15" width="9.55" height="15.15" fill="#18A8DC"/>
<rect x="634.90" y="214.15" width="9.55" height="15.15" fill="#90C848"/>
<rect x="643.45" y="214.15" width="9.55" height="15.15" fill="#F8C830"/>
<rect x="532.30" y="228.30" width="9.55" height="15.15" fill="#3F2BB6"/>
<rect x="540.85" y="228.30" width="9.55" height="15.15" fill="#3F2BB6"/>
<rect x="549.40" y="228.30" width="9.55" height="15.15" fill="#3F2BB6"/>
<rect x="557.95" y="228.30" width="9.55" height="15.15" fill="#3F2BB6"/>
<rect x="566.50" y="228.30" width="9.55" height="15.15" fill="#3F2BB6"/>
<rect x="575.05" y="228.30" width="9.55" height="15.15" fill="#4030BC"/>
<rect x="583.60" y="228.30" width="9.55" height="15.15" fill="#4232C4"/>
<rect x="592.15" y="228.30" width="9.55" height="15.15" fill="#4848E8"/>
<rect x="600.70" y="228.30" width="9.55" height="15.15" fill="#4848E8"/>
<rect x="609.25" y="228.30" width="9.55" height="15.15" fill="#2C90EC"/>
<rect x="617.80" y="228.30" width="9.55" height="15.15" fill="#28C0A0"/>
<rect x="626.35" y="228.30" width="9.55" height="15.15" fill="#10B4C4"/>
<rect x="634.90" y="228.30" width="9.55" height="15.15" fill="#C8BC38"/>
<rect x="643.45" y="228.30" width="9.55" height="15.15" fill="#F0B030"/>
<rect x="532.30" y="242.45" width="9.55" height="15.15" fill="#3F2BB6"/>
<rect x="540.85" y="242.45" width="9.55" height="15.15" fill="#3F2BB6"/>
<rect x="549.40" y="242.45" width="9.55" height="15.15" fill="#3F2BB6"/>
<rect x="557.95" y="242.45" width="9.55" height="15.15" fill="#3F2BB6"/>
<rect x="566.50" y="242.45" width="9.55" height="15.15" fill="#3F2BB6"/>
<rect x="575.05" y="242.45" width="9.55" height="15.15" fill="#4030BC"/>
<rect x="583.60" y="242.45" width="9.55" height="15.15" fill="#4232C4"/>
<rect x="592.15" y="242.45" width="9.55" height="15.15" fill="#4232C8"/>
<rect x="600.70" y="242.45" width="9.55" height="15.15" fill="#4234CC"/>
<rect x="609.25" y="242.45" width="9.55" height="15.15" fill="#2C90EC"/>
<rect x="617.80" y="242.45" width="9.55" height="15.15" fill="#28C0A0"/>
<rect x="626.35" y="242.45" width="9.55" height="15.15" fill="#C8C030"/>
<rect x="634.90" y="242.45" width="9.55" height="15.15" fill="#F8E820"/>
<rect x="643.45" y="242.45" width="9.55" height="15.15" fill="#F8E820"/>
</g>
<path d="M627.70,10.40L624.89,20.80M623.14,27.30L620.33,37.70M618.57,44.20L615.77,54.60M614.01,61.10L611.20,71.50M609.45,78.00L606.64,88.40M604.88,94.90L602.08,105.30M600.32,111.80L598.30,119.30" stroke="#fff" stroke-width="1.9" fill="none"/>
<path d="M625.60,144.20L622.79,154.60M621.04,161.10L618.23,171.50M616.47,178.00L613.67,188.40M611.91,194.90L609.10,205.30M607.35,211.80L604.54,222.20M602.78,228.70L599.98,239.10M598.22,245.60L595.41,256.00" stroke="#fff" stroke-width="1.9" fill="none"/>
<path d="M552.20,119.3v-2.2M552.20,6.2v2.2M592.00,119.3v-2.2M592.00,6.2v2.2M631.80,119.3v-2.2M631.80,6.2v2.2M532.3,13.40h2.2M652.0,13.40h-2.2M532.3,46.30h2.2M652.0,46.30h-2.2M532.3,79.20h2.2M652.0,79.20h-2.2M532.3,112.10h2.2M652.0,112.10h-2.2M552.20,256.6v-2.2M552.20,143.4v2.2M592.00,256.6v-2.2M592.00,143.4v2.2M631.80,256.6v-2.2M631.80,143.4v2.2M532.3,143.60h2.2M652.0,143.60h-2.2M532.3,181.30h2.2M652.0,181.30h-2.2M532.3,219.00h2.2M652.0,219.00h-2.2M532.3,256.70h2.2M652.0,256.70h-2.2" stroke="#1a1a1a" stroke-width="1" fill="none"/>
<rect x="532.3" y="6.2" width="119.70" height="113.10" fill="none" stroke="#262626" stroke-width="0.9"/>
<rect x="532.3" y="143.4" width="119.70" height="113.20" fill="none" stroke="#262626" stroke-width="0.9"/>
<defs><linearGradient id="pg" x1="0" y1="0" x2="0" y2="1"><stop offset="0.000" stop-color="#F8F418"/><stop offset="0.050" stop-color="#F8D828"/><stop offset="0.120" stop-color="#F4B834"/><stop offset="0.200" stop-color="#D0BC38"/><stop offset="0.300" stop-color="#90C450"/><stop offset="0.400" stop-color="#40C088"/><stop offset="0.500" stop-color="#1CB8B4"/><stop offset="0.600" stop-color="#16A6D8"/><stop offset="0.700" stop-color="#2888E6"/><stop offset="0.800" stop-color="#3A64F0"/><stop offset="0.880" stop-color="#4848E4"/><stop offset="0.940" stop-color="#4433CC"/><stop offset="1.000" stop-color="#3B2AA8"/></linearGradient></defs>
<rect x="657.3" y="6.2" width="12.20" height="113.10" fill="url(#pg)" stroke="#262626" stroke-width="0.9"/>
<rect x="657.3" y="143.4" width="12.20" height="113.20" fill="url(#pg)" stroke="#262626" stroke-width="0.9"/>
<path d="M669.5,119.30h-2.2M669.5,72.17h-2.2M669.5,25.05h-2.2M669.5,256.60h-2.2M669.5,211.32h-2.2M669.5,166.04h-2.2" stroke="#1a1a1a" stroke-width="1" fill="none"/>
<text x="675.50" y="126.41" font-size="16.5" text-anchor="start" fill="#000" font-family="Liberation Sans, sans-serif" >0</text>
<text x="675.50" y="79.28" font-size="16.5" text-anchor="start" fill="#000" font-family="Liberation Sans, sans-serif" >5</text>
<text x="675.50" y="32.16" font-size="16.5" text-anchor="start" fill="#000" font-family="Liberation Sans, sans-serif" >10</text>
<text x="675.50" y="263.71" font-size="16.5" text-anchor="start" fill="#000" font-family="Liberation Sans, sans-serif" >0</text>
<text x="675.50" y="218.43" font-size="16.5" text-anchor="start" fill="#000" font-family="Liberation Sans, sans-serif" >.2</text>
<text x="675.50" y="173.15" font-size="16.5" text-anchor="start" fill="#000" font-family="Liberation Sans, sans-serif" >.4</text>
<text x="509.60" y="20.91" font-size="16.5" text-anchor="end" fill="#000" font-family="Liberation Sans, sans-serif" >100</text>
<text x="524.90" y="20.91" font-size="16.5" text-anchor="end" fill="#000" font-family="Liberation Sans, sans-serif" >n</text>
<text x="509.60" y="54.41" font-size="16.5" text-anchor="end" fill="#000" font-family="Liberation Sans, sans-serif" >1</text>
<text x="515.0" y="54.41" font-size="18.5" font-family="Liberation Serif, serif" font-style="italic">μ</text>
<text x="509.60" y="87.91" font-size="16.5" text-anchor="end" fill="#000" font-family="Liberation Sans, sans-serif" >10</text>
<text x="515.0" y="87.91" font-size="18.5" font-family="Liberation Serif, serif" font-style="italic">μ</text>
<text x="509.60" y="120.21" font-size="16.5" text-anchor="end" fill="#000" font-family="Liberation Sans, sans-serif" >100</text>
<text x="515.0" y="120.21" font-size="18.5" font-family="Liberation Serif, serif" font-style="italic">μ</text>
<text x="509.60" y="150.91" font-size="16.5" text-anchor="end" fill="#000" font-family="Liberation Sans, sans-serif" >100</text>
<text x="524.90" y="150.91" font-size="16.5" text-anchor="end" fill="#000" font-family="Liberation Sans, sans-serif" >n</text>
<text x="509.60" y="188.91" font-size="16.5" text-anchor="end" fill="#000" font-family="Liberation Sans, sans-serif" >1</text>
<text x="515.0" y="188.91" font-size="18.5" font-family="Liberation Serif, serif" font-style="italic">μ</text>
<text x="509.60" y="227.81" font-size="16.5" text-anchor="end" fill="#000" font-family="Liberation Sans, sans-serif" >10</text>
<text x="515.0" y="227.81" font-size="18.5" font-family="Liberation Serif, serif" font-style="italic">μ</text>
<text x="509.60" y="264.41" font-size="16.5" text-anchor="end" fill="#000" font-family="Liberation Sans, sans-serif" >100</text>
<text x="515.0" y="264.41" font-size="18.5" font-family="Liberation Serif, serif" font-style="italic">μ</text>
<text x="552.20" y="282.00" font-size="16.5" text-anchor="middle" fill="#000" font-family="Liberation Sans, sans-serif" >0.4</text>
<text x="592.00" y="282.00" font-size="16.5" text-anchor="middle" fill="#000" font-family="Liberation Sans, sans-serif" >0.6</text>
<text x="631.80" y="282.00" font-size="16.5" text-anchor="middle" fill="#000" font-family="Liberation Sans, sans-serif" >0.8</text>
<text x="592.00" y="307.00" font-size="19.6" text-anchor="middle" fill="#000" font-family="Liberation Sans, sans-serif" >Voltage (V)</text>
<text x="0.00" y="0.00" font-size="19.6" text-anchor="middle" fill="#000" font-family="Liberation Sans, sans-serif" transform="translate(472,62.8) rotate(-90)">Timewidth (s)</text>
<text x="0.00" y="0.00" font-size="19.6" text-anchor="middle" fill="#000" font-family="Liberation Sans, sans-serif" transform="translate(471.5,201.2) rotate(-90)">Timewidth (s)</text>
<text x="0.00" y="0.00" font-size="19.6" text-anchor="middle" fill="#000" font-family="Liberation Sans, sans-serif" transform="translate(717.5,62.8) rotate(-90)">Resistance</text>
<text x="0.00" y="0.00" font-size="19.6" text-anchor="middle" fill="#000" font-family="Liberation Sans, sans-serif" transform="translate(742.5,62.8) rotate(-90)">Window</text>
<text x="0.00" y="0.00" font-size="18.6" text-anchor="middle" fill="#000" font-family="Liberation Sans, sans-serif" transform="translate(714.2,200) rotate(-90)">Noise</text>
<text x="0.00" y="0.00" font-size="19.6" text-anchor="middle" fill="#000" font-family="Liberation Sans, sans-serif" transform="translate(739.5,200) rotate(-90)">Amplitude (kΩ)</text>
<text x="535.00" y="24.90" font-size="16.5" text-anchor="start" fill="#fff" font-family="Liberation Sans, sans-serif" >c)</text>
<text x="535.00" y="163.00" font-size="16.5" text-anchor="start" fill="#fff" font-family="Liberation Sans, sans-serif" >d)</text>
</svg>
</div></body></html>
